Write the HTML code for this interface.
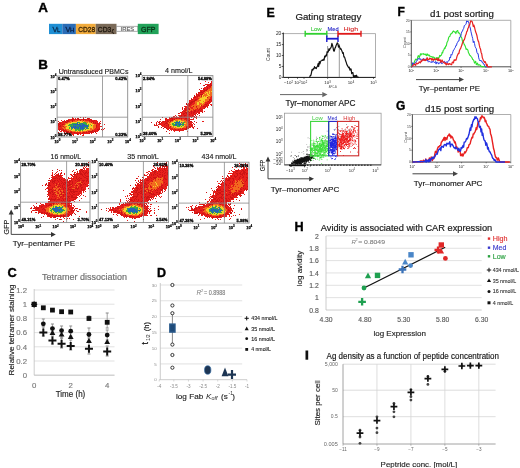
<!DOCTYPE html>
<html><head><meta charset="utf-8"><style>
html,body{margin:0;padding:0;background:#fff;width:520px;height:468px;overflow:hidden}
svg{display:block;filter:blur(0.3px);font-family:"Liberation Sans", sans-serif}
</style></head><body>
<svg width="520" height="468" viewBox="0 0 520 468" shape-rendering="auto">
<rect width="520" height="468" fill="#fff"/>
<text x="38.20" y="11.60" font-size="13.4" font-weight="bold" style="stroke:#000;stroke-width:0.402">A</text>
<rect x="49.00" y="23.80" width="13.30" height="10.30" fill="#1f8fd4" />
<rect x="62.30" y="23.80" width="13.60" height="10.30" fill="#2a6cb6" />
<rect x="75.90" y="23.80" width="19.80" height="10.30" fill="#f1ab3c" />
<rect x="95.70" y="23.80" width="20.80" height="10.30" fill="#7a6a58" />
<rect x="116.50" y="26.30" width="21.30" height="5.00" fill="#fff" stroke="#9a9a9a" stroke-width="0.8" />
<rect x="137.80" y="23.80" width="20.80" height="10.30" fill="#22a35a" />
<text x="52.40" y="31.60" font-size="7.4" fill="#0d2c4e" style="stroke:#0d2c4e;stroke-width:0.3">V</text>
<text x="57.00" y="31.90" font-size="6.0" fill="#0d2c4e" style="stroke:#0d2c4e;stroke-width:0.3">L</text>
<text x="65.40" y="31.60" font-size="7.4" fill="#0a2248" style="stroke:#0a2248;stroke-width:0.3">V</text>
<text x="70.00" y="31.90" font-size="6.0" fill="#0a2248" style="stroke:#0a2248;stroke-width:0.3">H</text>
<text x="78.30" y="31.60" font-size="7.4" fill="#3a2404" textLength="16.80" lengthAdjust="spacingAndGlyphs" style="stroke:#3a2404;stroke-width:0.3">CD28</text>
<text x="97.80" y="31.60" font-size="7.4" fill="#1e160c" textLength="13.40" lengthAdjust="spacingAndGlyphs" style="stroke:#1e160c;stroke-width:0.3">CD3</text>
<text x="111.40" y="32.60" font-size="6.0" fill="#1e160c" style="stroke:#1e160c;stroke-width:0.2">ζ</text>
<text x="120.60" y="30.70" font-size="5.4" fill="#5a5a5a" textLength="13.60" lengthAdjust="spacingAndGlyphs" style="stroke:#5a5a5a;stroke-width:0.15">IRES</text>
<text x="141.00" y="31.60" font-size="7.4" fill="#083418" textLength="14.40" lengthAdjust="spacingAndGlyphs" style="stroke:#083418;stroke-width:0.3">GFP</text>
<text x="38.20" y="68.75" font-size="13.4" font-weight="bold" style="stroke:#000;stroke-width:0.402">B</text>
<path fill="#e8201c" d="M80 117h1v1h-1zM83 117h1v1h-1zM85 117h1v1h-1zM72 118h2v1h-2zM75 118h1v1h-1zM89 118h1v1h-1zM68 119h3v1h-3zM74 119h1v1h-1zM76 119h2v1h-2zM80 119h1v1h-1zM82 119h1v1h-1zM86 119h2v1h-2zM89 119h1v1h-1zM91 119h1v1h-1zM61 120h1v1h-1zM64 120h1v1h-1zM66 120h1v1h-1zM69 120h3v1h-3zM73 120h2v1h-2zM77 120h1v1h-1zM85 120h4v1h-4zM90 120h1v1h-1zM92 120h2v1h-2zM95 120h2v1h-2zM62 121h1v1h-1zM64 121h1v1h-1zM66 121h1v1h-1zM69 121h1v1h-1zM89 121h3v1h-3zM94 121h4v1h-4zM100 121h1v1h-1zM60 122h5v1h-5zM67 122h1v1h-1zM94 122h1v1h-1zM96 122h2v1h-2zM99 122h1v1h-1zM59 123h1v1h-1zM61 123h4v1h-4zM93 123h2v1h-2zM96 123h1v1h-1zM98 123h2v1h-2zM60 124h2v1h-2zM64 124h1v1h-1zM96 124h3v1h-3zM104 124h1v1h-1zM59 125h1v1h-1zM61 125h2v1h-2zM97 125h3v1h-3zM58 126h1v1h-1zM61 126h2v1h-2zM97 126h5v1h-5zM58 127h4v1h-4zM64 127h1v1h-1zM97 127h3v1h-3zM58 128h5v1h-5zM95 128h4v1h-4zM104 128h1v1h-1zM58 129h1v1h-1zM61 129h2v1h-2zM65 129h1v1h-1zM94 129h3v1h-3zM103 129h1v1h-1zM61 130h2v1h-2zM65 130h2v1h-2zM93 130h5v1h-5zM102 130h1v1h-1zM60 131h2v1h-2zM63 131h3v1h-3zM70 131h2v1h-2zM86 131h1v1h-1zM93 131h1v1h-1zM96 131h2v1h-2zM64 132h1v1h-1zM68 132h2v1h-2zM72 132h2v1h-2zM75 132h6v1h-6zM82 132h1v1h-1zM85 132h1v1h-1zM87 132h4v1h-4zM92 132h1v1h-1zM64 133h1v1h-1zM66 133h1v1h-1zM71 133h5v1h-5zM78 133h4v1h-4zM83 133h6v1h-6zM91 133h1v1h-1zM96 133h1v1h-1zM65 134h1v1h-1zM72 134h2v1h-2zM78 134h1v1h-1zM80 134h1v1h-1zM83 134h1v1h-1zM73 135h1v1h-1zM82 135h2v1h-2z"/>
<path fill="#cc1414" d="M72 117h1v1h-1zM77 118h2v1h-2zM83 118h1v1h-1zM87 118h2v1h-2zM71 119h3v1h-3zM75 119h1v1h-1zM78 119h2v1h-2zM81 119h1v1h-1zM83 119h3v1h-3zM88 119h1v1h-1zM90 119h1v1h-1zM67 120h2v1h-2zM72 120h1v1h-1zM80 120h1v1h-1zM83 120h1v1h-1zM89 120h1v1h-1zM91 120h1v1h-1zM94 120h1v1h-1zM58 121h1v1h-1zM63 121h1v1h-1zM65 121h1v1h-1zM67 121h2v1h-2zM72 121h1v1h-1zM92 121h2v1h-2zM59 122h1v1h-1zM65 122h2v1h-2zM91 122h1v1h-1zM93 122h1v1h-1zM95 122h1v1h-1zM58 123h1v1h-1zM60 123h1v1h-1zM95 123h1v1h-1zM97 123h1v1h-1zM100 123h1v1h-1zM58 124h2v1h-2zM62 124h2v1h-2zM99 124h1v1h-1zM58 125h1v1h-1zM60 125h1v1h-1zM96 125h1v1h-1zM59 126h2v1h-2zM63 126h1v1h-1zM96 126h1v1h-1zM96 127h1v1h-1zM99 128h1v1h-1zM102 128h1v1h-1zM59 129h2v1h-2zM63 129h1v1h-1zM97 129h3v1h-3zM101 129h1v1h-1zM59 130h1v1h-1zM63 130h2v1h-2zM92 130h1v1h-1zM98 130h1v1h-1zM66 131h3v1h-3zM88 131h5v1h-5zM94 131h2v1h-2zM58 132h1v1h-1zM66 132h2v1h-2zM70 132h2v1h-2zM74 132h1v1h-1zM83 132h2v1h-2zM86 132h1v1h-1zM91 132h1v1h-1zM93 132h1v1h-1zM95 132h1v1h-1zM69 133h1v1h-1zM76 133h2v1h-2zM82 133h1v1h-1zM89 133h1v1h-1zM69 134h2v1h-2zM77 134h1v1h-1z"/>
<path fill="#f26a1e" d="M75 120h2v1h-2zM78 120h2v1h-2zM81 120h2v1h-2zM84 120h1v1h-1zM70 121h2v1h-2zM73 121h4v1h-4zM82 121h1v1h-1zM84 121h5v1h-5zM68 122h3v1h-3zM86 122h2v1h-2zM89 122h2v1h-2zM92 122h1v1h-1zM65 123h3v1h-3zM92 123h1v1h-1zM65 124h1v1h-1zM90 124h1v1h-1zM94 124h2v1h-2zM63 125h2v1h-2zM93 125h3v1h-3zM64 126h3v1h-3zM93 126h3v1h-3zM62 127h2v1h-2zM65 127h1v1h-1zM93 127h3v1h-3zM63 128h3v1h-3zM90 128h2v1h-2zM93 128h2v1h-2zM64 129h1v1h-1zM66 129h3v1h-3zM90 129h4v1h-4zM67 130h4v1h-4zM87 130h5v1h-5zM69 131h1v1h-1zM72 131h4v1h-4zM77 131h1v1h-1zM79 131h2v1h-2zM82 131h4v1h-4zM87 131h1v1h-1zM81 132h1v1h-1z"/>
<path fill="#f5d02a" d="M77 121h5v1h-5zM83 121h1v1h-1zM71 122h6v1h-6zM80 122h3v1h-3zM88 122h1v1h-1zM68 123h4v1h-4zM78 123h1v1h-1zM87 123h5v1h-5zM66 124h3v1h-3zM87 124h1v1h-1zM89 124h1v1h-1zM91 124h3v1h-3zM65 125h3v1h-3zM89 125h2v1h-2zM92 125h1v1h-1zM67 126h3v1h-3zM89 126h4v1h-4zM66 127h3v1h-3zM70 127h1v1h-1zM88 127h5v1h-5zM66 128h3v1h-3zM70 128h1v1h-1zM73 128h1v1h-1zM85 128h1v1h-1zM89 128h1v1h-1zM92 128h1v1h-1zM69 129h2v1h-2zM72 129h3v1h-3zM84 129h1v1h-1zM86 129h4v1h-4zM71 130h4v1h-4zM77 130h1v1h-1zM81 130h1v1h-1zM83 130h4v1h-4zM76 131h1v1h-1zM78 131h1v1h-1zM81 131h1v1h-1z"/>
<path fill="#3cae3c" d="M78 122h2v1h-2zM83 122h3v1h-3zM72 123h5v1h-5zM79 123h2v1h-2zM83 123h4v1h-4zM69 124h2v1h-2zM72 124h1v1h-1zM81 124h1v1h-1zM85 124h2v1h-2zM88 124h1v1h-1zM68 125h5v1h-5zM74 125h1v1h-1zM76 125h1v1h-1zM78 125h1v1h-1zM88 125h1v1h-1zM91 125h1v1h-1zM70 126h1v1h-1zM72 126h1v1h-1zM77 126h1v1h-1zM88 126h1v1h-1zM69 127h1v1h-1zM79 127h1v1h-1zM84 127h3v1h-3zM69 128h1v1h-1zM71 128h1v1h-1zM76 128h1v1h-1zM79 128h1v1h-1zM87 128h2v1h-2zM71 129h1v1h-1zM75 129h5v1h-5zM81 129h1v1h-1zM83 129h1v1h-1zM85 129h1v1h-1zM75 130h2v1h-2zM78 130h3v1h-3zM82 130h1v1h-1z"/>
<path fill="#2466b4" d="M77 122h1v1h-1zM77 123h1v1h-1zM81 123h2v1h-2zM71 124h1v1h-1zM73 124h8v1h-8zM82 124h3v1h-3zM73 125h1v1h-1zM75 125h1v1h-1zM77 125h1v1h-1zM79 125h9v1h-9zM71 126h1v1h-1zM73 126h4v1h-4zM78 126h10v1h-10zM71 127h8v1h-8zM80 127h4v1h-4zM87 127h1v1h-1zM72 128h1v1h-1zM74 128h2v1h-2zM77 128h2v1h-2zM80 128h5v1h-5zM86 128h1v1h-1zM80 129h1v1h-1zM82 129h1v1h-1z"/>
<rect x="57.10" y="76.00" width="70.60" height="61.00" fill="none" stroke="#8a8a8a" stroke-width="0.9" />
<line x1="102.50" y1="76.00" x2="102.50" y2="137.00" stroke="#8a8a8a" stroke-width="0.8" />
<line x1="57.10" y1="117.20" x2="127.70" y2="117.20" stroke="#8a8a8a" stroke-width="0.8" />
<text x="58.00" y="80.40" font-size="4.1" font-weight="bold" style="stroke:#000;stroke-width:0.3">0.47%</text>
<text x="126.80" y="80.40" font-size="4.1" text-anchor="end" font-weight="bold" style="stroke:#000;stroke-width:0.3">0.42%</text>
<text x="58.00" y="135.80" font-size="4.1" font-weight="bold" style="stroke:#000;stroke-width:0.3">98.77%</text>
<text x="126.80" y="135.80" font-size="4.1" text-anchor="end" font-weight="bold" style="stroke:#000;stroke-width:0.3">0.33%</text>
<text x="54.70" y="138.60" font-size="3.8" text-anchor="end" font-weight="bold" style="stroke:#000;stroke-width:0.25">10</text>
<text x="54.70" y="136.60" font-size="3.0" font-weight="bold" style="stroke:#000;stroke-width:0.2">0</text>
<text x="56.50" y="142.80" font-size="3.8" text-anchor="middle" font-weight="bold" style="stroke:#000;stroke-width:0.25">10</text>
<text x="58.70" y="140.90" font-size="3.0" font-weight="bold" style="stroke:#000;stroke-width:0.2">0</text>
<text x="54.70" y="123.35" font-size="3.8" text-anchor="end" font-weight="bold" style="stroke:#000;stroke-width:0.25">10</text>
<text x="54.70" y="121.35" font-size="3.0" font-weight="bold" style="stroke:#000;stroke-width:0.2">1</text>
<text x="74.15" y="142.80" font-size="3.8" text-anchor="middle" font-weight="bold" style="stroke:#000;stroke-width:0.25">10</text>
<text x="76.35" y="140.90" font-size="3.0" font-weight="bold" style="stroke:#000;stroke-width:0.2">1</text>
<text x="54.70" y="108.10" font-size="3.8" text-anchor="end" font-weight="bold" style="stroke:#000;stroke-width:0.25">10</text>
<text x="54.70" y="106.10" font-size="3.0" font-weight="bold" style="stroke:#000;stroke-width:0.2">2</text>
<text x="91.80" y="142.80" font-size="3.8" text-anchor="middle" font-weight="bold" style="stroke:#000;stroke-width:0.25">10</text>
<text x="94.00" y="140.90" font-size="3.0" font-weight="bold" style="stroke:#000;stroke-width:0.2">2</text>
<text x="54.70" y="92.85" font-size="3.8" text-anchor="end" font-weight="bold" style="stroke:#000;stroke-width:0.25">10</text>
<text x="54.70" y="90.85" font-size="3.0" font-weight="bold" style="stroke:#000;stroke-width:0.2">3</text>
<text x="109.45" y="142.80" font-size="3.8" text-anchor="middle" font-weight="bold" style="stroke:#000;stroke-width:0.25">10</text>
<text x="111.65" y="140.90" font-size="3.0" font-weight="bold" style="stroke:#000;stroke-width:0.2">3</text>
<text x="54.70" y="77.60" font-size="3.8" text-anchor="end" font-weight="bold" style="stroke:#000;stroke-width:0.25">10</text>
<text x="54.70" y="75.60" font-size="3.0" font-weight="bold" style="stroke:#000;stroke-width:0.2">4</text>
<text x="127.10" y="142.80" font-size="3.8" text-anchor="middle" font-weight="bold" style="stroke:#000;stroke-width:0.25">10</text>
<text x="129.30" y="140.90" font-size="3.0" font-weight="bold" style="stroke:#000;stroke-width:0.2">4</text>
<text x="93.60" y="73.50" font-size="7.0" text-anchor="middle" fill="#1a1a1a" textLength="69.70" lengthAdjust="spacingAndGlyphs" style="stroke:#1a1a1a;stroke-width:0.140">Untransduced PBMCs</text>
<path fill="#e8201c" d="M209 78h1v1h-1zM205 81h1v1h-1zM211 81h1v1h-1zM208 82h1v1h-1zM211 82h1v1h-1zM200 83h1v1h-1zM211 83h1v1h-1zM206 84h4v1h-4zM211 84h1v1h-1zM203 85h1v1h-1zM209 85h1v1h-1zM207 86h2v1h-2zM204 87h3v1h-3zM208 87h3v1h-3zM201 88h1v1h-1zM204 88h3v1h-3zM208 88h2v1h-2zM205 89h1v1h-1zM200 90h4v1h-4zM200 91h1v1h-1zM202 91h1v1h-1zM203 92h1v1h-1zM196 93h1v1h-1zM198 93h6v1h-6zM197 94h1v1h-1zM199 94h1v1h-1zM197 95h1v1h-1zM195 96h2v1h-2zM198 96h2v1h-2zM211 96h1v1h-1zM193 97h1v1h-1zM196 97h2v1h-2zM210 97h2v1h-2zM191 98h1v1h-1zM193 98h6v1h-6zM210 98h2v1h-2zM193 99h2v1h-2zM197 99h1v1h-1zM211 99h1v1h-1zM189 100h5v1h-5zM196 100h1v1h-1zM210 100h1v1h-1zM189 101h2v1h-2zM207 101h1v1h-1zM209 101h3v1h-3zM193 102h2v1h-2zM205 102h4v1h-4zM210 102h1v1h-1zM188 103h2v1h-2zM192 103h3v1h-3zM205 103h2v1h-2zM208 103h2v1h-2zM188 104h1v1h-1zM191 104h3v1h-3zM204 104h1v1h-1zM207 104h2v1h-2zM210 104h2v1h-2zM188 105h1v1h-1zM190 105h2v1h-2zM203 105h3v1h-3zM207 105h1v1h-1zM184 106h1v1h-1zM186 106h5v1h-5zM201 106h2v1h-2zM206 106h2v1h-2zM182 107h1v1h-1zM185 107h2v1h-2zM188 107h1v1h-1zM190 107h3v1h-3zM196 107h1v1h-1zM200 107h6v1h-6zM207 107h1v1h-1zM185 108h3v1h-3zM189 108h1v1h-1zM191 108h2v1h-2zM199 108h1v1h-1zM201 108h3v1h-3zM182 109h1v1h-1zM184 109h1v1h-1zM186 109h3v1h-3zM193 109h1v1h-1zM195 109h4v1h-4zM200 109h1v1h-1zM202 109h1v1h-1zM183 110h2v1h-2zM186 110h2v1h-2zM191 110h1v1h-1zM193 110h1v1h-1zM196 110h2v1h-2zM199 110h1v1h-1zM201 110h2v1h-2zM183 111h1v1h-1zM185 111h1v1h-1zM190 111h1v1h-1zM192 111h2v1h-2zM196 111h1v1h-1zM198 111h3v1h-3zM202 111h1v1h-1zM204 111h1v1h-1zM180 112h5v1h-5zM188 112h1v1h-1zM190 112h1v1h-1zM192 112h1v1h-1zM195 112h4v1h-4zM179 113h1v1h-1zM181 113h2v1h-2zM185 113h1v1h-1zM187 113h4v1h-4zM192 113h1v1h-1zM194 113h2v1h-2zM198 113h1v1h-1zM181 114h2v1h-2zM184 114h3v1h-3zM188 114h1v1h-1zM190 114h4v1h-4zM195 114h1v1h-1zM175 115h1v1h-1zM178 115h3v1h-3zM182 115h2v1h-2zM186 115h6v1h-6zM193 115h1v1h-1zM199 115h1v1h-1zM173 116h2v1h-2zM176 116h1v1h-1zM179 116h1v1h-1zM182 116h2v1h-2zM185 116h2v1h-2zM188 116h2v1h-2zM191 116h1v1h-1zM193 116h1v1h-1zM169 117h1v1h-1zM172 117h1v1h-1zM174 117h2v1h-2zM179 117h11v1h-11zM194 117h1v1h-1zM196 117h1v1h-1zM165 118h1v1h-1zM169 118h1v1h-1zM173 118h3v1h-3zM177 118h2v1h-2zM180 118h1v1h-1zM182 118h3v1h-3zM188 118h2v1h-2zM193 118h1v1h-1zM196 118h1v1h-1zM160 119h1v1h-1zM166 119h6v1h-6zM173 119h1v1h-1zM181 119h1v1h-1zM184 119h3v1h-3zM188 119h3v1h-3zM192 119h2v1h-2zM165 120h2v1h-2zM168 120h2v1h-2zM186 120h2v1h-2zM159 121h2v1h-2zM162 121h1v1h-1zM164 121h1v1h-1zM166 121h1v1h-1zM187 121h3v1h-3zM202 121h2v1h-2zM156 122h1v1h-1zM158 122h1v1h-1zM162 122h4v1h-4zM167 122h1v1h-1zM169 122h1v1h-1zM189 122h4v1h-4zM160 123h5v1h-5zM188 123h4v1h-4zM193 123h1v1h-1zM154 124h1v1h-1zM158 124h2v1h-2zM161 124h3v1h-3zM165 124h3v1h-3zM188 124h1v1h-1zM190 124h3v1h-3zM155 125h3v1h-3zM161 125h5v1h-5zM167 125h1v1h-1zM188 125h3v1h-3zM192 125h1v1h-1zM162 126h6v1h-6zM186 126h3v1h-3zM190 126h3v1h-3zM194 126h1v1h-1zM166 127h5v1h-5zM187 127h2v1h-2zM190 127h1v1h-1zM192 127h1v1h-1zM167 128h6v1h-6zM174 128h1v1h-1zM180 128h1v1h-1zM183 128h3v1h-3zM187 128h2v1h-2zM193 128h1v1h-1zM167 129h1v1h-1zM170 129h5v1h-5zM176 129h2v1h-2zM179 129h6v1h-6zM169 130h1v1h-1zM171 130h1v1h-1zM173 130h11v1h-11zM174 131h1v1h-1zM179 131h1v1h-1zM187 131h1v1h-1zM169 133h1v1h-1z"/>
<path fill="#cc1414" d="M210 83h1v1h-1zM205 84h1v1h-1zM210 84h1v1h-1zM204 85h1v1h-1zM207 85h2v1h-2zM210 85h2v1h-2zM206 86h1v1h-1zM209 86h2v1h-2zM207 87h1v1h-1zM203 88h1v1h-1zM207 88h1v1h-1zM199 89h1v1h-1zM203 89h2v1h-2zM206 89h2v1h-2zM204 90h3v1h-3zM201 91h1v1h-1zM203 91h2v1h-2zM198 92h5v1h-5zM196 94h1v1h-1zM198 94h1v1h-1zM200 94h3v1h-3zM194 95h1v1h-1zM196 95h1v1h-1zM198 95h2v1h-2zM201 95h1v1h-1zM194 96h1v1h-1zM197 96h1v1h-1zM201 96h1v1h-1zM194 97h2v1h-2zM207 97h1v1h-1zM191 99h2v1h-2zM195 99h2v1h-2zM209 99h2v1h-2zM194 100h2v1h-2zM209 100h1v1h-1zM211 100h1v1h-1zM191 101h4v1h-4zM208 101h1v1h-1zM189 102h4v1h-4zM209 102h1v1h-1zM186 103h1v1h-1zM190 103h2v1h-2zM207 103h1v1h-1zM186 104h2v1h-2zM189 104h2v1h-2zM205 104h2v1h-2zM187 105h1v1h-1zM189 105h1v1h-1zM201 105h1v1h-1zM206 105h1v1h-1zM208 105h1v1h-1zM211 105h1v1h-1zM185 106h1v1h-1zM193 106h1v1h-1zM196 106h1v1h-1zM203 106h3v1h-3zM187 107h1v1h-1zM182 108h1v1h-1zM184 108h1v1h-1zM188 108h1v1h-1zM197 108h1v1h-1zM200 108h1v1h-1zM204 108h1v1h-1zM185 109h1v1h-1zM189 109h1v1h-1zM199 109h1v1h-1zM201 109h1v1h-1zM185 110h1v1h-1zM194 110h2v1h-2zM198 110h1v1h-1zM200 110h1v1h-1zM182 111h1v1h-1zM184 111h1v1h-1zM187 111h2v1h-2zM191 111h1v1h-1zM194 111h2v1h-2zM197 111h1v1h-1zM201 111h1v1h-1zM185 112h3v1h-3zM189 112h1v1h-1zM191 112h1v1h-1zM193 112h2v1h-2zM199 112h1v1h-1zM202 112h1v1h-1zM178 113h1v1h-1zM183 113h2v1h-2zM186 113h1v1h-1zM191 113h1v1h-1zM193 113h1v1h-1zM196 113h1v1h-1zM199 113h1v1h-1zM183 114h1v1h-1zM187 114h1v1h-1zM189 114h1v1h-1zM194 114h1v1h-1zM197 114h1v1h-1zM181 115h1v1h-1zM184 115h2v1h-2zM192 115h1v1h-1zM195 115h1v1h-1zM180 116h2v1h-2zM184 116h1v1h-1zM187 116h1v1h-1zM190 116h1v1h-1zM192 116h1v1h-1zM194 116h1v1h-1zM196 116h1v1h-1zM162 117h1v1h-1zM171 117h1v1h-1zM173 117h1v1h-1zM176 117h3v1h-3zM191 117h1v1h-1zM195 117h1v1h-1zM166 118h1v1h-1zM170 118h3v1h-3zM176 118h1v1h-1zM179 118h1v1h-1zM181 118h1v1h-1zM185 118h3v1h-3zM165 119h1v1h-1zM172 119h1v1h-1zM174 119h1v1h-1zM187 119h1v1h-1zM191 119h1v1h-1zM167 120h1v1h-1zM170 120h3v1h-3zM188 120h2v1h-2zM157 121h1v1h-1zM163 121h1v1h-1zM165 121h1v1h-1zM167 121h2v1h-2zM170 121h1v1h-1zM190 121h2v1h-2zM194 121h1v1h-1zM151 122h1v1h-1zM159 122h1v1h-1zM161 122h1v1h-1zM166 122h1v1h-1zM188 122h1v1h-1zM196 122h1v1h-1zM156 123h1v1h-1zM159 123h1v1h-1zM165 123h3v1h-3zM156 124h1v1h-1zM160 124h1v1h-1zM164 124h1v1h-1zM168 124h1v1h-1zM189 124h1v1h-1zM194 124h1v1h-1zM154 125h1v1h-1zM166 125h1v1h-1zM168 125h1v1h-1zM191 125h1v1h-1zM158 126h1v1h-1zM168 126h1v1h-1zM170 126h1v1h-1zM189 126h1v1h-1zM158 127h1v1h-1zM161 127h1v1h-1zM164 127h2v1h-2zM186 127h1v1h-1zM189 127h1v1h-1zM193 127h1v1h-1zM163 128h1v1h-1zM166 128h1v1h-1zM182 128h1v1h-1zM186 128h1v1h-1zM197 128h1v1h-1zM168 129h1v1h-1zM175 129h1v1h-1zM178 129h1v1h-1zM185 129h2v1h-2zM166 131h1v1h-1z"/>
<path fill="#f26a1e" d="M211 86h1v1h-1zM211 87h1v1h-1zM210 88h2v1h-2zM208 89h4v1h-4zM207 90h5v1h-5zM205 91h4v1h-4zM210 91h1v1h-1zM204 92h2v1h-2zM208 92h1v1h-1zM210 92h2v1h-2zM204 93h1v1h-1zM206 93h1v1h-1zM208 93h1v1h-1zM210 93h2v1h-2zM204 94h3v1h-3zM209 94h3v1h-3zM200 95h1v1h-1zM203 95h5v1h-5zM210 95h2v1h-2zM200 96h1v1h-1zM203 96h1v1h-1zM205 96h1v1h-1zM208 96h3v1h-3zM198 97h4v1h-4zM208 97h2v1h-2zM199 98h1v1h-1zM207 98h3v1h-3zM198 99h1v1h-1zM205 99h4v1h-4zM197 100h4v1h-4zM205 100h4v1h-4zM195 101h4v1h-4zM203 101h1v1h-1zM205 101h2v1h-2zM195 102h2v1h-2zM199 102h1v1h-1zM204 102h1v1h-1zM195 103h2v1h-2zM199 103h3v1h-3zM203 103h2v1h-2zM194 104h3v1h-3zM199 104h5v1h-5zM192 105h8v1h-8zM202 105h1v1h-1zM191 106h2v1h-2zM194 106h2v1h-2zM197 106h4v1h-4zM189 107h1v1h-1zM193 107h3v1h-3zM197 107h3v1h-3zM190 108h1v1h-1zM193 108h4v1h-4zM198 108h1v1h-1zM190 109h3v1h-3zM194 109h1v1h-1zM188 110h3v1h-3zM192 110h1v1h-1zM186 111h1v1h-1zM189 111h1v1h-1zM175 119h6v1h-6zM182 119h2v1h-2zM173 120h1v1h-1zM175 120h3v1h-3zM181 120h5v1h-5zM169 121h1v1h-1zM171 121h2v1h-2zM184 121h3v1h-3zM168 122h1v1h-1zM170 122h1v1h-1zM182 122h1v1h-1zM185 122h3v1h-3zM168 123h2v1h-2zM186 123h2v1h-2zM169 124h2v1h-2zM184 124h4v1h-4zM169 125h1v1h-1zM185 125h3v1h-3zM169 126h1v1h-1zM171 126h1v1h-1zM173 126h1v1h-1zM184 126h2v1h-2zM171 127h3v1h-3zM175 127h1v1h-1zM183 127h3v1h-3zM173 128h1v1h-1zM175 128h5v1h-5zM181 128h1v1h-1z"/>
<path fill="#f5d02a" d="M209 91h1v1h-1zM211 91h1v1h-1zM206 92h2v1h-2zM209 92h1v1h-1zM205 93h1v1h-1zM207 93h1v1h-1zM209 93h1v1h-1zM203 94h1v1h-1zM207 94h2v1h-2zM202 95h1v1h-1zM208 95h2v1h-2zM202 96h1v1h-1zM204 96h1v1h-1zM206 96h2v1h-2zM202 97h5v1h-5zM200 98h7v1h-7zM199 99h6v1h-6zM201 100h4v1h-4zM199 101h4v1h-4zM204 101h1v1h-1zM197 102h2v1h-2zM200 102h4v1h-4zM197 103h2v1h-2zM202 103h1v1h-1zM197 104h2v1h-2zM200 105h1v1h-1zM174 120h1v1h-1zM178 120h3v1h-3zM173 121h3v1h-3zM178 121h1v1h-1zM180 121h4v1h-4zM171 122h3v1h-3zM180 122h1v1h-1zM170 123h2v1h-2zM174 123h1v1h-1zM181 123h1v1h-1zM184 123h2v1h-2zM171 124h1v1h-1zM170 125h3v1h-3zM181 125h1v1h-1zM184 125h1v1h-1zM172 126h1v1h-1zM174 126h3v1h-3zM180 126h1v1h-1zM182 126h2v1h-2zM174 127h1v1h-1zM176 127h7v1h-7z"/>
<path fill="#3cae3c" d="M176 121h2v1h-2zM174 122h1v1h-1zM183 122h2v1h-2zM172 123h2v1h-2zM175 123h1v1h-1zM177 123h1v1h-1zM179 123h1v1h-1zM182 123h2v1h-2zM172 124h3v1h-3zM177 124h1v1h-1zM182 124h1v1h-1zM173 125h2v1h-2zM177 125h2v1h-2zM180 125h1v1h-1zM182 125h2v1h-2zM177 126h3v1h-3zM181 126h1v1h-1z"/>
<path fill="#2466b4" d="M179 121h1v1h-1zM175 122h5v1h-5zM181 122h1v1h-1zM176 123h1v1h-1zM178 123h1v1h-1zM180 123h1v1h-1zM175 124h2v1h-2zM178 124h4v1h-4zM183 124h1v1h-1zM175 125h2v1h-2zM179 125h1v1h-1z"/>
<rect x="142.20" y="75.60" width="70.70" height="60.90" fill="none" stroke="#8a8a8a" stroke-width="0.9" />
<line x1="187.80" y1="75.60" x2="187.80" y2="136.50" stroke="#8a8a8a" stroke-width="0.8" />
<line x1="142.20" y1="117.20" x2="212.90" y2="117.20" stroke="#8a8a8a" stroke-width="0.8" />
<text x="143.10" y="80.00" font-size="4.1" font-weight="bold" style="stroke:#000;stroke-width:0.3">2.84%</text>
<text x="212.00" y="80.00" font-size="4.1" text-anchor="end" font-weight="bold" style="stroke:#000;stroke-width:0.3">54.88%</text>
<text x="143.10" y="135.30" font-size="4.1" font-weight="bold" style="stroke:#000;stroke-width:0.3">38.60%</text>
<text x="212.00" y="135.30" font-size="4.1" text-anchor="end" font-weight="bold" style="stroke:#000;stroke-width:0.3">5.29%</text>
<text x="139.80" y="138.10" font-size="3.8" text-anchor="end" font-weight="bold" style="stroke:#000;stroke-width:0.25">10</text>
<text x="139.80" y="136.10" font-size="3.0" font-weight="bold" style="stroke:#000;stroke-width:0.2">0</text>
<text x="141.60" y="142.30" font-size="3.8" text-anchor="middle" font-weight="bold" style="stroke:#000;stroke-width:0.25">10</text>
<text x="143.80" y="140.40" font-size="3.0" font-weight="bold" style="stroke:#000;stroke-width:0.2">0</text>
<text x="139.80" y="122.88" font-size="3.8" text-anchor="end" font-weight="bold" style="stroke:#000;stroke-width:0.25">10</text>
<text x="139.80" y="120.88" font-size="3.0" font-weight="bold" style="stroke:#000;stroke-width:0.2">1</text>
<text x="159.28" y="142.30" font-size="3.8" text-anchor="middle" font-weight="bold" style="stroke:#000;stroke-width:0.25">10</text>
<text x="161.47" y="140.40" font-size="3.0" font-weight="bold" style="stroke:#000;stroke-width:0.2">1</text>
<text x="139.80" y="107.65" font-size="3.8" text-anchor="end" font-weight="bold" style="stroke:#000;stroke-width:0.25">10</text>
<text x="139.80" y="105.65" font-size="3.0" font-weight="bold" style="stroke:#000;stroke-width:0.2">2</text>
<text x="176.95" y="142.30" font-size="3.8" text-anchor="middle" font-weight="bold" style="stroke:#000;stroke-width:0.25">10</text>
<text x="179.15" y="140.40" font-size="3.0" font-weight="bold" style="stroke:#000;stroke-width:0.2">2</text>
<text x="139.80" y="92.42" font-size="3.8" text-anchor="end" font-weight="bold" style="stroke:#000;stroke-width:0.25">10</text>
<text x="139.80" y="90.42" font-size="3.0" font-weight="bold" style="stroke:#000;stroke-width:0.2">3</text>
<text x="194.62" y="142.30" font-size="3.8" text-anchor="middle" font-weight="bold" style="stroke:#000;stroke-width:0.25">10</text>
<text x="196.82" y="140.40" font-size="3.0" font-weight="bold" style="stroke:#000;stroke-width:0.2">3</text>
<text x="139.80" y="77.20" font-size="3.8" text-anchor="end" font-weight="bold" style="stroke:#000;stroke-width:0.25">10</text>
<text x="139.80" y="75.20" font-size="3.0" font-weight="bold" style="stroke:#000;stroke-width:0.2">4</text>
<text x="212.30" y="142.30" font-size="3.8" text-anchor="middle" font-weight="bold" style="stroke:#000;stroke-width:0.25">10</text>
<text x="214.50" y="140.40" font-size="3.0" font-weight="bold" style="stroke:#000;stroke-width:0.2">4</text>
<text x="178.80" y="73.30" font-size="7.0" text-anchor="middle" fill="#1a1a1a" textLength="27.40" lengthAdjust="spacingAndGlyphs" style="stroke:#1a1a1a;stroke-width:0.140">4 nmol/L</text>
<path fill="#e8201c" d="M88 162h1v1h-1zM81 164h1v1h-1zM82 165h1v1h-1zM88 165h1v1h-1zM84 166h1v1h-1zM86 166h1v1h-1zM88 166h1v1h-1zM83 167h1v1h-1zM85 167h1v1h-1zM84 168h1v1h-1zM86 168h3v1h-3zM80 169h1v1h-1zM84 169h1v1h-1zM86 169h3v1h-3zM61 170h1v1h-1zM73 170h1v1h-1zM80 170h1v1h-1zM82 170h1v1h-1zM84 170h5v1h-5zM57 171h1v1h-1zM79 171h1v1h-1zM81 171h1v1h-1zM83 171h3v1h-3zM87 171h2v1h-2zM52 172h1v1h-1zM75 172h1v1h-1zM77 172h1v1h-1zM79 172h1v1h-1zM81 172h2v1h-2zM84 172h1v1h-1zM87 172h1v1h-1zM52 173h1v1h-1zM58 173h1v1h-1zM60 173h1v1h-1zM64 173h1v1h-1zM74 173h1v1h-1zM76 173h1v1h-1zM82 173h2v1h-2zM86 173h1v1h-1zM88 173h1v1h-1zM52 174h1v1h-1zM54 174h1v1h-1zM56 174h2v1h-2zM60 174h1v1h-1zM64 174h1v1h-1zM70 174h2v1h-2zM76 174h1v1h-1zM78 174h2v1h-2zM83 174h1v1h-1zM85 174h4v1h-4zM51 175h1v1h-1zM56 175h1v1h-1zM59 175h1v1h-1zM61 175h2v1h-2zM71 175h2v1h-2zM75 175h7v1h-7zM83 175h2v1h-2zM86 175h3v1h-3zM52 176h2v1h-2zM55 176h3v1h-3zM60 176h2v1h-2zM72 176h1v1h-1zM74 176h2v1h-2zM77 176h6v1h-6zM84 176h2v1h-2zM51 177h5v1h-5zM57 177h3v1h-3zM61 177h2v1h-2zM68 177h1v1h-1zM71 177h1v1h-1zM73 177h3v1h-3zM77 177h2v1h-2zM80 177h4v1h-4zM86 177h3v1h-3zM56 178h1v1h-1zM58 178h1v1h-1zM60 178h4v1h-4zM68 178h5v1h-5zM74 178h2v1h-2zM77 178h1v1h-1zM79 178h1v1h-1zM82 178h4v1h-4zM88 178h1v1h-1zM52 179h7v1h-7zM60 179h1v1h-1zM62 179h4v1h-4zM67 179h1v1h-1zM71 179h6v1h-6zM78 179h1v1h-1zM80 179h7v1h-7zM88 179h1v1h-1zM50 180h2v1h-2zM53 180h1v1h-1zM56 180h1v1h-1zM58 180h2v1h-2zM61 180h2v1h-2zM65 180h2v1h-2zM70 180h1v1h-1zM72 180h3v1h-3zM76 180h2v1h-2zM80 180h2v1h-2zM85 180h1v1h-1zM88 180h1v1h-1zM51 181h1v1h-1zM55 181h3v1h-3zM59 181h2v1h-2zM62 181h7v1h-7zM71 181h1v1h-1zM73 181h4v1h-4zM78 181h2v1h-2zM81 181h2v1h-2zM84 181h2v1h-2zM87 181h1v1h-1zM48 182h1v1h-1zM50 182h2v1h-2zM53 182h1v1h-1zM55 182h7v1h-7zM63 182h1v1h-1zM70 182h2v1h-2zM73 182h4v1h-4zM83 182h6v1h-6zM48 183h1v1h-1zM50 183h3v1h-3zM54 183h2v1h-2zM57 183h1v1h-1zM60 183h1v1h-1zM62 183h1v1h-1zM64 183h1v1h-1zM66 183h3v1h-3zM70 183h2v1h-2zM73 183h2v1h-2zM77 183h2v1h-2zM82 183h2v1h-2zM85 183h4v1h-4zM45 184h1v1h-1zM50 184h5v1h-5zM57 184h2v1h-2zM60 184h3v1h-3zM65 184h2v1h-2zM68 184h1v1h-1zM72 184h3v1h-3zM76 184h1v1h-1zM78 184h2v1h-2zM82 184h1v1h-1zM84 184h1v1h-1zM86 184h2v1h-2zM42 185h1v1h-1zM47 185h1v1h-1zM51 185h5v1h-5zM58 185h2v1h-2zM61 185h1v1h-1zM63 185h3v1h-3zM70 185h1v1h-1zM73 185h3v1h-3zM79 185h1v1h-1zM82 185h6v1h-6zM49 186h5v1h-5zM57 186h1v1h-1zM60 186h2v1h-2zM63 186h4v1h-4zM68 186h3v1h-3zM72 186h2v1h-2zM75 186h2v1h-2zM78 186h2v1h-2zM81 186h6v1h-6zM47 187h5v1h-5zM53 187h3v1h-3zM57 187h2v1h-2zM61 187h1v1h-1zM63 187h1v1h-1zM65 187h4v1h-4zM71 187h5v1h-5zM79 187h2v1h-2zM83 187h3v1h-3zM46 188h2v1h-2zM49 188h3v1h-3zM56 188h1v1h-1zM59 188h1v1h-1zM61 188h2v1h-2zM64 188h1v1h-1zM67 188h1v1h-1zM69 188h3v1h-3zM79 188h2v1h-2zM82 188h4v1h-4zM45 189h1v1h-1zM52 189h2v1h-2zM55 189h1v1h-1zM58 189h1v1h-1zM60 189h3v1h-3zM64 189h4v1h-4zM74 189h3v1h-3zM78 189h3v1h-3zM82 189h1v1h-1zM84 189h2v1h-2zM50 190h2v1h-2zM53 190h1v1h-1zM60 190h1v1h-1zM63 190h3v1h-3zM68 190h2v1h-2zM71 190h2v1h-2zM74 190h9v1h-9zM84 190h1v1h-1zM47 191h4v1h-4zM53 191h1v1h-1zM56 191h2v1h-2zM61 191h1v1h-1zM64 191h2v1h-2zM68 191h2v1h-2zM78 191h1v1h-1zM81 191h1v1h-1zM83 191h1v1h-1zM51 192h1v1h-1zM53 192h1v1h-1zM55 192h1v1h-1zM57 192h2v1h-2zM61 192h2v1h-2zM65 192h1v1h-1zM67 192h2v1h-2zM70 192h1v1h-1zM72 192h1v1h-1zM75 192h7v1h-7zM83 192h1v1h-1zM49 193h1v1h-1zM51 193h2v1h-2zM54 193h1v1h-1zM57 193h1v1h-1zM64 193h3v1h-3zM68 193h1v1h-1zM70 193h2v1h-2zM73 193h5v1h-5zM79 193h3v1h-3zM47 194h5v1h-5zM54 194h1v1h-1zM59 194h1v1h-1zM62 194h1v1h-1zM64 194h1v1h-1zM66 194h4v1h-4zM71 194h2v1h-2zM75 194h1v1h-1zM77 194h3v1h-3zM81 194h1v1h-1zM49 195h9v1h-9zM62 195h1v1h-1zM64 195h2v1h-2zM67 195h4v1h-4zM73 195h6v1h-6zM80 195h1v1h-1zM49 196h3v1h-3zM53 196h1v1h-1zM55 196h2v1h-2zM59 196h2v1h-2zM62 196h1v1h-1zM64 196h3v1h-3zM70 196h1v1h-1zM73 196h4v1h-4zM79 196h1v1h-1zM85 196h1v1h-1zM49 197h10v1h-10zM61 197h3v1h-3zM65 197h3v1h-3zM69 197h2v1h-2zM48 198h1v1h-1zM50 198h1v1h-1zM52 198h3v1h-3zM56 198h1v1h-1zM58 198h4v1h-4zM63 198h2v1h-2zM68 198h1v1h-1zM70 198h5v1h-5zM76 198h1v1h-1zM81 198h1v1h-1zM49 199h1v1h-1zM56 199h1v1h-1zM60 199h3v1h-3zM64 199h1v1h-1zM66 199h1v1h-1zM68 199h5v1h-5zM75 199h1v1h-1zM51 200h3v1h-3zM55 200h6v1h-6zM62 200h1v1h-1zM64 200h3v1h-3zM68 200h1v1h-1zM70 200h2v1h-2zM73 200h1v1h-1zM79 200h1v1h-1zM48 201h1v1h-1zM51 201h5v1h-5zM57 201h5v1h-5zM63 201h1v1h-1zM67 201h1v1h-1zM74 201h1v1h-1zM49 202h2v1h-2zM52 202h1v1h-1zM54 202h13v1h-13zM68 202h1v1h-1zM36 203h1v1h-1zM40 203h1v1h-1zM46 203h7v1h-7zM54 203h1v1h-1zM56 203h1v1h-1zM58 203h1v1h-1zM62 203h3v1h-3zM66 203h2v1h-2zM69 203h2v1h-2zM41 204h3v1h-3zM45 204h4v1h-4zM57 204h1v1h-1zM65 204h1v1h-1zM67 204h3v1h-3zM71 204h1v1h-1zM33 205h1v1h-1zM40 205h3v1h-3zM44 205h2v1h-2zM47 205h1v1h-1zM50 205h1v1h-1zM64 205h2v1h-2zM67 205h1v1h-1zM70 205h2v1h-2zM36 206h1v1h-1zM40 206h1v1h-1zM43 206h6v1h-6zM65 206h1v1h-1zM67 206h1v1h-1zM69 206h3v1h-3zM74 206h1v1h-1zM31 207h1v1h-1zM34 207h1v1h-1zM36 207h1v1h-1zM39 207h2v1h-2zM42 207h5v1h-5zM68 207h4v1h-4zM73 207h1v1h-1zM30 208h2v1h-2zM35 208h1v1h-1zM39 208h4v1h-4zM44 208h1v1h-1zM70 208h2v1h-2zM73 208h1v1h-1zM76 208h2v1h-2zM35 209h7v1h-7zM43 209h1v1h-1zM45 209h1v1h-1zM69 209h4v1h-4zM74 209h1v1h-1zM80 209h1v1h-1zM32 210h1v1h-1zM34 210h2v1h-2zM37 210h2v1h-2zM40 210h5v1h-5zM70 210h1v1h-1zM74 210h1v1h-1zM76 210h1v1h-1zM38 211h8v1h-8zM69 211h2v1h-2zM72 211h1v1h-1zM78 211h1v1h-1zM86 211h1v1h-1zM31 212h1v1h-1zM35 212h1v1h-1zM38 212h1v1h-1zM40 212h1v1h-1zM43 212h1v1h-1zM45 212h2v1h-2zM68 212h1v1h-1zM70 212h4v1h-4zM86 212h1v1h-1zM38 213h1v1h-1zM42 213h3v1h-3zM48 213h1v1h-1zM67 213h5v1h-5zM44 214h1v1h-1zM46 214h2v1h-2zM49 214h4v1h-4zM63 214h1v1h-1zM65 214h1v1h-1zM67 214h1v1h-1zM69 214h1v1h-1zM47 215h1v1h-1zM52 215h1v1h-1zM55 215h2v1h-2zM58 215h2v1h-2zM62 215h1v1h-1zM65 215h4v1h-4zM47 216h2v1h-2zM50 216h4v1h-4zM59 216h1v1h-1zM62 216h1v1h-1zM65 216h3v1h-3zM79 216h1v1h-1zM50 217h2v1h-2zM60 217h1v1h-1zM63 217h1v1h-1zM64 218h1v1h-1zM67 218h1v1h-1zM55 219h1v1h-1zM61 219h1v1h-1zM66 219h1v1h-1z"/>
<path fill="#cc1414" d="M88 164h1v1h-1zM83 168h1v1h-1zM57 169h1v1h-1zM76 169h1v1h-1zM81 169h2v1h-2zM52 170h1v1h-1zM59 170h1v1h-1zM79 170h1v1h-1zM81 170h1v1h-1zM83 170h1v1h-1zM72 171h1v1h-1zM77 171h1v1h-1zM80 171h1v1h-1zM82 171h1v1h-1zM86 171h1v1h-1zM56 172h1v1h-1zM61 172h1v1h-1zM74 172h1v1h-1zM80 172h1v1h-1zM83 172h1v1h-1zM85 172h2v1h-2zM88 172h1v1h-1zM55 173h1v1h-1zM61 173h1v1h-1zM77 173h5v1h-5zM84 173h2v1h-2zM87 173h1v1h-1zM58 174h1v1h-1zM73 174h3v1h-3zM77 174h1v1h-1zM80 174h3v1h-3zM84 174h1v1h-1zM52 175h1v1h-1zM55 175h1v1h-1zM57 175h2v1h-2zM60 175h1v1h-1zM74 175h1v1h-1zM82 175h1v1h-1zM85 175h1v1h-1zM54 176h1v1h-1zM58 176h2v1h-2zM73 176h1v1h-1zM76 176h1v1h-1zM83 176h1v1h-1zM86 176h3v1h-3zM56 177h1v1h-1zM60 177h1v1h-1zM76 177h1v1h-1zM79 177h1v1h-1zM84 177h2v1h-2zM49 178h1v1h-1zM52 178h4v1h-4zM57 178h1v1h-1zM59 178h1v1h-1zM64 178h1v1h-1zM73 178h1v1h-1zM76 178h1v1h-1zM78 178h1v1h-1zM80 178h2v1h-2zM86 178h2v1h-2zM51 179h1v1h-1zM59 179h1v1h-1zM61 179h1v1h-1zM77 179h1v1h-1zM79 179h1v1h-1zM87 179h1v1h-1zM48 180h2v1h-2zM52 180h1v1h-1zM54 180h2v1h-2zM57 180h1v1h-1zM60 180h1v1h-1zM63 180h2v1h-2zM67 180h1v1h-1zM69 180h1v1h-1zM71 180h1v1h-1zM75 180h1v1h-1zM78 180h2v1h-2zM82 180h3v1h-3zM86 180h2v1h-2zM50 181h1v1h-1zM52 181h3v1h-3zM58 181h1v1h-1zM61 181h1v1h-1zM69 181h2v1h-2zM72 181h1v1h-1zM77 181h1v1h-1zM83 181h1v1h-1zM86 181h1v1h-1zM88 181h1v1h-1zM49 182h1v1h-1zM52 182h1v1h-1zM54 182h1v1h-1zM62 182h1v1h-1zM64 182h6v1h-6zM72 182h1v1h-1zM81 182h2v1h-2zM46 183h1v1h-1zM49 183h1v1h-1zM53 183h1v1h-1zM56 183h1v1h-1zM59 183h1v1h-1zM61 183h1v1h-1zM63 183h1v1h-1zM65 183h1v1h-1zM69 183h1v1h-1zM72 183h1v1h-1zM75 183h1v1h-1zM79 183h2v1h-2zM84 183h1v1h-1zM46 184h1v1h-1zM48 184h2v1h-2zM56 184h1v1h-1zM59 184h1v1h-1zM63 184h2v1h-2zM67 184h1v1h-1zM69 184h3v1h-3zM80 184h2v1h-2zM83 184h1v1h-1zM85 184h1v1h-1zM45 185h1v1h-1zM48 185h3v1h-3zM56 185h1v1h-1zM60 185h1v1h-1zM62 185h1v1h-1zM66 185h4v1h-4zM72 185h1v1h-1zM76 185h2v1h-2zM80 185h2v1h-2zM88 185h1v1h-1zM48 186h1v1h-1zM54 186h1v1h-1zM58 186h2v1h-2zM62 186h1v1h-1zM67 186h1v1h-1zM71 186h1v1h-1zM80 186h1v1h-1zM87 186h1v1h-1zM52 187h1v1h-1zM60 187h1v1h-1zM62 187h1v1h-1zM64 187h1v1h-1zM69 187h2v1h-2zM76 187h1v1h-1zM78 187h1v1h-1zM81 187h2v1h-2zM48 188h1v1h-1zM52 188h1v1h-1zM63 188h1v1h-1zM65 188h2v1h-2zM68 188h1v1h-1zM75 188h4v1h-4zM81 188h1v1h-1zM88 188h1v1h-1zM48 189h4v1h-4zM59 189h1v1h-1zM63 189h1v1h-1zM68 189h6v1h-6zM77 189h1v1h-1zM81 189h1v1h-1zM83 189h1v1h-1zM48 190h2v1h-2zM52 190h1v1h-1zM54 190h2v1h-2zM58 190h1v1h-1zM66 190h2v1h-2zM70 190h1v1h-1zM73 190h1v1h-1zM83 190h1v1h-1zM51 191h2v1h-2zM60 191h1v1h-1zM63 191h1v1h-1zM66 191h1v1h-1zM70 191h8v1h-8zM79 191h2v1h-2zM85 191h1v1h-1zM48 192h3v1h-3zM52 192h1v1h-1zM54 192h1v1h-1zM63 192h2v1h-2zM66 192h1v1h-1zM69 192h1v1h-1zM71 192h1v1h-1zM73 192h2v1h-2zM48 193h1v1h-1zM50 193h1v1h-1zM53 193h1v1h-1zM58 193h1v1h-1zM61 193h1v1h-1zM67 193h1v1h-1zM69 193h1v1h-1zM72 193h1v1h-1zM78 193h1v1h-1zM52 194h2v1h-2zM55 194h1v1h-1zM60 194h2v1h-2zM63 194h1v1h-1zM65 194h1v1h-1zM70 194h1v1h-1zM73 194h2v1h-2zM76 194h1v1h-1zM48 195h1v1h-1zM59 195h1v1h-1zM63 195h1v1h-1zM66 195h1v1h-1zM71 195h2v1h-2zM83 195h1v1h-1zM47 196h1v1h-1zM52 196h1v1h-1zM54 196h1v1h-1zM61 196h1v1h-1zM63 196h1v1h-1zM67 196h3v1h-3zM71 196h2v1h-2zM60 197h1v1h-1zM68 197h1v1h-1zM71 197h7v1h-7zM49 198h1v1h-1zM51 198h1v1h-1zM55 198h1v1h-1zM62 198h1v1h-1zM65 198h3v1h-3zM69 198h1v1h-1zM75 198h1v1h-1zM48 199h1v1h-1zM50 199h6v1h-6zM57 199h3v1h-3zM63 199h1v1h-1zM65 199h1v1h-1zM67 199h1v1h-1zM73 199h2v1h-2zM50 200h1v1h-1zM54 200h1v1h-1zM61 200h1v1h-1zM63 200h1v1h-1zM67 200h1v1h-1zM69 200h1v1h-1zM72 200h1v1h-1zM49 201h2v1h-2zM56 201h1v1h-1zM62 201h1v1h-1zM64 201h3v1h-3zM68 201h3v1h-3zM48 202h1v1h-1zM51 202h1v1h-1zM53 202h1v1h-1zM67 202h1v1h-1zM69 202h1v1h-1zM45 203h1v1h-1zM53 203h1v1h-1zM61 203h1v1h-1zM65 203h1v1h-1zM68 203h1v1h-1zM71 203h1v1h-1zM49 204h3v1h-3zM53 204h1v1h-1zM66 204h1v1h-1zM39 205h1v1h-1zM43 205h1v1h-1zM46 205h1v1h-1zM48 205h2v1h-2zM51 205h1v1h-1zM66 205h1v1h-1zM68 205h2v1h-2zM73 205h1v1h-1zM34 206h1v1h-1zM39 206h1v1h-1zM41 206h2v1h-2zM66 206h1v1h-1zM68 206h1v1h-1zM35 207h1v1h-1zM37 207h2v1h-2zM41 207h1v1h-1zM72 207h1v1h-1zM33 208h2v1h-2zM36 208h3v1h-3zM43 208h1v1h-1zM69 208h1v1h-1zM72 208h1v1h-1zM75 208h1v1h-1zM42 209h1v1h-1zM44 209h1v1h-1zM79 209h1v1h-1zM33 210h1v1h-1zM36 210h1v1h-1zM39 210h1v1h-1zM45 210h1v1h-1zM71 210h3v1h-3zM31 211h1v1h-1zM68 211h1v1h-1zM71 211h1v1h-1zM73 211h1v1h-1zM77 211h1v1h-1zM36 212h1v1h-1zM39 212h1v1h-1zM41 212h2v1h-2zM44 212h1v1h-1zM47 212h1v1h-1zM69 212h1v1h-1zM41 213h1v1h-1zM45 213h3v1h-3zM49 213h1v1h-1zM66 213h1v1h-1zM72 213h1v1h-1zM74 213h1v1h-1zM48 214h1v1h-1zM66 214h1v1h-1zM68 214h1v1h-1zM70 214h2v1h-2zM75 214h1v1h-1zM48 215h4v1h-4zM53 215h2v1h-2zM57 215h1v1h-1zM60 215h2v1h-2zM63 215h2v1h-2zM69 215h1v1h-1zM71 215h1v1h-1zM43 216h1v1h-1zM49 216h1v1h-1zM54 216h5v1h-5zM60 216h2v1h-2zM63 216h2v1h-2zM68 216h1v1h-1zM41 217h1v1h-1zM53 217h3v1h-3zM57 218h1v1h-1zM69 218h1v1h-1zM59 219h2v1h-2zM73 219h1v1h-1zM63 221h1v1h-1z"/>
<path fill="#f26a1e" d="M80 181h1v1h-1zM77 182h4v1h-4zM58 183h1v1h-1zM76 183h1v1h-1zM81 183h1v1h-1zM55 184h1v1h-1zM75 184h1v1h-1zM77 184h1v1h-1zM57 185h1v1h-1zM71 185h1v1h-1zM78 185h1v1h-1zM55 186h2v1h-2zM74 186h1v1h-1zM77 186h1v1h-1zM56 187h1v1h-1zM59 187h1v1h-1zM77 187h1v1h-1zM53 188h3v1h-3zM57 188h2v1h-2zM60 188h1v1h-1zM72 188h3v1h-3zM54 189h1v1h-1zM56 189h2v1h-2zM56 190h2v1h-2zM59 190h1v1h-1zM61 190h2v1h-2zM54 191h2v1h-2zM58 191h2v1h-2zM62 191h1v1h-1zM67 191h1v1h-1zM56 192h1v1h-1zM59 192h2v1h-2zM55 193h2v1h-2zM59 193h2v1h-2zM62 193h2v1h-2zM56 194h3v1h-3zM58 195h1v1h-1zM60 195h2v1h-2zM57 196h2v1h-2zM59 197h1v1h-1zM64 197h1v1h-1zM57 198h1v1h-1zM55 203h1v1h-1zM57 203h1v1h-1zM59 203h2v1h-2zM52 204h1v1h-1zM54 204h3v1h-3zM59 204h6v1h-6zM52 205h2v1h-2zM61 205h1v1h-1zM63 205h1v1h-1zM49 206h3v1h-3zM63 206h2v1h-2zM47 207h3v1h-3zM65 207h3v1h-3zM45 208h4v1h-4zM67 208h2v1h-2zM46 209h3v1h-3zM67 209h2v1h-2zM46 210h3v1h-3zM67 210h3v1h-3zM46 211h3v1h-3zM66 211h2v1h-2zM48 212h2v1h-2zM51 212h1v1h-1zM65 212h3v1h-3zM50 213h3v1h-3zM64 213h2v1h-2zM53 214h5v1h-5zM60 214h3v1h-3zM64 214h1v1h-1z"/>
<path fill="#f5d02a" d="M58 204h1v1h-1zM54 205h7v1h-7zM62 205h1v1h-1zM52 206h1v1h-1zM54 206h1v1h-1zM57 206h2v1h-2zM60 206h2v1h-2zM50 207h3v1h-3zM54 207h1v1h-1zM63 207h2v1h-2zM49 208h1v1h-1zM51 208h1v1h-1zM62 208h5v1h-5zM49 209h2v1h-2zM64 209h3v1h-3zM49 210h1v1h-1zM52 210h1v1h-1zM65 210h2v1h-2zM49 211h2v1h-2zM52 211h2v1h-2zM63 211h3v1h-3zM50 212h1v1h-1zM52 212h1v1h-1zM54 212h1v1h-1zM57 212h1v1h-1zM62 212h3v1h-3zM53 213h4v1h-4zM58 213h6v1h-6zM58 214h2v1h-2z"/>
<path fill="#3cae3c" d="M53 206h1v1h-1zM55 206h2v1h-2zM59 206h1v1h-1zM62 206h1v1h-1zM53 207h1v1h-1zM60 207h2v1h-2zM50 208h1v1h-1zM58 208h2v1h-2zM51 209h2v1h-2zM62 209h2v1h-2zM50 210h2v1h-2zM53 210h1v1h-1zM60 210h1v1h-1zM63 210h2v1h-2zM51 211h1v1h-1zM54 211h1v1h-1zM58 211h1v1h-1zM61 211h2v1h-2zM53 212h1v1h-1zM55 212h2v1h-2zM58 212h4v1h-4zM57 213h1v1h-1z"/>
<path fill="#2466b4" d="M55 207h5v1h-5zM62 207h1v1h-1zM52 208h6v1h-6zM60 208h2v1h-2zM53 209h9v1h-9zM54 210h6v1h-6zM61 210h2v1h-2zM55 211h3v1h-3zM59 211h2v1h-2z"/>
<rect x="20.60" y="161.10" width="69.40" height="61.50" fill="none" stroke="#8a8a8a" stroke-width="0.9" />
<line x1="66.60" y1="161.10" x2="66.60" y2="222.60" stroke="#8a8a8a" stroke-width="0.8" />
<line x1="20.60" y1="202.20" x2="90.00" y2="202.20" stroke="#8a8a8a" stroke-width="0.8" />
<text x="21.50" y="165.50" font-size="4.1" font-weight="bold" style="stroke:#000;stroke-width:0.3">28.70%</text>
<text x="89.10" y="165.50" font-size="4.1" text-anchor="end" font-weight="bold" style="stroke:#000;stroke-width:0.3">20.29%</text>
<text x="21.50" y="221.40" font-size="4.1" font-weight="bold" style="stroke:#000;stroke-width:0.3">48.31%</text>
<text x="89.10" y="221.40" font-size="4.1" text-anchor="end" font-weight="bold" style="stroke:#000;stroke-width:0.3">3.70%</text>
<text x="18.20" y="224.20" font-size="3.8" text-anchor="end" font-weight="bold" style="stroke:#000;stroke-width:0.25">10</text>
<text x="18.20" y="222.20" font-size="3.0" font-weight="bold" style="stroke:#000;stroke-width:0.2">0</text>
<text x="20.00" y="228.40" font-size="3.8" text-anchor="middle" font-weight="bold" style="stroke:#000;stroke-width:0.25">10</text>
<text x="22.20" y="226.50" font-size="3.0" font-weight="bold" style="stroke:#000;stroke-width:0.2">0</text>
<text x="18.20" y="208.82" font-size="3.8" text-anchor="end" font-weight="bold" style="stroke:#000;stroke-width:0.25">10</text>
<text x="18.20" y="206.82" font-size="3.0" font-weight="bold" style="stroke:#000;stroke-width:0.2">1</text>
<text x="37.35" y="228.40" font-size="3.8" text-anchor="middle" font-weight="bold" style="stroke:#000;stroke-width:0.25">10</text>
<text x="39.55" y="226.50" font-size="3.0" font-weight="bold" style="stroke:#000;stroke-width:0.2">1</text>
<text x="18.20" y="193.45" font-size="3.8" text-anchor="end" font-weight="bold" style="stroke:#000;stroke-width:0.25">10</text>
<text x="18.20" y="191.45" font-size="3.0" font-weight="bold" style="stroke:#000;stroke-width:0.2">2</text>
<text x="54.70" y="228.40" font-size="3.8" text-anchor="middle" font-weight="bold" style="stroke:#000;stroke-width:0.25">10</text>
<text x="56.90" y="226.50" font-size="3.0" font-weight="bold" style="stroke:#000;stroke-width:0.2">2</text>
<text x="18.20" y="178.07" font-size="3.8" text-anchor="end" font-weight="bold" style="stroke:#000;stroke-width:0.25">10</text>
<text x="18.20" y="176.07" font-size="3.0" font-weight="bold" style="stroke:#000;stroke-width:0.2">3</text>
<text x="72.05" y="228.40" font-size="3.8" text-anchor="middle" font-weight="bold" style="stroke:#000;stroke-width:0.25">10</text>
<text x="74.25" y="226.50" font-size="3.0" font-weight="bold" style="stroke:#000;stroke-width:0.2">3</text>
<text x="18.20" y="162.70" font-size="3.8" text-anchor="end" font-weight="bold" style="stroke:#000;stroke-width:0.25">10</text>
<text x="18.20" y="160.70" font-size="3.0" font-weight="bold" style="stroke:#000;stroke-width:0.2">4</text>
<text x="89.40" y="228.40" font-size="3.8" text-anchor="middle" font-weight="bold" style="stroke:#000;stroke-width:0.25">10</text>
<text x="91.60" y="226.50" font-size="3.0" font-weight="bold" style="stroke:#000;stroke-width:0.2">4</text>
<text x="65.80" y="158.70" font-size="7.0" text-anchor="middle" fill="#1a1a1a" textLength="30.40" lengthAdjust="spacingAndGlyphs" style="stroke:#1a1a1a;stroke-width:0.140">16 nmol/L</text>
<path fill="#e8201c" d="M157 162h1v1h-1zM166 162h1v1h-1zM166 163h1v1h-1zM164 164h1v1h-1zM161 165h1v1h-1zM166 165h1v1h-1zM153 166h1v1h-1zM160 166h1v1h-1zM162 166h1v1h-1zM164 166h1v1h-1zM167 166h1v1h-1zM154 167h1v1h-1zM157 167h1v1h-1zM162 167h1v1h-1zM166 167h2v1h-2zM157 168h7v1h-7zM165 168h1v1h-1zM167 168h1v1h-1zM152 169h2v1h-2zM157 169h7v1h-7zM165 169h3v1h-3zM151 170h2v1h-2zM154 170h1v1h-1zM156 170h1v1h-1zM159 170h1v1h-1zM161 170h1v1h-1zM163 170h2v1h-2zM166 170h1v1h-1zM148 171h1v1h-1zM152 171h1v1h-1zM156 171h3v1h-3zM160 171h3v1h-3zM164 171h4v1h-4zM146 172h2v1h-2zM150 172h4v1h-4zM156 172h4v1h-4zM161 172h1v1h-1zM163 172h2v1h-2zM166 172h1v1h-1zM148 173h1v1h-1zM151 173h3v1h-3zM155 173h2v1h-2zM158 173h6v1h-6zM165 173h2v1h-2zM144 174h1v1h-1zM147 174h1v1h-1zM150 174h1v1h-1zM152 174h1v1h-1zM154 174h1v1h-1zM156 174h3v1h-3zM161 174h1v1h-1zM163 174h4v1h-4zM145 175h2v1h-2zM150 175h1v1h-1zM152 175h1v1h-1zM154 175h3v1h-3zM158 175h4v1h-4zM163 175h1v1h-1zM166 175h2v1h-2zM138 176h1v1h-1zM148 176h10v1h-10zM159 176h3v1h-3zM163 176h1v1h-1zM165 176h3v1h-3zM143 177h1v1h-1zM147 177h3v1h-3zM151 177h2v1h-2zM158 177h2v1h-2zM161 177h1v1h-1zM163 177h1v1h-1zM165 177h3v1h-3zM137 178h1v1h-1zM143 178h1v1h-1zM145 178h3v1h-3zM149 178h2v1h-2zM152 178h2v1h-2zM163 178h1v1h-1zM166 178h2v1h-2zM142 179h1v1h-1zM144 179h3v1h-3zM148 179h1v1h-1zM150 179h3v1h-3zM155 179h1v1h-1zM158 179h1v1h-1zM164 179h1v1h-1zM167 179h1v1h-1zM138 180h1v1h-1zM140 180h1v1h-1zM142 180h4v1h-4zM149 180h2v1h-2zM152 180h1v1h-1zM155 180h1v1h-1zM162 180h6v1h-6zM140 181h1v1h-1zM143 181h9v1h-9zM163 181h5v1h-5zM136 182h1v1h-1zM142 182h3v1h-3zM146 182h4v1h-4zM163 182h1v1h-1zM165 182h3v1h-3zM137 183h1v1h-1zM140 183h4v1h-4zM146 183h2v1h-2zM151 183h1v1h-1zM161 183h1v1h-1zM163 183h3v1h-3zM167 183h1v1h-1zM138 184h8v1h-8zM147 184h1v1h-1zM149 184h1v1h-1zM161 184h4v1h-4zM166 184h2v1h-2zM135 185h3v1h-3zM139 185h1v1h-1zM142 185h1v1h-1zM145 185h4v1h-4zM150 185h1v1h-1zM163 185h4v1h-4zM136 186h4v1h-4zM141 186h2v1h-2zM145 186h4v1h-4zM151 186h1v1h-1zM159 186h2v1h-2zM162 186h3v1h-3zM166 186h1v1h-1zM133 187h1v1h-1zM135 187h1v1h-1zM138 187h2v1h-2zM141 187h1v1h-1zM143 187h1v1h-1zM145 187h1v1h-1zM150 187h1v1h-1zM157 187h1v1h-1zM160 187h1v1h-1zM163 187h4v1h-4zM134 188h2v1h-2zM139 188h1v1h-1zM142 188h3v1h-3zM147 188h1v1h-1zM157 188h1v1h-1zM159 188h3v1h-3zM164 188h3v1h-3zM132 189h1v1h-1zM134 189h3v1h-3zM138 189h1v1h-1zM140 189h5v1h-5zM146 189h3v1h-3zM152 189h1v1h-1zM157 189h3v1h-3zM165 189h1v1h-1zM123 190h1v1h-1zM134 190h1v1h-1zM138 190h3v1h-3zM142 190h2v1h-2zM149 190h1v1h-1zM151 190h1v1h-1zM153 190h2v1h-2zM156 190h1v1h-1zM158 190h3v1h-3zM162 190h1v1h-1zM165 190h1v1h-1zM131 191h3v1h-3zM135 191h1v1h-1zM137 191h3v1h-3zM142 191h1v1h-1zM146 191h1v1h-1zM150 191h2v1h-2zM153 191h8v1h-8zM162 191h1v1h-1zM131 192h1v1h-1zM133 192h2v1h-2zM137 192h1v1h-1zM140 192h1v1h-1zM142 192h3v1h-3zM146 192h2v1h-2zM152 192h4v1h-4zM158 192h1v1h-1zM160 192h1v1h-1zM162 192h1v1h-1zM134 193h3v1h-3zM138 193h2v1h-2zM142 193h1v1h-1zM144 193h5v1h-5zM152 193h1v1h-1zM154 193h5v1h-5zM160 193h1v1h-1zM130 194h1v1h-1zM132 194h1v1h-1zM134 194h3v1h-3zM139 194h3v1h-3zM144 194h1v1h-1zM146 194h5v1h-5zM155 194h2v1h-2zM158 194h2v1h-2zM127 195h1v1h-1zM129 195h1v1h-1zM131 195h1v1h-1zM133 195h4v1h-4zM138 195h11v1h-11zM150 195h7v1h-7zM158 195h1v1h-1zM125 196h1v1h-1zM127 196h1v1h-1zM132 196h1v1h-1zM138 196h3v1h-3zM142 196h1v1h-1zM144 196h1v1h-1zM146 196h1v1h-1zM149 196h2v1h-2zM152 196h2v1h-2zM156 196h1v1h-1zM159 196h1v1h-1zM161 196h1v1h-1zM130 197h2v1h-2zM134 197h2v1h-2zM137 197h4v1h-4zM142 197h1v1h-1zM145 197h1v1h-1zM151 197h3v1h-3zM160 197h1v1h-1zM126 198h1v1h-1zM130 198h5v1h-5zM136 198h6v1h-6zM144 198h2v1h-2zM148 198h2v1h-2zM153 198h1v1h-1zM120 199h1v1h-1zM129 199h1v1h-1zM132 199h2v1h-2zM135 199h1v1h-1zM137 199h1v1h-1zM139 199h7v1h-7zM147 199h1v1h-1zM150 199h1v1h-1zM152 199h1v1h-1zM120 200h1v1h-1zM126 200h1v1h-1zM128 200h1v1h-1zM133 200h1v1h-1zM135 200h3v1h-3zM139 200h3v1h-3zM143 200h4v1h-4zM150 200h1v1h-1zM130 201h3v1h-3zM134 201h3v1h-3zM138 201h3v1h-3zM142 201h1v1h-1zM144 201h4v1h-4zM125 202h1v1h-1zM127 202h2v1h-2zM130 202h2v1h-2zM133 202h3v1h-3zM137 202h1v1h-1zM139 202h1v1h-1zM143 202h1v1h-1zM147 202h2v1h-2zM119 203h1v1h-1zM126 203h3v1h-3zM130 203h1v1h-1zM132 203h2v1h-2zM136 203h1v1h-1zM139 203h1v1h-1zM141 203h6v1h-6zM148 203h1v1h-1zM119 204h1v1h-1zM121 204h1v1h-1zM123 204h4v1h-4zM128 204h1v1h-1zM130 204h2v1h-2zM134 204h1v1h-1zM140 204h3v1h-3zM150 204h2v1h-2zM120 205h2v1h-2zM123 205h2v1h-2zM126 205h4v1h-4zM139 205h1v1h-1zM141 205h1v1h-1zM143 205h1v1h-1zM145 205h1v1h-1zM120 206h4v1h-4zM141 206h3v1h-3zM145 206h1v1h-1zM147 206h2v1h-2zM150 206h1v1h-1zM158 206h1v1h-1zM110 207h1v1h-1zM113 207h1v1h-1zM115 207h7v1h-7zM123 207h1v1h-1zM143 207h4v1h-4zM108 208h1v1h-1zM110 208h1v1h-1zM112 208h1v1h-1zM114 208h1v1h-1zM116 208h1v1h-1zM119 208h3v1h-3zM145 208h1v1h-1zM147 208h1v1h-1zM154 208h1v1h-1zM109 209h2v1h-2zM113 209h6v1h-6zM120 209h1v1h-1zM145 209h1v1h-1zM147 209h1v1h-1zM149 209h1v1h-1zM106 210h1v1h-1zM110 210h3v1h-3zM114 210h1v1h-1zM117 210h5v1h-5zM145 210h2v1h-2zM148 210h1v1h-1zM150 210h2v1h-2zM154 210h1v1h-1zM108 211h1v1h-1zM111 211h1v1h-1zM113 211h1v1h-1zM116 211h1v1h-1zM118 211h2v1h-2zM146 211h3v1h-3zM150 211h1v1h-1zM113 212h5v1h-5zM120 212h1v1h-1zM122 212h1v1h-1zM145 212h2v1h-2zM149 212h1v1h-1zM154 212h1v1h-1zM118 213h3v1h-3zM122 213h1v1h-1zM145 213h3v1h-3zM154 213h1v1h-1zM116 214h1v1h-1zM123 214h2v1h-2zM141 214h3v1h-3zM145 214h2v1h-2zM117 215h1v1h-1zM122 215h3v1h-3zM127 215h1v1h-1zM129 215h3v1h-3zM138 215h3v1h-3zM142 215h1v1h-1zM144 215h3v1h-3zM150 215h1v1h-1zM156 215h1v1h-1zM123 216h2v1h-2zM126 216h1v1h-1zM128 216h1v1h-1zM131 216h1v1h-1zM134 216h3v1h-3zM139 216h2v1h-2zM143 216h1v1h-1zM124 217h1v1h-1zM129 217h7v1h-7zM137 217h2v1h-2zM135 218h1v1h-1zM127 220h1v1h-1z"/>
<path fill="#cc1414" d="M165 163h1v1h-1zM159 164h1v1h-1zM166 164h1v1h-1zM153 165h1v1h-1zM163 165h1v1h-1zM165 165h1v1h-1zM163 166h1v1h-1zM165 166h2v1h-2zM159 167h2v1h-2zM164 167h1v1h-1zM155 168h1v1h-1zM164 168h1v1h-1zM166 168h1v1h-1zM164 169h1v1h-1zM155 170h1v1h-1zM158 170h1v1h-1zM160 170h1v1h-1zM162 170h1v1h-1zM165 170h1v1h-1zM167 170h1v1h-1zM149 171h1v1h-1zM153 171h3v1h-3zM159 171h1v1h-1zM163 171h1v1h-1zM154 172h2v1h-2zM160 172h1v1h-1zM162 172h1v1h-1zM165 172h1v1h-1zM167 172h1v1h-1zM150 173h1v1h-1zM154 173h1v1h-1zM157 173h1v1h-1zM164 173h1v1h-1zM167 173h1v1h-1zM149 174h1v1h-1zM151 174h1v1h-1zM153 174h1v1h-1zM155 174h1v1h-1zM159 174h2v1h-2zM162 174h1v1h-1zM167 174h1v1h-1zM144 175h1v1h-1zM149 175h1v1h-1zM151 175h1v1h-1zM153 175h1v1h-1zM157 175h1v1h-1zM162 175h1v1h-1zM164 175h2v1h-2zM147 176h1v1h-1zM158 176h1v1h-1zM162 176h1v1h-1zM164 176h1v1h-1zM142 177h1v1h-1zM150 177h1v1h-1zM153 177h4v1h-4zM160 177h1v1h-1zM164 177h1v1h-1zM136 178h1v1h-1zM148 178h1v1h-1zM151 178h1v1h-1zM154 178h2v1h-2zM164 178h2v1h-2zM140 179h1v1h-1zM147 179h1v1h-1zM149 179h1v1h-1zM153 179h1v1h-1zM160 179h1v1h-1zM163 179h1v1h-1zM165 179h2v1h-2zM135 180h1v1h-1zM141 180h1v1h-1zM146 180h3v1h-3zM151 180h1v1h-1zM138 181h1v1h-1zM142 181h1v1h-1zM152 181h1v1h-1zM139 182h3v1h-3zM145 182h1v1h-1zM164 182h1v1h-1zM138 183h1v1h-1zM144 183h2v1h-2zM148 183h1v1h-1zM166 183h1v1h-1zM135 184h1v1h-1zM137 184h1v1h-1zM146 184h1v1h-1zM165 184h1v1h-1zM130 185h1v1h-1zM138 185h1v1h-1zM140 185h2v1h-2zM143 185h2v1h-2zM161 185h2v1h-2zM167 185h1v1h-1zM140 186h1v1h-1zM143 186h2v1h-2zM150 186h1v1h-1zM161 186h1v1h-1zM165 186h1v1h-1zM136 187h2v1h-2zM140 187h1v1h-1zM142 187h1v1h-1zM144 187h1v1h-1zM146 187h2v1h-2zM151 187h1v1h-1zM159 187h1v1h-1zM161 187h2v1h-2zM132 188h2v1h-2zM136 188h3v1h-3zM140 188h2v1h-2zM158 188h1v1h-1zM162 188h2v1h-2zM137 189h1v1h-1zM139 189h1v1h-1zM151 189h1v1h-1zM154 189h1v1h-1zM156 189h1v1h-1zM160 189h3v1h-3zM164 189h1v1h-1zM133 190h1v1h-1zM135 190h3v1h-3zM141 190h1v1h-1zM144 190h2v1h-2zM148 190h1v1h-1zM150 190h1v1h-1zM155 190h1v1h-1zM157 190h1v1h-1zM161 190h1v1h-1zM134 191h1v1h-1zM136 191h1v1h-1zM140 191h2v1h-2zM143 191h3v1h-3zM148 191h1v1h-1zM152 191h1v1h-1zM164 191h1v1h-1zM132 192h1v1h-1zM135 192h2v1h-2zM138 192h2v1h-2zM141 192h1v1h-1zM148 192h3v1h-3zM156 192h2v1h-2zM159 192h1v1h-1zM129 193h2v1h-2zM133 193h1v1h-1zM137 193h1v1h-1zM140 193h2v1h-2zM143 193h1v1h-1zM149 193h3v1h-3zM153 193h1v1h-1zM159 193h1v1h-1zM161 193h1v1h-1zM131 194h1v1h-1zM133 194h1v1h-1zM137 194h2v1h-2zM142 194h2v1h-2zM145 194h1v1h-1zM151 194h4v1h-4zM157 194h1v1h-1zM137 195h1v1h-1zM149 195h1v1h-1zM133 196h5v1h-5zM141 196h1v1h-1zM143 196h1v1h-1zM145 196h1v1h-1zM147 196h2v1h-2zM151 196h1v1h-1zM154 196h1v1h-1zM132 197h2v1h-2zM136 197h1v1h-1zM141 197h1v1h-1zM143 197h2v1h-2zM146 197h5v1h-5zM128 198h1v1h-1zM135 198h1v1h-1zM142 198h2v1h-2zM146 198h2v1h-2zM151 198h1v1h-1zM155 198h1v1h-1zM130 199h2v1h-2zM134 199h1v1h-1zM136 199h1v1h-1zM138 199h1v1h-1zM146 199h1v1h-1zM148 199h2v1h-2zM130 200h3v1h-3zM134 200h1v1h-1zM138 200h1v1h-1zM142 200h1v1h-1zM147 200h2v1h-2zM120 201h1v1h-1zM127 201h1v1h-1zM129 201h1v1h-1zM133 201h1v1h-1zM137 201h1v1h-1zM141 201h1v1h-1zM143 201h1v1h-1zM156 201h1v1h-1zM129 202h1v1h-1zM132 202h1v1h-1zM136 202h1v1h-1zM138 202h1v1h-1zM140 202h3v1h-3zM144 202h1v1h-1zM123 203h1v1h-1zM125 203h1v1h-1zM129 203h1v1h-1zM131 203h1v1h-1zM134 203h2v1h-2zM137 203h1v1h-1zM140 203h1v1h-1zM122 204h1v1h-1zM127 204h1v1h-1zM129 204h1v1h-1zM137 204h3v1h-3zM143 204h2v1h-2zM146 204h1v1h-1zM122 205h1v1h-1zM125 205h1v1h-1zM142 205h1v1h-1zM144 205h1v1h-1zM147 205h1v1h-1zM117 206h3v1h-3zM144 206h1v1h-1zM146 206h1v1h-1zM112 207h1v1h-1zM122 207h1v1h-1zM147 207h1v1h-1zM106 208h1v1h-1zM113 208h1v1h-1zM115 208h1v1h-1zM117 208h2v1h-2zM144 208h1v1h-1zM146 208h1v1h-1zM148 208h1v1h-1zM150 208h1v1h-1zM101 209h1v1h-1zM111 209h2v1h-2zM146 209h1v1h-1zM158 209h1v1h-1zM109 210h1v1h-1zM113 210h1v1h-1zM115 210h2v1h-2zM144 210h1v1h-1zM147 210h1v1h-1zM114 211h2v1h-2zM117 211h1v1h-1zM121 211h1v1h-1zM144 211h2v1h-2zM149 211h1v1h-1zM111 212h1v1h-1zM118 212h2v1h-2zM121 212h1v1h-1zM144 212h1v1h-1zM147 212h1v1h-1zM117 213h1v1h-1zM121 213h1v1h-1zM124 213h1v1h-1zM142 213h3v1h-3zM149 213h1v1h-1zM113 214h1v1h-1zM120 214h3v1h-3zM125 214h1v1h-1zM139 214h1v1h-1zM144 214h1v1h-1zM121 215h1v1h-1zM125 215h2v1h-2zM141 215h1v1h-1zM143 215h1v1h-1zM147 215h1v1h-1zM151 215h1v1h-1zM125 216h1v1h-1zM127 216h1v1h-1zM129 216h2v1h-2zM132 216h2v1h-2zM137 216h2v1h-2zM141 216h1v1h-1zM126 217h1v1h-1zM136 217h1v1h-1zM139 217h1v1h-1zM132 218h1v1h-1zM134 218h1v1h-1zM143 219h1v1h-1zM134 221h1v1h-1z"/>
<path fill="#f26a1e" d="M157 177h1v1h-1zM162 177h1v1h-1zM156 178h7v1h-7zM154 179h1v1h-1zM156 179h2v1h-2zM159 179h1v1h-1zM161 179h2v1h-2zM153 180h2v1h-2zM156 180h6v1h-6zM153 181h10v1h-10zM150 182h5v1h-5zM156 182h7v1h-7zM149 183h2v1h-2zM152 183h4v1h-4zM157 183h4v1h-4zM162 183h1v1h-1zM148 184h1v1h-1zM150 184h6v1h-6zM157 184h4v1h-4zM149 185h1v1h-1zM151 185h6v1h-6zM158 185h3v1h-3zM149 186h1v1h-1zM152 186h1v1h-1zM154 186h1v1h-1zM156 186h3v1h-3zM148 187h2v1h-2zM152 187h5v1h-5zM158 187h1v1h-1zM145 188h2v1h-2zM148 188h9v1h-9zM145 189h1v1h-1zM149 189h2v1h-2zM153 189h1v1h-1zM155 189h1v1h-1zM146 190h2v1h-2zM152 190h1v1h-1zM147 191h1v1h-1zM149 191h1v1h-1zM145 192h1v1h-1zM151 192h1v1h-1zM138 203h1v1h-1zM132 204h2v1h-2zM135 204h2v1h-2zM130 205h3v1h-3zM135 205h4v1h-4zM140 205h1v1h-1zM124 206h5v1h-5zM138 206h3v1h-3zM124 207h2v1h-2zM141 207h2v1h-2zM122 208h2v1h-2zM142 208h2v1h-2zM119 209h1v1h-1zM121 209h3v1h-3zM142 209h3v1h-3zM122 210h1v1h-1zM142 210h2v1h-2zM120 211h1v1h-1zM122 211h2v1h-2zM142 211h2v1h-2zM123 212h3v1h-3zM141 212h3v1h-3zM123 213h1v1h-1zM125 213h1v1h-1zM140 213h2v1h-2zM126 214h3v1h-3zM132 214h1v1h-1zM135 214h2v1h-2zM140 214h1v1h-1zM128 215h1v1h-1zM132 215h6v1h-6z"/>
<path fill="#f5d02a" d="M155 182h1v1h-1zM156 183h1v1h-1zM156 184h1v1h-1zM157 185h1v1h-1zM153 186h1v1h-1zM155 186h1v1h-1zM133 205h2v1h-2zM129 206h2v1h-2zM132 206h2v1h-2zM136 206h2v1h-2zM126 207h4v1h-4zM138 207h3v1h-3zM124 208h3v1h-3zM138 208h1v1h-1zM140 208h2v1h-2zM124 209h3v1h-3zM138 209h2v1h-2zM141 209h1v1h-1zM123 210h3v1h-3zM141 210h1v1h-1zM124 211h2v1h-2zM138 211h1v1h-1zM140 211h2v1h-2zM126 212h2v1h-2zM131 212h1v1h-1zM138 212h3v1h-3zM126 213h3v1h-3zM131 213h2v1h-2zM135 213h1v1h-1zM137 213h3v1h-3zM129 214h3v1h-3zM133 214h2v1h-2zM137 214h2v1h-2z"/>
<path fill="#3cae3c" d="M131 206h1v1h-1zM134 206h2v1h-2zM130 207h8v1h-8zM128 208h1v1h-1zM135 208h2v1h-2zM139 208h1v1h-1zM127 209h1v1h-1zM137 209h1v1h-1zM140 209h1v1h-1zM126 210h2v1h-2zM137 210h1v1h-1zM140 210h1v1h-1zM126 211h2v1h-2zM139 211h1v1h-1zM128 212h3v1h-3zM133 212h1v1h-1zM135 212h1v1h-1zM137 212h1v1h-1zM129 213h2v1h-2zM133 213h2v1h-2zM136 213h1v1h-1z"/>
<path fill="#2466b4" d="M127 208h1v1h-1zM129 208h6v1h-6zM137 208h1v1h-1zM128 209h9v1h-9zM128 210h9v1h-9zM138 210h2v1h-2zM128 211h10v1h-10zM132 212h1v1h-1zM134 212h1v1h-1zM136 212h1v1h-1z"/>
<rect x="98.20" y="161.40" width="70.20" height="61.20" fill="none" stroke="#8a8a8a" stroke-width="0.9" />
<line x1="143.40" y1="161.40" x2="143.40" y2="222.60" stroke="#8a8a8a" stroke-width="0.8" />
<line x1="98.20" y1="202.80" x2="168.40" y2="202.80" stroke="#8a8a8a" stroke-width="0.8" />
<text x="99.10" y="165.80" font-size="4.1" font-weight="bold" style="stroke:#000;stroke-width:0.3">10.40%</text>
<text x="167.50" y="165.80" font-size="4.1" text-anchor="end" font-weight="bold" style="stroke:#000;stroke-width:0.3">38.92%</text>
<text x="99.10" y="221.40" font-size="4.1" font-weight="bold" style="stroke:#000;stroke-width:0.3">47.13%</text>
<text x="167.50" y="221.40" font-size="4.1" text-anchor="end" font-weight="bold" style="stroke:#000;stroke-width:0.3">3.54%</text>
<text x="95.80" y="224.20" font-size="3.8" text-anchor="end" font-weight="bold" style="stroke:#000;stroke-width:0.25">10</text>
<text x="95.80" y="222.20" font-size="3.0" font-weight="bold" style="stroke:#000;stroke-width:0.2">0</text>
<text x="97.60" y="228.40" font-size="3.8" text-anchor="middle" font-weight="bold" style="stroke:#000;stroke-width:0.25">10</text>
<text x="99.80" y="226.50" font-size="3.0" font-weight="bold" style="stroke:#000;stroke-width:0.2">0</text>
<text x="95.80" y="208.90" font-size="3.8" text-anchor="end" font-weight="bold" style="stroke:#000;stroke-width:0.25">10</text>
<text x="95.80" y="206.90" font-size="3.0" font-weight="bold" style="stroke:#000;stroke-width:0.2">1</text>
<text x="115.15" y="228.40" font-size="3.8" text-anchor="middle" font-weight="bold" style="stroke:#000;stroke-width:0.25">10</text>
<text x="117.35" y="226.50" font-size="3.0" font-weight="bold" style="stroke:#000;stroke-width:0.2">1</text>
<text x="95.80" y="193.60" font-size="3.8" text-anchor="end" font-weight="bold" style="stroke:#000;stroke-width:0.25">10</text>
<text x="95.80" y="191.60" font-size="3.0" font-weight="bold" style="stroke:#000;stroke-width:0.2">2</text>
<text x="132.70" y="228.40" font-size="3.8" text-anchor="middle" font-weight="bold" style="stroke:#000;stroke-width:0.25">10</text>
<text x="134.90" y="226.50" font-size="3.0" font-weight="bold" style="stroke:#000;stroke-width:0.2">2</text>
<text x="95.80" y="178.30" font-size="3.8" text-anchor="end" font-weight="bold" style="stroke:#000;stroke-width:0.25">10</text>
<text x="95.80" y="176.30" font-size="3.0" font-weight="bold" style="stroke:#000;stroke-width:0.2">3</text>
<text x="150.25" y="228.40" font-size="3.8" text-anchor="middle" font-weight="bold" style="stroke:#000;stroke-width:0.25">10</text>
<text x="152.45" y="226.50" font-size="3.0" font-weight="bold" style="stroke:#000;stroke-width:0.2">3</text>
<text x="95.80" y="163.00" font-size="3.8" text-anchor="end" font-weight="bold" style="stroke:#000;stroke-width:0.25">10</text>
<text x="95.80" y="161.00" font-size="3.0" font-weight="bold" style="stroke:#000;stroke-width:0.2">4</text>
<text x="167.80" y="228.40" font-size="3.8" text-anchor="middle" font-weight="bold" style="stroke:#000;stroke-width:0.25">10</text>
<text x="170.00" y="226.50" font-size="3.0" font-weight="bold" style="stroke:#000;stroke-width:0.2">4</text>
<text x="143.00" y="158.70" font-size="7.0" text-anchor="middle" fill="#1a1a1a" textLength="31.50" lengthAdjust="spacingAndGlyphs" style="stroke:#1a1a1a;stroke-width:0.140">35 nmol/L</text>
<path fill="#e8201c" d="M239 163h1v1h-1zM245 163h1v1h-1zM242 164h1v1h-1zM239 165h1v1h-1zM242 165h1v1h-1zM247 165h1v1h-1zM242 166h2v1h-2zM245 166h1v1h-1zM247 166h1v1h-1zM232 167h1v1h-1zM236 167h1v1h-1zM241 167h1v1h-1zM243 167h2v1h-2zM246 167h1v1h-1zM243 168h2v1h-2zM246 168h1v1h-1zM234 169h1v1h-1zM238 169h1v1h-1zM241 169h4v1h-4zM246 169h1v1h-1zM235 170h1v1h-1zM239 170h3v1h-3zM244 170h1v1h-1zM246 170h1v1h-1zM229 171h1v1h-1zM232 171h4v1h-4zM238 171h3v1h-3zM242 171h1v1h-1zM245 171h3v1h-3zM234 172h1v1h-1zM236 172h4v1h-4zM241 172h2v1h-2zM246 172h2v1h-2zM229 173h4v1h-4zM234 173h2v1h-2zM238 173h1v1h-1zM241 173h1v1h-1zM245 173h1v1h-1zM232 174h5v1h-5zM238 174h2v1h-2zM243 174h1v1h-1zM245 174h1v1h-1zM247 174h1v1h-1zM230 175h4v1h-4zM235 175h2v1h-2zM238 175h4v1h-4zM243 175h5v1h-5zM222 176h1v1h-1zM227 176h1v1h-1zM230 176h1v1h-1zM232 176h2v1h-2zM237 176h3v1h-3zM241 176h2v1h-2zM244 176h4v1h-4zM226 177h1v1h-1zM228 177h1v1h-1zM230 177h5v1h-5zM236 177h3v1h-3zM240 177h2v1h-2zM244 177h2v1h-2zM223 178h1v1h-1zM225 178h4v1h-4zM231 178h1v1h-1zM234 178h5v1h-5zM240 178h7v1h-7zM225 179h1v1h-1zM227 179h1v1h-1zM230 179h3v1h-3zM234 179h4v1h-4zM239 179h2v1h-2zM242 179h4v1h-4zM247 179h1v1h-1zM223 180h1v1h-1zM226 180h1v1h-1zM230 180h3v1h-3zM234 180h1v1h-1zM236 180h2v1h-2zM239 180h1v1h-1zM242 180h4v1h-4zM247 180h1v1h-1zM217 181h1v1h-1zM220 181h1v1h-1zM225 181h5v1h-5zM231 181h1v1h-1zM233 181h2v1h-2zM243 181h2v1h-2zM246 181h2v1h-2zM223 182h7v1h-7zM231 182h1v1h-1zM233 182h2v1h-2zM244 182h4v1h-4zM218 183h2v1h-2zM221 183h3v1h-3zM226 183h3v1h-3zM230 183h2v1h-2zM233 183h1v1h-1zM244 183h4v1h-4zM222 184h3v1h-3zM227 184h8v1h-8zM237 184h1v1h-1zM244 184h4v1h-4zM221 185h2v1h-2zM225 185h1v1h-1zM227 185h1v1h-1zM229 185h2v1h-2zM245 185h3v1h-3zM217 186h1v1h-1zM219 186h12v1h-12zM232 186h2v1h-2zM235 186h1v1h-1zM244 186h3v1h-3zM220 187h8v1h-8zM229 187h3v1h-3zM238 187h1v1h-1zM242 187h6v1h-6zM211 188h1v1h-1zM217 188h12v1h-12zM232 188h1v1h-1zM241 188h2v1h-2zM244 188h1v1h-1zM246 188h2v1h-2zM218 189h2v1h-2zM221 189h2v1h-2zM224 189h5v1h-5zM230 189h3v1h-3zM242 189h2v1h-2zM245 189h1v1h-1zM212 190h1v1h-1zM214 190h1v1h-1zM221 190h4v1h-4zM226 190h2v1h-2zM230 190h1v1h-1zM235 190h1v1h-1zM238 190h7v1h-7zM213 191h2v1h-2zM216 191h1v1h-1zM218 191h3v1h-3zM224 191h2v1h-2zM227 191h4v1h-4zM236 191h1v1h-1zM238 191h1v1h-1zM242 191h2v1h-2zM213 192h5v1h-5zM221 192h3v1h-3zM225 192h1v1h-1zM227 192h2v1h-2zM231 192h1v1h-1zM234 192h1v1h-1zM236 192h4v1h-4zM241 192h3v1h-3zM215 193h1v1h-1zM218 193h1v1h-1zM221 193h9v1h-9zM233 193h1v1h-1zM235 193h1v1h-1zM237 193h1v1h-1zM241 193h2v1h-2zM210 194h1v1h-1zM213 194h1v1h-1zM215 194h2v1h-2zM219 194h2v1h-2zM224 194h2v1h-2zM227 194h1v1h-1zM230 194h2v1h-2zM233 194h1v1h-1zM235 194h1v1h-1zM239 194h2v1h-2zM244 194h1v1h-1zM212 195h1v1h-1zM214 195h2v1h-2zM217 195h5v1h-5zM223 195h1v1h-1zM225 195h1v1h-1zM228 195h4v1h-4zM234 195h2v1h-2zM237 195h1v1h-1zM239 195h2v1h-2zM210 196h2v1h-2zM213 196h2v1h-2zM216 196h5v1h-5zM222 196h8v1h-8zM231 196h2v1h-2zM234 196h3v1h-3zM209 197h1v1h-1zM214 197h2v1h-2zM217 197h2v1h-2zM222 197h1v1h-1zM225 197h5v1h-5zM233 197h1v1h-1zM235 197h3v1h-3zM210 198h1v1h-1zM213 198h1v1h-1zM216 198h2v1h-2zM219 198h2v1h-2zM223 198h1v1h-1zM227 198h1v1h-1zM229 198h2v1h-2zM233 198h1v1h-1zM205 199h1v1h-1zM209 199h1v1h-1zM211 199h2v1h-2zM216 199h1v1h-1zM218 199h1v1h-1zM220 199h3v1h-3zM224 199h2v1h-2zM227 199h2v1h-2zM230 199h4v1h-4zM236 199h1v1h-1zM209 200h1v1h-1zM213 200h3v1h-3zM218 200h1v1h-1zM220 200h3v1h-3zM224 200h2v1h-2zM228 200h3v1h-3zM207 201h1v1h-1zM210 201h3v1h-3zM214 201h1v1h-1zM219 201h2v1h-2zM222 201h1v1h-1zM224 201h2v1h-2zM227 201h1v1h-1zM229 201h1v1h-1zM233 201h1v1h-1zM199 202h1v1h-1zM207 202h1v1h-1zM210 202h1v1h-1zM213 202h1v1h-1zM215 202h2v1h-2zM218 202h2v1h-2zM221 202h2v1h-2zM224 202h2v1h-2zM205 203h1v1h-1zM207 203h1v1h-1zM209 203h2v1h-2zM212 203h1v1h-1zM214 203h2v1h-2zM217 203h2v1h-2zM220 203h1v1h-1zM222 203h1v1h-1zM224 203h3v1h-3zM228 203h1v1h-1zM199 204h3v1h-3zM204 204h1v1h-1zM206 204h3v1h-3zM211 204h1v1h-1zM219 204h1v1h-1zM221 204h5v1h-5zM229 204h1v1h-1zM192 205h1v1h-1zM196 205h1v1h-1zM205 205h4v1h-4zM212 205h1v1h-1zM222 205h3v1h-3zM229 205h1v1h-1zM234 205h1v1h-1zM190 206h2v1h-2zM195 206h1v1h-1zM199 206h3v1h-3zM203 206h5v1h-5zM224 206h1v1h-1zM226 206h2v1h-2zM230 206h1v1h-1zM186 207h1v1h-1zM188 207h1v1h-1zM195 207h3v1h-3zM200 207h3v1h-3zM204 207h1v1h-1zM225 207h1v1h-1zM227 207h3v1h-3zM192 208h1v1h-1zM197 208h2v1h-2zM200 208h3v1h-3zM227 208h3v1h-3zM231 208h1v1h-1zM241 208h1v1h-1zM188 209h1v1h-1zM191 209h1v1h-1zM193 209h1v1h-1zM195 209h1v1h-1zM197 209h6v1h-6zM204 209h1v1h-1zM227 209h1v1h-1zM229 209h3v1h-3zM190 210h1v1h-1zM192 210h1v1h-1zM195 210h5v1h-5zM202 210h1v1h-1zM227 210h1v1h-1zM230 210h3v1h-3zM195 211h8v1h-8zM226 211h5v1h-5zM194 212h2v1h-2zM200 212h5v1h-5zM226 212h1v1h-1zM228 212h2v1h-2zM234 212h1v1h-1zM200 213h2v1h-2zM204 213h2v1h-2zM207 213h1v1h-1zM225 213h1v1h-1zM228 213h1v1h-1zM199 214h1v1h-1zM202 214h2v1h-2zM205 214h2v1h-2zM226 214h2v1h-2zM229 214h1v1h-1zM239 214h1v1h-1zM201 215h2v1h-2zM204 215h2v1h-2zM207 215h3v1h-3zM211 215h1v1h-1zM219 215h1v1h-1zM221 215h3v1h-3zM225 215h2v1h-2zM229 215h1v1h-1zM233 215h1v1h-1zM205 216h3v1h-3zM209 216h1v1h-1zM211 216h2v1h-2zM214 216h2v1h-2zM218 216h1v1h-1zM221 216h1v1h-1zM223 216h4v1h-4zM229 216h1v1h-1zM231 216h1v1h-1zM211 217h1v1h-1zM214 217h2v1h-2zM217 217h1v1h-1zM219 217h3v1h-3zM224 217h1v1h-1zM204 218h1v1h-1zM230 218h1v1h-1zM200 219h1v1h-1zM215 219h1v1h-1zM220 219h1v1h-1zM229 219h1v1h-1z"/>
<path fill="#cc1414" d="M241 164h1v1h-1zM247 164h1v1h-1zM247 168h1v1h-1zM245 169h1v1h-1zM247 169h1v1h-1zM231 170h1v1h-1zM236 170h3v1h-3zM242 170h2v1h-2zM245 170h1v1h-1zM247 170h1v1h-1zM236 171h2v1h-2zM241 171h1v1h-1zM243 171h2v1h-2zM233 172h1v1h-1zM235 172h1v1h-1zM240 172h1v1h-1zM243 172h3v1h-3zM228 173h1v1h-1zM233 173h1v1h-1zM236 173h2v1h-2zM239 173h2v1h-2zM242 173h3v1h-3zM246 173h2v1h-2zM237 174h1v1h-1zM240 174h3v1h-3zM244 174h1v1h-1zM246 174h1v1h-1zM227 175h1v1h-1zM234 175h1v1h-1zM237 175h1v1h-1zM242 175h1v1h-1zM228 176h1v1h-1zM231 176h1v1h-1zM234 176h3v1h-3zM240 176h1v1h-1zM243 176h1v1h-1zM229 177h1v1h-1zM235 177h1v1h-1zM239 177h1v1h-1zM242 177h2v1h-2zM246 177h2v1h-2zM222 178h1v1h-1zM229 178h2v1h-2zM232 178h2v1h-2zM239 178h1v1h-1zM247 178h1v1h-1zM226 179h1v1h-1zM228 179h2v1h-2zM233 179h1v1h-1zM238 179h1v1h-1zM246 179h1v1h-1zM221 180h1v1h-1zM225 180h1v1h-1zM227 180h3v1h-3zM233 180h1v1h-1zM246 180h1v1h-1zM222 181h1v1h-1zM224 181h1v1h-1zM230 181h1v1h-1zM232 181h1v1h-1zM237 181h1v1h-1zM241 181h1v1h-1zM245 181h1v1h-1zM222 182h1v1h-1zM230 182h1v1h-1zM232 182h1v1h-1zM236 182h1v1h-1zM242 182h1v1h-1zM224 183h2v1h-2zM229 183h1v1h-1zM232 183h1v1h-1zM242 183h2v1h-2zM220 184h2v1h-2zM225 184h2v1h-2zM218 185h1v1h-1zM223 185h2v1h-2zM226 185h1v1h-1zM228 185h1v1h-1zM233 185h1v1h-1zM243 185h2v1h-2zM218 186h1v1h-1zM243 186h1v1h-1zM247 186h1v1h-1zM216 187h1v1h-1zM218 187h2v1h-2zM228 187h1v1h-1zM241 187h1v1h-1zM229 188h1v1h-1zM240 188h1v1h-1zM243 188h1v1h-1zM245 188h1v1h-1zM216 189h2v1h-2zM220 189h1v1h-1zM223 189h1v1h-1zM240 189h2v1h-2zM244 189h1v1h-1zM246 189h2v1h-2zM216 190h5v1h-5zM225 190h1v1h-1zM228 190h2v1h-2zM236 190h1v1h-1zM246 190h1v1h-1zM215 191h1v1h-1zM217 191h1v1h-1zM221 191h3v1h-3zM226 191h1v1h-1zM239 191h3v1h-3zM206 192h1v1h-1zM218 192h3v1h-3zM224 192h1v1h-1zM229 192h2v1h-2zM235 192h1v1h-1zM240 192h1v1h-1zM213 193h1v1h-1zM216 193h2v1h-2zM219 193h2v1h-2zM230 193h1v1h-1zM232 193h1v1h-1zM234 193h1v1h-1zM236 193h1v1h-1zM238 193h3v1h-3zM243 193h1v1h-1zM217 194h2v1h-2zM221 194h3v1h-3zM226 194h1v1h-1zM228 194h2v1h-2zM232 194h1v1h-1zM234 194h1v1h-1zM236 194h3v1h-3zM213 195h1v1h-1zM216 195h1v1h-1zM222 195h1v1h-1zM226 195h2v1h-2zM232 195h2v1h-2zM236 195h1v1h-1zM241 195h1v1h-1zM212 196h1v1h-1zM215 196h1v1h-1zM221 196h1v1h-1zM230 196h1v1h-1zM233 196h1v1h-1zM240 196h1v1h-1zM211 197h3v1h-3zM216 197h1v1h-1zM219 197h3v1h-3zM223 197h2v1h-2zM230 197h3v1h-3zM234 197h1v1h-1zM214 198h2v1h-2zM218 198h1v1h-1zM221 198h2v1h-2zM224 198h3v1h-3zM228 198h1v1h-1zM231 198h2v1h-2zM213 199h3v1h-3zM217 199h1v1h-1zM219 199h1v1h-1zM223 199h1v1h-1zM226 199h1v1h-1zM229 199h1v1h-1zM211 200h2v1h-2zM216 200h2v1h-2zM219 200h1v1h-1zM223 200h1v1h-1zM226 200h2v1h-2zM239 200h1v1h-1zM208 201h1v1h-1zM213 201h1v1h-1zM215 201h4v1h-4zM221 201h1v1h-1zM223 201h1v1h-1zM226 201h1v1h-1zM228 201h1v1h-1zM230 201h1v1h-1zM211 202h2v1h-2zM214 202h1v1h-1zM220 202h1v1h-1zM223 202h1v1h-1zM226 202h1v1h-1zM208 203h1v1h-1zM211 203h1v1h-1zM213 203h1v1h-1zM216 203h1v1h-1zM219 203h1v1h-1zM221 203h1v1h-1zM223 203h1v1h-1zM230 203h1v1h-1zM202 204h2v1h-2zM209 204h2v1h-2zM212 204h1v1h-1zM220 204h1v1h-1zM226 204h1v1h-1zM228 204h1v1h-1zM230 204h1v1h-1zM203 205h2v1h-2zM209 205h1v1h-1zM225 205h3v1h-3zM198 206h1v1h-1zM202 206h1v1h-1zM208 206h1v1h-1zM225 206h1v1h-1zM228 206h1v1h-1zM191 207h1v1h-1zM198 207h2v1h-2zM203 207h1v1h-1zM226 207h1v1h-1zM230 207h1v1h-1zM191 208h1v1h-1zM194 208h3v1h-3zM199 208h1v1h-1zM226 208h1v1h-1zM230 208h1v1h-1zM233 208h1v1h-1zM192 209h1v1h-1zM194 209h1v1h-1zM196 209h1v1h-1zM203 209h1v1h-1zM228 209h1v1h-1zM241 209h1v1h-1zM189 210h1v1h-1zM191 210h1v1h-1zM193 210h2v1h-2zM200 210h2v1h-2zM203 210h1v1h-1zM228 210h2v1h-2zM194 211h1v1h-1zM232 211h1v1h-1zM192 212h1v1h-1zM196 212h4v1h-4zM227 212h1v1h-1zM230 212h2v1h-2zM194 213h4v1h-4zM199 213h1v1h-1zM202 213h2v1h-2zM226 213h2v1h-2zM230 213h2v1h-2zM201 214h1v1h-1zM204 214h1v1h-1zM207 214h2v1h-2zM223 214h3v1h-3zM228 214h1v1h-1zM198 215h1v1h-1zM206 215h1v1h-1zM210 215h1v1h-1zM220 215h1v1h-1zM224 215h1v1h-1zM235 215h1v1h-1zM208 216h1v1h-1zM210 216h1v1h-1zM213 216h1v1h-1zM216 216h2v1h-2zM219 216h2v1h-2zM222 216h1v1h-1zM207 217h1v1h-1zM209 217h1v1h-1zM212 217h2v1h-2zM216 217h1v1h-1zM218 217h1v1h-1zM212 218h1v1h-1zM217 218h1v1h-1zM218 219h1v1h-1z"/>
<path fill="#f26a1e" d="M241 179h1v1h-1zM235 180h1v1h-1zM238 180h1v1h-1zM240 180h2v1h-2zM235 181h2v1h-2zM238 181h3v1h-3zM242 181h1v1h-1zM235 182h1v1h-1zM237 182h5v1h-5zM243 182h1v1h-1zM234 183h8v1h-8zM235 184h2v1h-2zM238 184h6v1h-6zM231 185h2v1h-2zM234 185h9v1h-9zM231 186h1v1h-1zM234 186h1v1h-1zM236 186h7v1h-7zM232 187h6v1h-6zM239 187h2v1h-2zM230 188h2v1h-2zM233 188h7v1h-7zM229 189h1v1h-1zM233 189h7v1h-7zM231 190h4v1h-4zM237 190h1v1h-1zM231 191h5v1h-5zM237 191h1v1h-1zM226 192h1v1h-1zM232 192h2v1h-2zM231 193h1v1h-1zM224 195h1v1h-1zM217 202h1v1h-1zM213 204h6v1h-6zM210 205h2v1h-2zM215 205h2v1h-2zM218 205h4v1h-4zM210 206h1v1h-1zM219 206h2v1h-2zM222 206h2v1h-2zM205 207h5v1h-5zM223 207h2v1h-2zM203 208h4v1h-4zM224 208h2v1h-2zM205 209h1v1h-1zM224 209h3v1h-3zM204 210h2v1h-2zM225 210h2v1h-2zM203 211h4v1h-4zM224 211h1v1h-1zM205 212h3v1h-3zM224 212h2v1h-2zM206 213h1v1h-1zM209 213h1v1h-1zM224 213h1v1h-1zM209 214h3v1h-3zM219 214h4v1h-4zM212 215h7v1h-7z"/>
<path fill="#f5d02a" d="M213 205h2v1h-2zM217 205h1v1h-1zM209 206h1v1h-1zM211 206h1v1h-1zM213 206h2v1h-2zM217 206h2v1h-2zM221 206h1v1h-1zM210 207h2v1h-2zM216 207h2v1h-2zM220 207h3v1h-3zM207 208h3v1h-3zM218 208h1v1h-1zM221 208h3v1h-3zM206 209h3v1h-3zM222 209h2v1h-2zM206 210h3v1h-3zM223 210h2v1h-2zM207 211h2v1h-2zM221 211h3v1h-3zM225 211h1v1h-1zM208 212h3v1h-3zM214 212h1v1h-1zM222 212h2v1h-2zM208 213h1v1h-1zM211 213h1v1h-1zM213 213h1v1h-1zM215 213h2v1h-2zM218 213h6v1h-6zM212 214h4v1h-4zM217 214h2v1h-2z"/>
<path fill="#3cae3c" d="M212 206h1v1h-1zM215 206h2v1h-2zM213 207h2v1h-2zM219 207h1v1h-1zM210 208h1v1h-1zM212 208h1v1h-1zM214 208h3v1h-3zM220 208h1v1h-1zM210 209h1v1h-1zM217 209h1v1h-1zM220 209h2v1h-2zM209 210h1v1h-1zM219 210h1v1h-1zM222 210h1v1h-1zM209 211h2v1h-2zM213 211h1v1h-1zM219 211h1v1h-1zM211 212h1v1h-1zM215 212h1v1h-1zM218 212h1v1h-1zM220 212h2v1h-2zM210 213h1v1h-1zM212 213h1v1h-1zM214 213h1v1h-1zM217 213h1v1h-1zM216 214h1v1h-1z"/>
<path fill="#2466b4" d="M212 207h1v1h-1zM215 207h1v1h-1zM218 207h1v1h-1zM211 208h1v1h-1zM213 208h1v1h-1zM217 208h1v1h-1zM219 208h1v1h-1zM209 209h1v1h-1zM211 209h6v1h-6zM218 209h2v1h-2zM210 210h9v1h-9zM220 210h2v1h-2zM211 211h2v1h-2zM214 211h5v1h-5zM220 211h1v1h-1zM212 212h2v1h-2zM216 212h2v1h-2zM219 212h1v1h-1z"/>
<rect x="178.50" y="162.20" width="70.50" height="60.90" fill="none" stroke="#8a8a8a" stroke-width="0.9" />
<line x1="224.40" y1="162.20" x2="224.40" y2="223.10" stroke="#8a8a8a" stroke-width="0.8" />
<line x1="178.50" y1="203.10" x2="249.00" y2="203.10" stroke="#8a8a8a" stroke-width="0.8" />
<text x="179.40" y="166.60" font-size="4.1" font-weight="bold" style="stroke:#000;stroke-width:0.3">10.38%</text>
<text x="248.10" y="166.60" font-size="4.1" text-anchor="end" font-weight="bold" style="stroke:#000;stroke-width:0.3">36.58%</text>
<text x="179.40" y="221.90" font-size="4.1" font-weight="bold" style="stroke:#000;stroke-width:0.3">47.38%</text>
<text x="248.10" y="221.90" font-size="4.1" text-anchor="end" font-weight="bold" style="stroke:#000;stroke-width:0.3">5.98%</text>
<text x="176.10" y="224.70" font-size="3.8" text-anchor="end" font-weight="bold" style="stroke:#000;stroke-width:0.25">10</text>
<text x="176.10" y="222.70" font-size="3.0" font-weight="bold" style="stroke:#000;stroke-width:0.2">0</text>
<text x="177.90" y="228.90" font-size="3.8" text-anchor="middle" font-weight="bold" style="stroke:#000;stroke-width:0.25">10</text>
<text x="180.10" y="227.00" font-size="3.0" font-weight="bold" style="stroke:#000;stroke-width:0.2">0</text>
<text x="176.10" y="209.47" font-size="3.8" text-anchor="end" font-weight="bold" style="stroke:#000;stroke-width:0.25">10</text>
<text x="176.10" y="207.47" font-size="3.0" font-weight="bold" style="stroke:#000;stroke-width:0.2">1</text>
<text x="195.53" y="228.90" font-size="3.8" text-anchor="middle" font-weight="bold" style="stroke:#000;stroke-width:0.25">10</text>
<text x="197.72" y="227.00" font-size="3.0" font-weight="bold" style="stroke:#000;stroke-width:0.2">1</text>
<text x="176.10" y="194.25" font-size="3.8" text-anchor="end" font-weight="bold" style="stroke:#000;stroke-width:0.25">10</text>
<text x="176.10" y="192.25" font-size="3.0" font-weight="bold" style="stroke:#000;stroke-width:0.2">2</text>
<text x="213.15" y="228.90" font-size="3.8" text-anchor="middle" font-weight="bold" style="stroke:#000;stroke-width:0.25">10</text>
<text x="215.35" y="227.00" font-size="3.0" font-weight="bold" style="stroke:#000;stroke-width:0.2">2</text>
<text x="176.10" y="179.02" font-size="3.8" text-anchor="end" font-weight="bold" style="stroke:#000;stroke-width:0.25">10</text>
<text x="176.10" y="177.02" font-size="3.0" font-weight="bold" style="stroke:#000;stroke-width:0.2">3</text>
<text x="230.78" y="228.90" font-size="3.8" text-anchor="middle" font-weight="bold" style="stroke:#000;stroke-width:0.25">10</text>
<text x="232.97" y="227.00" font-size="3.0" font-weight="bold" style="stroke:#000;stroke-width:0.2">3</text>
<text x="176.10" y="163.80" font-size="3.8" text-anchor="end" font-weight="bold" style="stroke:#000;stroke-width:0.25">10</text>
<text x="176.10" y="161.80" font-size="3.0" font-weight="bold" style="stroke:#000;stroke-width:0.2">4</text>
<text x="248.40" y="228.90" font-size="3.8" text-anchor="middle" font-weight="bold" style="stroke:#000;stroke-width:0.25">10</text>
<text x="250.60" y="227.00" font-size="3.0" font-weight="bold" style="stroke:#000;stroke-width:0.2">4</text>
<text x="219.00" y="158.70" font-size="7.0" text-anchor="middle" fill="#1a1a1a" textLength="34.90" lengthAdjust="spacingAndGlyphs" style="stroke:#1a1a1a;stroke-width:0.140">434 nmol/L</text>
<line x1="11.20" y1="213.50" x2="11.20" y2="234.40" stroke="#333" stroke-width="0.9" />
<path d="M8.7 214.5 L11.2 209.6 L13.7 214.5Z" fill="#333"/>
<line x1="11.20" y1="234.40" x2="52.00" y2="234.40" stroke="#333" stroke-width="0.9" />
<path d="M51 231.9 L55.8 234.4 L51 236.9Z" fill="#333"/>
<text x="9.40" y="234.40" font-size="7.2" fill="#222" textLength="14.80" lengthAdjust="spacingAndGlyphs" transform="rotate(-90 9.40 234.40)" style="stroke:#222;stroke-width:0.144">GFP</text>
<text x="12.70" y="246.00" font-size="8.0" fill="#222" textLength="62.30" lengthAdjust="spacingAndGlyphs" style="stroke:#222;stroke-width:0.160">Tyr–pentamer PE</text>
<text x="7.60" y="276.70" font-size="12.8" font-weight="bold" style="stroke:#000;stroke-width:0.384">C</text>
<text x="42.00" y="279.60" font-size="9.0" fill="#707070" textLength="85.00" lengthAdjust="spacingAndGlyphs" style="stroke:#707070;stroke-width:0.180">Tetramer dissociation</text>
<line x1="34.20" y1="375.20" x2="114.50" y2="375.20" stroke="#d9d9d9" stroke-width="0.8" />
<text x="27.00" y="377.90" font-size="7.8" text-anchor="end" fill="#7a7a7a" style="stroke:#7a7a7a;stroke-width:0.156">0</text>
<line x1="34.20" y1="361.00" x2="114.50" y2="361.00" stroke="#d9d9d9" stroke-width="0.8" />
<text x="27.00" y="363.70" font-size="7.8" text-anchor="end" fill="#7a7a7a" style="stroke:#7a7a7a;stroke-width:0.156">0.2</text>
<line x1="34.20" y1="346.80" x2="114.50" y2="346.80" stroke="#d9d9d9" stroke-width="0.8" />
<text x="27.00" y="349.50" font-size="7.8" text-anchor="end" fill="#7a7a7a" style="stroke:#7a7a7a;stroke-width:0.156">0.4</text>
<line x1="34.20" y1="332.60" x2="114.50" y2="332.60" stroke="#d9d9d9" stroke-width="0.8" />
<text x="27.00" y="335.30" font-size="7.8" text-anchor="end" fill="#7a7a7a" style="stroke:#7a7a7a;stroke-width:0.156">0.6</text>
<line x1="34.20" y1="318.40" x2="114.50" y2="318.40" stroke="#d9d9d9" stroke-width="0.8" />
<text x="27.00" y="321.10" font-size="7.8" text-anchor="end" fill="#7a7a7a" style="stroke:#7a7a7a;stroke-width:0.156">0.8</text>
<line x1="34.20" y1="304.20" x2="114.50" y2="304.20" stroke="#d9d9d9" stroke-width="0.8" />
<text x="27.00" y="306.90" font-size="7.8" text-anchor="end" fill="#7a7a7a" style="stroke:#7a7a7a;stroke-width:0.156">1</text>
<line x1="34.20" y1="290.00" x2="114.50" y2="290.00" stroke="#d9d9d9" stroke-width="0.8" />
<text x="27.00" y="292.70" font-size="7.8" text-anchor="end" fill="#7a7a7a" style="stroke:#7a7a7a;stroke-width:0.156">1.2</text>
<line x1="34.20" y1="289.00" x2="34.20" y2="375.20" stroke="#bfbfbf" stroke-width="0.8" />
<line x1="34.20" y1="375.20" x2="114.50" y2="375.20" stroke="#bfbfbf" stroke-width="0.8" />
<text x="34.20" y="388.40" font-size="7.8" text-anchor="middle" fill="#7a7a7a" style="stroke:#7a7a7a;stroke-width:0.156">0</text>
<text x="70.70" y="388.40" font-size="7.8" text-anchor="middle" fill="#7a7a7a" style="stroke:#7a7a7a;stroke-width:0.156">2</text>
<text x="107.20" y="388.40" font-size="7.8" text-anchor="middle" fill="#7a7a7a" style="stroke:#7a7a7a;stroke-width:0.156">4</text>
<text x="70.50" y="397.40" font-size="8.2" text-anchor="middle" fill="#262626" textLength="29.50" lengthAdjust="spacingAndGlyphs" style="stroke:#262626;stroke-width:0.164">Time (h)</text>
<text x="14.20" y="375.40" font-size="8.0" fill="#262626" textLength="91.00" lengthAdjust="spacingAndGlyphs" transform="rotate(-90 14.20 375.40)" style="stroke:#262626;stroke-width:0.160">Relative tetramer staining</text>
<line x1="43.33" y1="319.00" x2="43.33" y2="326.00" stroke="#8a8a8a" stroke-width="0.8" /><line x1="41.83" y1="319.00" x2="44.83" y2="319.00" stroke="#8a8a8a" stroke-width="1.0" /><line x1="41.83" y1="326.00" x2="44.83" y2="326.00" stroke="#8a8a8a" stroke-width="1.0" />
<line x1="43.33" y1="327.00" x2="43.33" y2="336.00" stroke="#8a8a8a" stroke-width="0.8" /><line x1="41.83" y1="327.00" x2="44.83" y2="327.00" stroke="#8a8a8a" stroke-width="1.0" /><line x1="41.83" y1="336.00" x2="44.83" y2="336.00" stroke="#8a8a8a" stroke-width="1.0" />
<line x1="52.45" y1="324.00" x2="52.45" y2="332.00" stroke="#8a8a8a" stroke-width="0.8" /><line x1="50.95" y1="324.00" x2="53.95" y2="324.00" stroke="#8a8a8a" stroke-width="1.0" /><line x1="50.95" y1="332.00" x2="53.95" y2="332.00" stroke="#8a8a8a" stroke-width="1.0" />
<line x1="52.45" y1="336.00" x2="52.45" y2="344.00" stroke="#8a8a8a" stroke-width="0.8" /><line x1="50.95" y1="336.00" x2="53.95" y2="336.00" stroke="#8a8a8a" stroke-width="1.0" /><line x1="50.95" y1="344.00" x2="53.95" y2="344.00" stroke="#8a8a8a" stroke-width="1.0" />
<line x1="61.58" y1="326.00" x2="61.58" y2="336.00" stroke="#8a8a8a" stroke-width="0.8" /><line x1="60.08" y1="326.00" x2="63.08" y2="326.00" stroke="#8a8a8a" stroke-width="1.0" /><line x1="60.08" y1="336.00" x2="63.08" y2="336.00" stroke="#8a8a8a" stroke-width="1.0" />
<line x1="61.58" y1="338.00" x2="61.58" y2="348.00" stroke="#8a8a8a" stroke-width="0.8" /><line x1="60.08" y1="338.00" x2="63.08" y2="338.00" stroke="#8a8a8a" stroke-width="1.0" /><line x1="60.08" y1="348.00" x2="63.08" y2="348.00" stroke="#8a8a8a" stroke-width="1.0" />
<line x1="61.58" y1="330.00" x2="61.58" y2="338.00" stroke="#8a8a8a" stroke-width="0.8" /><line x1="60.08" y1="330.00" x2="63.08" y2="330.00" stroke="#8a8a8a" stroke-width="1.0" /><line x1="60.08" y1="338.00" x2="63.08" y2="338.00" stroke="#8a8a8a" stroke-width="1.0" />
<line x1="70.70" y1="326.00" x2="70.70" y2="336.00" stroke="#8a8a8a" stroke-width="0.8" /><line x1="69.20" y1="326.00" x2="72.20" y2="326.00" stroke="#8a8a8a" stroke-width="1.0" /><line x1="69.20" y1="336.00" x2="72.20" y2="336.00" stroke="#8a8a8a" stroke-width="1.0" />
<line x1="70.70" y1="340.00" x2="70.70" y2="350.00" stroke="#8a8a8a" stroke-width="0.8" /><line x1="69.20" y1="340.00" x2="72.20" y2="340.00" stroke="#8a8a8a" stroke-width="1.0" /><line x1="69.20" y1="350.00" x2="72.20" y2="350.00" stroke="#8a8a8a" stroke-width="1.0" />
<line x1="88.95" y1="316.00" x2="88.95" y2="320.00" stroke="#8a8a8a" stroke-width="0.8" /><line x1="87.45" y1="316.00" x2="90.45" y2="316.00" stroke="#8a8a8a" stroke-width="1.0" /><line x1="87.45" y1="320.00" x2="90.45" y2="320.00" stroke="#8a8a8a" stroke-width="1.0" />
<line x1="88.95" y1="328.00" x2="88.95" y2="338.00" stroke="#8a8a8a" stroke-width="0.8" /><line x1="87.45" y1="328.00" x2="90.45" y2="328.00" stroke="#8a8a8a" stroke-width="1.0" /><line x1="87.45" y1="338.00" x2="90.45" y2="338.00" stroke="#8a8a8a" stroke-width="1.0" />
<line x1="88.95" y1="342.00" x2="88.95" y2="354.00" stroke="#8a8a8a" stroke-width="0.8" /><line x1="87.45" y1="342.00" x2="90.45" y2="342.00" stroke="#8a8a8a" stroke-width="1.0" /><line x1="87.45" y1="354.00" x2="90.45" y2="354.00" stroke="#8a8a8a" stroke-width="1.0" />
<line x1="107.20" y1="313.00" x2="107.20" y2="328.00" stroke="#8a8a8a" stroke-width="0.8" /><line x1="105.70" y1="313.00" x2="108.70" y2="313.00" stroke="#8a8a8a" stroke-width="1.0" /><line x1="105.70" y1="328.00" x2="108.70" y2="328.00" stroke="#8a8a8a" stroke-width="1.0" />
<line x1="107.20" y1="330.00" x2="107.20" y2="340.00" stroke="#8a8a8a" stroke-width="0.8" /><line x1="105.70" y1="330.00" x2="108.70" y2="330.00" stroke="#8a8a8a" stroke-width="1.0" /><line x1="105.70" y1="340.00" x2="108.70" y2="340.00" stroke="#8a8a8a" stroke-width="1.0" />
<line x1="107.20" y1="346.00" x2="107.20" y2="356.00" stroke="#8a8a8a" stroke-width="0.8" /><line x1="105.70" y1="346.00" x2="108.70" y2="346.00" stroke="#8a8a8a" stroke-width="1.0" /><line x1="105.70" y1="356.00" x2="108.70" y2="356.00" stroke="#8a8a8a" stroke-width="1.0" />
<rect x="31.60" y="301.80" width="5.20" height="5.20" fill="#111" />
<path d="M31.20 304.40H37.20M34.20 301.40V307.40" stroke="#111" stroke-width="1.4"/>
<rect x="40.93" y="305.40" width="4.80" height="4.80" fill="#111" />
<circle cx="43.33" cy="323.80" r="2.4" fill="#111"/>
<path d="M39.33 332.40H47.33M43.33 328.40V336.40" stroke="#111" stroke-width="2.0"/>
<rect x="50.05" y="307.70" width="4.80" height="4.80" fill="#111" />
<circle cx="52.45" cy="328.60" r="2.4" fill="#111"/>
<path d="M49.55 335.01L52.45 329.79L55.35 335.01Z" fill="#111"/>
<path d="M48.45 340.50H56.45M52.45 336.50V344.50" stroke="#111" stroke-width="2.0"/>
<rect x="59.18" y="309.30" width="4.80" height="4.80" fill="#111" />
<circle cx="61.58" cy="330.60" r="2.4" fill="#111"/>
<path d="M58.68 336.61L61.58 331.39L64.48 336.61Z" fill="#111"/>
<path d="M57.58 343.70H65.58M61.58 339.70V347.70" stroke="#111" stroke-width="2.0"/>
<rect x="68.30" y="309.60" width="4.80" height="4.80" fill="#111" />
<circle cx="70.70" cy="331.20" r="2.4" fill="#111"/>
<path d="M67.80 338.91L70.70 333.69L73.60 338.91Z" fill="#111"/>
<path d="M66.70 346.00H74.70M70.70 342.00V350.00" stroke="#111" stroke-width="2.0"/>
<rect x="86.55" y="316.10" width="4.80" height="4.80" fill="#111" />
<circle cx="88.95" cy="334.50" r="2.4" fill="#111"/>
<path d="M86.05 342.91L88.95 337.69L91.85 342.91Z" fill="#111"/>
<path d="M84.95 348.80H92.95M88.95 344.80V352.80" stroke="#111" stroke-width="2.0"/>
<rect x="104.80" y="319.90" width="4.80" height="4.80" fill="#111" />
<circle cx="107.20" cy="335.10" r="2.4" fill="#111"/>
<path d="M104.30 344.11L107.20 338.89L110.10 344.11Z" fill="#111"/>
<path d="M103.20 351.60H111.20M107.20 347.60V355.60" stroke="#111" stroke-width="2.0"/>
<text x="157.00" y="276.60" font-size="12.5" font-weight="bold" style="stroke:#000;stroke-width:0.375">D</text>
<text x="156.60" y="381.30" font-size="4.4" text-anchor="end" fill="#8a8a8a">0</text>
<line x1="160.30" y1="363.91" x2="242.20" y2="363.91" stroke="#d9d9d9" stroke-width="0.8" />
<text x="156.60" y="365.51" font-size="4.4" text-anchor="end" fill="#8a8a8a">5</text>
<line x1="160.30" y1="348.13" x2="242.20" y2="348.13" stroke="#d9d9d9" stroke-width="0.8" />
<text x="156.60" y="349.73" font-size="4.4" text-anchor="end" fill="#8a8a8a">10</text>
<line x1="160.30" y1="332.34" x2="242.20" y2="332.34" stroke="#d9d9d9" stroke-width="0.8" />
<text x="156.60" y="333.94" font-size="4.4" text-anchor="end" fill="#8a8a8a">15</text>
<line x1="160.30" y1="316.56" x2="242.20" y2="316.56" stroke="#d9d9d9" stroke-width="0.8" />
<text x="156.60" y="318.16" font-size="4.4" text-anchor="end" fill="#8a8a8a">20</text>
<line x1="160.30" y1="300.77" x2="242.20" y2="300.77" stroke="#d9d9d9" stroke-width="0.8" />
<text x="156.60" y="302.38" font-size="4.4" text-anchor="end" fill="#8a8a8a">25</text>
<line x1="160.30" y1="284.99" x2="242.20" y2="284.99" stroke="#d9d9d9" stroke-width="0.8" />
<text x="156.60" y="286.59" font-size="4.4" text-anchor="end" fill="#8a8a8a">30</text>
<line x1="160.30" y1="283.00" x2="160.30" y2="379.70" stroke="#bfbfbf" stroke-width="0.8" />
<line x1="159.20" y1="379.70" x2="247.00" y2="379.70" stroke="#bfbfbf" stroke-width="0.8" />
<line x1="159.20" y1="379.70" x2="159.20" y2="381.50" stroke="#bfbfbf" stroke-width="0.6" />
<text x="159.20" y="388.20" font-size="4.6" text-anchor="middle" fill="#8a8a8a">-4</text>
<line x1="173.83" y1="379.70" x2="173.83" y2="381.50" stroke="#bfbfbf" stroke-width="0.6" />
<text x="173.83" y="388.20" font-size="4.6" text-anchor="middle" fill="#8a8a8a">-3.5</text>
<line x1="188.46" y1="379.70" x2="188.46" y2="381.50" stroke="#bfbfbf" stroke-width="0.6" />
<text x="188.46" y="388.20" font-size="4.6" text-anchor="middle" fill="#8a8a8a">-3</text>
<line x1="203.09" y1="379.70" x2="203.09" y2="381.50" stroke="#bfbfbf" stroke-width="0.6" />
<text x="203.09" y="388.20" font-size="4.6" text-anchor="middle" fill="#8a8a8a">-2.5</text>
<line x1="217.72" y1="379.70" x2="217.72" y2="381.50" stroke="#bfbfbf" stroke-width="0.6" />
<text x="217.72" y="388.20" font-size="4.6" text-anchor="middle" fill="#8a8a8a">-2</text>
<line x1="232.35" y1="379.70" x2="232.35" y2="381.50" stroke="#bfbfbf" stroke-width="0.6" />
<text x="232.35" y="388.20" font-size="4.6" text-anchor="middle" fill="#8a8a8a">-1.5</text>
<line x1="246.98" y1="379.70" x2="246.98" y2="381.50" stroke="#bfbfbf" stroke-width="0.6" />
<text x="246.98" y="388.20" font-size="4.6" text-anchor="middle" fill="#8a8a8a">-1</text>
<text x="176.00" y="398.50" font-size="8.0" fill="#262626" textLength="27.20" lengthAdjust="spacingAndGlyphs" style="stroke:#262626;stroke-width:0.160">log Fab</text>
<text x="206.00" y="398.50" font-size="8.0" fill="#262626" style="font-style:italic">K</text>
<text x="211.40" y="400.00" font-size="5.4" fill="#262626" style="font-style:italic">off</text>
<text x="221.00" y="398.50" font-size="8.0" fill="#262626" style="stroke:#262626;stroke-width:0.160">(s</text>
<text x="228.60" y="395.20" font-size="4.8" fill="#262626">-1</text>
<text x="232.20" y="398.50" font-size="8.0" fill="#262626" style="stroke:#262626;stroke-width:0.160">)</text>
<text x="196.50" y="294.60" font-size="6.6" fill="#7f7f7f" style="font-style:italic">R</text>
<text x="200.90" y="291.80" font-size="4.2" fill="#7f7f7f">2</text>
<text x="204.00" y="294.60" font-size="6.6" fill="#7f7f7f" textLength="21.40" lengthAdjust="spacingAndGlyphs" style="stroke:#7f7f7f;stroke-width:0.132">= 0.8988</text>
<text x="147.80" y="344.60" font-size="8.8" fill="#111" transform="rotate(-90 147.80 344.60)" style="stroke:#111;stroke-width:0.3">t</text>
<text x="150.00" y="340.80" font-size="5.0" fill="#111" textLength="6.40" lengthAdjust="spacingAndGlyphs" transform="rotate(-90 150.00 340.80)">1/2</text>
<text x="148.60" y="331.20" font-size="7.0" fill="#111" textLength="9.20" lengthAdjust="spacingAndGlyphs" transform="rotate(-90 148.60 331.20)" style="stroke:#111;stroke-width:0.140">(h)</text>
<line x1="172.40" y1="313.00" x2="172.40" y2="344.50" stroke="#6a6a6a" stroke-width="0.8" />
<circle cx="172.4" cy="285.0" r="1.6" fill="#fff" stroke="#222" stroke-width="0.9"/>
<circle cx="172.4" cy="305.5" r="1.6" fill="#fff" stroke="#222" stroke-width="0.9"/>
<circle cx="172.4" cy="313.2" r="1.6" fill="#fff" stroke="#222" stroke-width="0.9"/>
<circle cx="172.4" cy="344.6" r="1.6" fill="#fff" stroke="#222" stroke-width="0.9"/>
<circle cx="172.4" cy="355.0" r="1.6" fill="#fff" stroke="#222" stroke-width="0.9"/>
<circle cx="172.4" cy="367.7" r="1.6" fill="#fff" stroke="#222" stroke-width="0.9"/>
<rect x="169.10" y="323.40" width="6.60" height="9.40" fill="#2a5a8c" />
<rect x="170.30" y="324.80" width="4.20" height="6.60" fill="#1f4a78" />
<ellipse cx="207.7" cy="370.0" rx="3.2" ry="4.3" fill="#1d3553" stroke="#3a6ea5" stroke-width="0.7"/>
<path d="M221.6 376.2L225.0 367.4L228.4 376.2Z" fill="#1d3553"/>
<path d="M227.8 374.6H236.0M232.0 370.0V379.0" stroke="#1d3553" stroke-width="2.2"/>
<path d="M244.6 318.3H248.8M246.7 316.2V320.4" stroke="#111" stroke-width="1.0"/>
<path d="M244.7 330.2L246.7 326.6L248.7 330.2Z" fill="#111"/>
<circle cx="246.7" cy="338.7" r="1.4" fill="#111"/>
<rect x="245.30" y="348.00" width="2.80" height="2.80" fill="#111" />
<text x="251.20" y="320.30" font-size="5.8" fill="#222" textLength="26.20" lengthAdjust="spacingAndGlyphs" style="stroke:#222;stroke-width:0.116">434 nmol/L</text>
<text x="251.20" y="330.50" font-size="5.8" fill="#222" textLength="23.70" lengthAdjust="spacingAndGlyphs" style="stroke:#222;stroke-width:0.116">35 nmol/L</text>
<text x="251.20" y="340.70" font-size="5.8" fill="#222" textLength="23.70" lengthAdjust="spacingAndGlyphs" style="stroke:#222;stroke-width:0.116">16 nmol/L</text>
<text x="251.20" y="351.40" font-size="5.8" fill="#222" textLength="19.80" lengthAdjust="spacingAndGlyphs" style="stroke:#222;stroke-width:0.116">4 nmol/L</text>
<text x="266.50" y="16.90" font-size="12.4" font-weight="bold" style="stroke:#000;stroke-width:0.372">E</text>
<text x="295.40" y="20.10" font-size="9.7" fill="#1a1a1a" textLength="66.00" lengthAdjust="spacingAndGlyphs" style="stroke:#1a1a1a;stroke-width:0.194">Gating strategy</text>
<path d="M283.3 33.6H375.5V77.4" fill="none" stroke="#9a9a9a" stroke-width="0.8"/>
<line x1="283.30" y1="32.60" x2="283.30" y2="77.40" stroke="#111" stroke-width="0.9" />
<line x1="283.30" y1="77.40" x2="375.50" y2="77.40" stroke="#111" stroke-width="1.0" />
<line x1="281.80" y1="77.40" x2="283.30" y2="77.40" stroke="#111" stroke-width="0.7" />
<text x="281.30" y="79.00" font-size="4.8" text-anchor="end" fill="#222">0</text>
<line x1="281.80" y1="66.45" x2="283.30" y2="66.45" stroke="#111" stroke-width="0.7" />
<text x="281.30" y="68.05" font-size="4.8" text-anchor="end" fill="#222">5</text>
<line x1="281.80" y1="55.50" x2="283.30" y2="55.50" stroke="#111" stroke-width="0.7" />
<text x="281.30" y="57.10" font-size="4.8" text-anchor="end" fill="#222">10</text>
<line x1="281.80" y1="44.55" x2="283.30" y2="44.55" stroke="#111" stroke-width="0.7" />
<text x="281.30" y="46.15" font-size="4.8" text-anchor="end" fill="#222">15</text>
<line x1="281.80" y1="33.60" x2="283.30" y2="33.60" stroke="#111" stroke-width="0.7" />
<text x="281.30" y="35.20" font-size="4.8" text-anchor="end" fill="#222">20</text>
<text x="270.00" y="61.00" font-size="4.8" fill="#333" transform="rotate(-90 270.00 61.00)">Count</text>
<line x1="288.50" y1="77.40" x2="288.50" y2="78.90" stroke="#111" stroke-width="0.6" />
<text x="283.89" y="84.40" font-size="4.4" fill="#222">−10</text><text x="291.45" y="82.73" font-size="2.728" fill="#222">2</text>
<line x1="297.50" y1="77.40" x2="297.50" y2="78.90" stroke="#111" stroke-width="0.6" />
<text x="294.17" y="84.40" font-size="4.4" fill="#222">10</text><text x="299.17" y="82.73" font-size="2.728" fill="#222">2</text>
<line x1="304.00" y1="77.40" x2="304.00" y2="78.90" stroke="#111" stroke-width="0.6" />
<text x="300.67" y="84.40" font-size="4.4" fill="#222">10</text><text x="305.67" y="82.73" font-size="2.728" fill="#222">2</text>
<line x1="327.60" y1="77.40" x2="327.60" y2="78.90" stroke="#111" stroke-width="0.6" />
<text x="324.27" y="84.40" font-size="4.4" fill="#222">10</text><text x="329.27" y="82.73" font-size="2.728" fill="#222">3</text>
<line x1="351.00" y1="77.40" x2="351.00" y2="78.90" stroke="#111" stroke-width="0.6" />
<text x="347.67" y="84.40" font-size="4.4" fill="#222">10</text><text x="352.67" y="82.73" font-size="2.728" fill="#222">4</text>
<line x1="373.50" y1="77.40" x2="373.50" y2="78.90" stroke="#111" stroke-width="0.6" />
<text x="370.17" y="84.40" font-size="4.4" fill="#222">10</text><text x="375.17" y="82.73" font-size="2.728" fill="#222">5</text>
<text x="332.80" y="87.60" font-size="2.6" text-anchor="middle" fill="#555">APC-A</text>
<line x1="327.60" y1="46.00" x2="327.60" y2="77.40" stroke="#555" stroke-width="0.6" />
<line x1="339.30" y1="44.00" x2="339.30" y2="77.40" stroke="#555" stroke-width="0.6" />
<polyline points="309.70,77.40 310.30,75.43 310.90,75.46 311.50,72.66 312.10,69.46 312.70,70.19 313.30,68.68 313.90,68.86 314.50,66.68 315.10,68.10 315.70,67.66 316.30,68.58 316.90,66.89 317.50,66.35 318.10,63.56 318.70,66.52 319.30,61.57 319.90,63.80 320.50,61.74 321.10,60.72 321.70,60.47 322.30,59.98 322.90,60.40 323.50,59.18 324.10,60.05 324.70,56.01 325.30,56.95 325.90,55.08 326.50,55.78 327.10,51.72 327.70,52.32 328.30,51.71 328.90,48.92 329.50,50.30 330.10,48.41 330.70,48.05 331.30,46.65 331.90,43.35 332.50,45.12 333.10,47.89 333.70,51.02 334.30,51.10 334.90,48.42 335.50,47.39 336.10,45.56 336.70,44.13 337.30,42.84 337.90,43.67 338.50,47.06 339.10,45.69 339.70,47.11 340.30,49.06 340.90,48.61 341.50,50.11 342.10,51.40 342.70,53.29 343.30,52.75 343.90,56.98 344.50,56.80 345.10,58.86 345.70,61.08 346.30,62.54 346.90,64.71 347.50,65.59 348.10,66.67 348.70,67.78 349.30,67.25 349.90,70.19 350.50,68.91 351.10,69.14 351.70,73.57 352.30,72.49 352.90,72.68 353.50,77.01 354.10,75.61 354.70,77.27 355.30,75.65 355.90,76.51 356.50,75.21 357.10,77.01 357.70,77.12 358.30,77.23 358.90,77.34" fill="none" stroke="#111" stroke-width="1.2" stroke-linejoin="round" />
<line x1="305.20" y1="33.80" x2="326.80" y2="33.80" stroke="#2fd12f" stroke-width="1.8" /><line x1="305.20" y1="30.80" x2="305.20" y2="36.80" stroke="#2fd12f" stroke-width="1.4" /><line x1="326.80" y1="30.80" x2="326.80" y2="36.80" stroke="#2fd12f" stroke-width="1.4" />
<line x1="326.80" y1="38.70" x2="338.00" y2="38.70" stroke="#1a1ad0" stroke-width="1.8" /><line x1="326.80" y1="35.45" x2="326.80" y2="41.95" stroke="#1a1ad0" stroke-width="1.4" /><line x1="338.00" y1="35.45" x2="338.00" y2="41.95" stroke="#1a1ad0" stroke-width="1.4" />
<line x1="338.00" y1="33.80" x2="361.00" y2="33.80" stroke="#e01818" stroke-width="1.8" /><line x1="338.00" y1="30.80" x2="338.00" y2="36.80" stroke="#e01818" stroke-width="1.4" /><line x1="361.00" y1="30.80" x2="361.00" y2="36.80" stroke="#e01818" stroke-width="1.4" />
<text x="316.20" y="30.70" font-size="6.0" text-anchor="middle" fill="#44cc44" textLength="11.00" lengthAdjust="spacingAndGlyphs" style="stroke:#44cc44;stroke-width:0.120">Low</text>
<text x="333.10" y="30.70" font-size="6.0" text-anchor="middle" fill="#2424c8" textLength="11.00" lengthAdjust="spacingAndGlyphs" style="stroke:#2424c8;stroke-width:0.120">Med</text>
<text x="350.80" y="30.70" font-size="6.0" text-anchor="middle" fill="#d83030" textLength="14.60" lengthAdjust="spacingAndGlyphs" style="stroke:#d83030;stroke-width:0.120">High</text>
<line x1="280.00" y1="94.60" x2="322.80" y2="94.60" stroke="#666" stroke-width="1.0" /><path d="M322.30 92.00L327.50 94.60L322.30 97.20Z" fill="#666"/>
<text x="285.60" y="106.20" font-size="8.3" fill="#1a1a1a" textLength="70.00" lengthAdjust="spacingAndGlyphs" style="stroke:#1a1a1a;stroke-width:0.166">Tyr–monomer APC</text>
<path fill="#666" d="M338.5 146.9h0.7v0.7h-0.7zM334.1 150.5h0.7v0.7h-0.7zM329.3 135.8h0.7v0.7h-0.7zM316.5 140.9h0.7v0.7h-0.7zM349.4 136.2h0.7v0.7h-0.7zM302.5 160.6h0.7v0.7h-0.7zM343.0 140.6h0.7v0.7h-0.7zM304.1 163.7h0.7v0.7h-0.7zM349.2 139.5h0.7v0.7h-0.7zM317.6 149.3h0.7v0.7h-0.7zM317.5 147.9h0.7v0.7h-0.7zM306.4 160.2h0.7v0.7h-0.7zM337.3 148.1h0.7v0.7h-0.7zM316.9 151.5h0.7v0.7h-0.7zM338.7 130.1h0.7v0.7h-0.7zM335.0 145.4h0.7v0.7h-0.7zM324.4 142.9h0.7v0.7h-0.7zM302.9 151.2h0.7v0.7h-0.7zM329.9 136.8h0.7v0.7h-0.7zM347.1 137.5h0.7v0.7h-0.7zM326.1 141.1h0.7v0.7h-0.7zM340.8 134.4h0.7v0.7h-0.7zM329.4 140.0h0.7v0.7h-0.7zM330.2 150.3h0.7v0.7h-0.7zM334.0 130.3h0.7v0.7h-0.7zM326.8 130.7h0.7v0.7h-0.7zM347.1 130.4h0.7v0.7h-0.7zM291.1 155.0h0.7v0.7h-0.7zM311.3 151.8h0.7v0.7h-0.7zM325.2 139.2h0.7v0.7h-0.7zM313.9 150.0h0.7v0.7h-0.7zM336.7 134.1h0.7v0.7h-0.7zM307.6 146.0h0.7v0.7h-0.7zM316.4 147.9h0.7v0.7h-0.7zM337.2 138.4h0.7v0.7h-0.7zM339.9 145.5h0.7v0.7h-0.7zM338.9 133.3h0.7v0.7h-0.7zM298.7 152.3h0.7v0.7h-0.7zM310.3 158.3h0.7v0.7h-0.7zM332.8 138.6h0.7v0.7h-0.7zM327.4 149.8h0.7v0.7h-0.7zM341.7 132.6h0.7v0.7h-0.7zM351.1 136.0h0.7v0.7h-0.7zM308.6 146.9h0.7v0.7h-0.7zM347.0 134.0h0.7v0.7h-0.7zM334.7 137.7h0.7v0.7h-0.7zM307.4 160.4h0.7v0.7h-0.7zM351.9 126.3h0.7v0.7h-0.7zM337.3 146.9h0.7v0.7h-0.7zM295.2 162.0h0.7v0.7h-0.7zM325.4 155.7h0.7v0.7h-0.7zM332.7 133.9h0.7v0.7h-0.7zM327.1 142.5h0.7v0.7h-0.7zM337.7 136.9h0.7v0.7h-0.7zM326.7 136.5h0.7v0.7h-0.7zM294.0 160.3h0.7v0.7h-0.7zM329.5 135.6h0.7v0.7h-0.7zM301.9 159.1h0.7v0.7h-0.7zM343.7 138.5h0.7v0.7h-0.7zM332.6 148.3h0.7v0.7h-0.7zM336.2 127.0h0.7v0.7h-0.7zM323.3 136.3h0.7v0.7h-0.7zM347.7 131.8h0.7v0.7h-0.7zM333.5 136.0h0.7v0.7h-0.7zM313.5 143.3h0.7v0.7h-0.7zM325.5 139.7h0.7v0.7h-0.7zM340.0 140.5h0.7v0.7h-0.7zM331.3 144.4h0.7v0.7h-0.7zM316.1 138.5h0.7v0.7h-0.7zM313.0 146.5h0.7v0.7h-0.7zM292.0 160.5h0.7v0.7h-0.7zM348.3 129.7h0.7v0.7h-0.7zM327.4 138.4h0.7v0.7h-0.7zM303.7 161.4h0.7v0.7h-0.7zM309.6 146.2h0.7v0.7h-0.7zM306.5 149.0h0.7v0.7h-0.7zM315.7 151.7h0.7v0.7h-0.7zM291.1 161.9h0.7v0.7h-0.7zM344.6 129.0h0.7v0.7h-0.7zM346.9 135.0h0.7v0.7h-0.7zM324.8 151.6h0.7v0.7h-0.7zM338.5 126.0h0.7v0.7h-0.7zM340.2 136.8h0.7v0.7h-0.7zM298.2 162.5h0.7v0.7h-0.7zM292.2 161.0h0.7v0.7h-0.7zM314.2 142.8h0.7v0.7h-0.7zM351.9 127.1h0.7v0.7h-0.7zM327.9 134.3h0.7v0.7h-0.7zM332.4 150.6h0.7v0.7h-0.7zM316.3 136.7h0.7v0.7h-0.7zM322.5 147.0h0.7v0.7h-0.7zM309.4 154.7h0.7v0.7h-0.7zM325.0 146.6h0.7v0.7h-0.7zM307.7 137.6h0.7v0.7h-0.7zM301.5 151.9h0.7v0.7h-0.7zM331.3 141.5h0.7v0.7h-0.7zM306.4 143.9h0.7v0.7h-0.7zM319.6 146.1h0.7v0.7h-0.7zM306.6 149.7h0.7v0.7h-0.7zM351.4 129.0h0.7v0.7h-0.7zM307.0 147.4h0.7v0.7h-0.7zM346.2 124.2h0.7v0.7h-0.7zM310.4 151.8h0.7v0.7h-0.7zM310.2 153.9h0.7v0.7h-0.7zM291.1 151.8h0.7v0.7h-0.7zM306.5 150.7h0.7v0.7h-0.7zM342.1 129.8h0.7v0.7h-0.7zM292.9 157.1h0.7v0.7h-0.7zM346.1 136.0h0.7v0.7h-0.7zM312.3 148.4h0.7v0.7h-0.7zM296.6 156.4h0.7v0.7h-0.7zM335.0 128.8h0.7v0.7h-0.7zM319.1 144.1h0.7v0.7h-0.7zM322.4 148.6h0.7v0.7h-0.7zM311.8 149.7h0.7v0.7h-0.7zM346.3 127.3h0.7v0.7h-0.7zM319.2 149.2h0.7v0.7h-0.7zM322.3 147.5h0.7v0.7h-0.7zM349.4 137.4h0.7v0.7h-0.7zM311.6 145.2h0.7v0.7h-0.7zM330.4 141.7h0.7v0.7h-0.7zM324.1 137.5h0.7v0.7h-0.7zM325.2 145.4h0.7v0.7h-0.7zM312.8 160.1h0.7v0.7h-0.7zM324.7 142.4h0.7v0.7h-0.7zM310.2 157.8h0.7v0.7h-0.7zM294.2 158.2h0.7v0.7h-0.7zM324.8 145.9h0.7v0.7h-0.7zM332.7 134.2h0.7v0.7h-0.7zM348.0 131.9h0.7v0.7h-0.7zM344.4 135.5h0.7v0.7h-0.7zM319.1 142.8h0.7v0.7h-0.7zM296.6 159.8h0.7v0.7h-0.7zM309.5 137.9h0.7v0.7h-0.7zM300.5 163.5h0.7v0.7h-0.7zM317.0 138.2h0.7v0.7h-0.7zM334.7 134.3h0.7v0.7h-0.7zM326.7 143.0h0.7v0.7h-0.7zM329.2 145.6h0.7v0.7h-0.7zM348.9 129.5h0.7v0.7h-0.7zM335.6 142.9h0.7v0.7h-0.7zM292.1 162.8h0.7v0.7h-0.7zM306.1 153.6h0.7v0.7h-0.7zM324.9 147.1h0.7v0.7h-0.7zM344.4 140.2h0.7v0.7h-0.7zM338.0 139.6h0.7v0.7h-0.7zM333.8 147.0h0.7v0.7h-0.7zM331.6 142.9h0.7v0.7h-0.7zM313.4 145.8h0.7v0.7h-0.7zM307.2 149.7h0.7v0.7h-0.7zM334.0 144.7h0.7v0.7h-0.7zM305.7 155.7h0.7v0.7h-0.7zM304.7 162.1h0.7v0.7h-0.7zM338.2 129.1h0.7v0.7h-0.7zM339.3 140.5h0.7v0.7h-0.7zM344.8 137.8h0.7v0.7h-0.7zM303.5 153.5h0.7v0.7h-0.7zM312.5 153.0h0.7v0.7h-0.7z"/>
<path d="M291.5 163.4 C294 161.2 298 159.2 302 158.0 C306 157.0 309.5 156.6 311.5 157.6 C311 159.4 307 160.8 302 162.0 C297 163.2 294 164.2 291.5 163.4Z" fill="#111"/>

<path fill="#111" d="M295.6 162.6h0.9v0.9h-0.9zM303.0 160.7h0.9v0.9h-0.9zM295.0 164.2h0.9v0.9h-0.9zM303.6 157.6h0.9v0.9h-0.9zM294.9 160.2h0.9v0.9h-0.9zM298.7 163.2h0.9v0.9h-0.9zM308.4 157.2h0.9v0.9h-0.9zM299.7 164.1h0.9v0.9h-0.9zM308.4 156.7h0.9v0.9h-0.9zM302.1 159.4h0.9v0.9h-0.9zM303.9 161.0h0.9v0.9h-0.9zM301.4 161.0h0.9v0.9h-0.9zM306.4 160.0h0.9v0.9h-0.9zM299.2 160.6h0.9v0.9h-0.9zM311.1 155.7h0.9v0.9h-0.9zM305.6 158.0h0.9v0.9h-0.9zM300.7 163.4h0.9v0.9h-0.9zM310.8 155.4h0.9v0.9h-0.9zM303.4 157.5h0.9v0.9h-0.9zM293.8 162.7h0.9v0.9h-0.9zM312.1 156.7h0.9v0.9h-0.9zM311.8 155.2h0.9v0.9h-0.9zM303.8 159.7h0.9v0.9h-0.9zM303.5 161.3h0.9v0.9h-0.9zM306.4 157.8h0.9v0.9h-0.9zM294.9 161.5h0.9v0.9h-0.9zM302.9 158.9h0.9v0.9h-0.9zM293.8 159.7h0.9v0.9h-0.9zM307.9 158.7h0.9v0.9h-0.9zM299.5 161.7h0.9v0.9h-0.9zM306.0 158.5h0.9v0.9h-0.9zM300.4 162.6h0.9v0.9h-0.9zM308.1 160.6h0.9v0.9h-0.9zM309.1 158.3h0.9v0.9h-0.9zM300.3 160.1h0.9v0.9h-0.9zM299.4 161.1h0.9v0.9h-0.9zM304.3 161.4h0.9v0.9h-0.9zM311.1 157.2h0.9v0.9h-0.9zM305.3 157.1h0.9v0.9h-0.9zM298.9 159.3h0.9v0.9h-0.9zM303.8 158.6h0.9v0.9h-0.9zM298.4 161.2h0.9v0.9h-0.9zM291.8 163.2h0.9v0.9h-0.9zM305.7 161.0h0.9v0.9h-0.9zM295.9 161.3h0.9v0.9h-0.9zM290.6 166.0h0.9v0.9h-0.9zM301.7 160.6h0.9v0.9h-0.9zM293.8 162.3h0.9v0.9h-0.9zM299.2 158.9h0.9v0.9h-0.9zM295.7 160.4h0.9v0.9h-0.9zM297.5 158.5h0.9v0.9h-0.9zM310.6 157.2h0.9v0.9h-0.9zM303.4 159.8h0.9v0.9h-0.9zM301.0 160.1h0.9v0.9h-0.9zM305.6 158.3h0.9v0.9h-0.9zM309.8 157.0h0.9v0.9h-0.9zM309.1 156.1h0.9v0.9h-0.9zM303.9 160.4h0.9v0.9h-0.9zM310.1 159.6h0.9v0.9h-0.9zM296.5 160.6h0.9v0.9h-0.9zM311.5 156.2h0.9v0.9h-0.9zM293.3 164.6h0.9v0.9h-0.9zM305.8 156.7h0.9v0.9h-0.9zM298.8 163.1h0.9v0.9h-0.9zM299.6 159.7h0.9v0.9h-0.9zM299.8 162.8h0.9v0.9h-0.9zM292.4 163.5h0.9v0.9h-0.9zM302.5 160.4h0.9v0.9h-0.9zM306.1 158.5h0.9v0.9h-0.9zM305.2 159.5h0.9v0.9h-0.9zM310.1 153.4h0.9v0.9h-0.9zM301.1 160.3h0.9v0.9h-0.9zM294.2 164.7h0.9v0.9h-0.9zM305.4 156.1h0.9v0.9h-0.9zM300.8 161.5h0.9v0.9h-0.9zM303.2 158.4h0.9v0.9h-0.9zM306.2 159.2h0.9v0.9h-0.9zM297.3 161.2h0.9v0.9h-0.9zM310.4 159.3h0.9v0.9h-0.9zM297.2 160.6h0.9v0.9h-0.9zM311.1 158.2h0.9v0.9h-0.9zM303.2 159.2h0.9v0.9h-0.9zM304.1 161.0h0.9v0.9h-0.9zM309.8 165.6h0.9v0.9h-0.9zM295.3 161.2h0.9v0.9h-0.9zM296.6 160.2h0.9v0.9h-0.9zM303.2 159.0h0.9v0.9h-0.9zM308.7 155.4h0.9v0.9h-0.9zM307.6 156.3h0.9v0.9h-0.9zM304.0 158.9h0.9v0.9h-0.9zM308.5 155.9h0.9v0.9h-0.9zM303.5 162.3h0.9v0.9h-0.9zM310.6 157.0h0.9v0.9h-0.9zM307.6 160.2h0.9v0.9h-0.9zM306.2 160.8h0.9v0.9h-0.9zM309.1 154.2h0.9v0.9h-0.9zM307.1 164.6h0.9v0.9h-0.9zM301.1 160.0h0.9v0.9h-0.9zM303.6 158.4h0.9v0.9h-0.9zM301.4 160.2h0.9v0.9h-0.9zM297.9 155.6h0.9v0.9h-0.9zM302.2 158.6h0.9v0.9h-0.9zM299.4 159.2h0.9v0.9h-0.9zM311.4 156.8h0.9v0.9h-0.9zM294.7 162.5h0.9v0.9h-0.9zM296.0 156.3h0.9v0.9h-0.9zM305.0 158.6h0.9v0.9h-0.9zM297.1 164.0h0.9v0.9h-0.9zM304.2 165.2h0.9v0.9h-0.9zM301.9 158.9h0.9v0.9h-0.9zM309.9 160.3h0.9v0.9h-0.9zM304.1 157.4h0.9v0.9h-0.9zM298.8 160.6h0.9v0.9h-0.9zM297.8 159.4h0.9v0.9h-0.9zM313.6 158.1h0.9v0.9h-0.9zM297.4 160.2h0.9v0.9h-0.9zM303.5 158.5h0.9v0.9h-0.9zM306.6 160.0h0.9v0.9h-0.9zM303.4 158.1h0.9v0.9h-0.9zM301.2 157.6h0.9v0.9h-0.9zM300.9 163.5h0.9v0.9h-0.9zM299.8 162.0h0.9v0.9h-0.9zM310.3 160.2h0.9v0.9h-0.9zM295.1 162.0h0.9v0.9h-0.9zM299.7 163.2h0.9v0.9h-0.9zM309.6 155.9h0.9v0.9h-0.9zM299.7 161.5h0.9v0.9h-0.9zM294.7 155.2h0.9v0.9h-0.9zM298.0 159.3h0.9v0.9h-0.9zM308.0 156.9h0.9v0.9h-0.9zM293.7 164.9h0.9v0.9h-0.9zM306.7 156.5h0.9v0.9h-0.9zM308.1 158.9h0.9v0.9h-0.9zM306.4 156.9h0.9v0.9h-0.9zM300.5 157.0h0.9v0.9h-0.9zM290.2 165.3h0.9v0.9h-0.9zM300.2 161.0h0.9v0.9h-0.9zM301.6 159.3h0.9v0.9h-0.9zM299.9 161.6h0.9v0.9h-0.9zM301.5 157.6h0.9v0.9h-0.9zM309.7 160.0h0.9v0.9h-0.9zM307.6 160.8h0.9v0.9h-0.9zM304.1 159.5h0.9v0.9h-0.9zM309.8 158.5h0.9v0.9h-0.9zM295.9 161.8h0.9v0.9h-0.9zM303.5 163.3h0.9v0.9h-0.9zM303.3 158.4h0.9v0.9h-0.9zM296.5 161.6h0.9v0.9h-0.9zM299.1 160.8h0.9v0.9h-0.9zM296.9 159.0h0.9v0.9h-0.9zM301.2 160.9h0.9v0.9h-0.9zM303.6 157.0h0.9v0.9h-0.9zM301.1 161.7h0.9v0.9h-0.9zM304.6 158.2h0.9v0.9h-0.9zM300.1 159.9h0.9v0.9h-0.9zM304.1 158.8h0.9v0.9h-0.9zM305.6 159.2h0.9v0.9h-0.9zM303.8 160.8h0.9v0.9h-0.9zM307.9 157.5h0.9v0.9h-0.9zM301.1 161.9h0.9v0.9h-0.9zM301.1 158.3h0.9v0.9h-0.9zM299.4 159.1h0.9v0.9h-0.9zM302.7 160.0h0.9v0.9h-0.9zM310.8 158.0h0.9v0.9h-0.9zM306.5 161.2h0.9v0.9h-0.9zM307.4 156.9h0.9v0.9h-0.9zM302.4 158.8h0.9v0.9h-0.9zM301.7 162.2h0.9v0.9h-0.9zM290.5 155.7h0.9v0.9h-0.9zM298.6 161.6h0.9v0.9h-0.9zM312.2 155.5h0.9v0.9h-0.9zM305.4 160.4h0.9v0.9h-0.9zM308.6 162.0h0.9v0.9h-0.9zM303.0 160.2h0.9v0.9h-0.9zM296.8 161.0h0.9v0.9h-0.9zM297.4 161.7h0.9v0.9h-0.9zM305.6 160.1h0.9v0.9h-0.9zM307.6 157.5h0.9v0.9h-0.9zM296.9 160.0h0.9v0.9h-0.9zM301.2 159.6h0.9v0.9h-0.9zM295.9 162.7h0.9v0.9h-0.9zM296.4 161.7h0.9v0.9h-0.9zM299.4 161.5h0.9v0.9h-0.9zM305.9 157.3h0.9v0.9h-0.9zM305.4 162.4h0.9v0.9h-0.9zM305.7 157.1h0.9v0.9h-0.9zM306.4 154.0h0.9v0.9h-0.9zM296.6 163.1h0.9v0.9h-0.9zM302.1 161.0h0.9v0.9h-0.9zM304.3 156.9h0.9v0.9h-0.9zM293.4 161.4h0.9v0.9h-0.9zM308.2 158.7h0.9v0.9h-0.9zM310.2 159.6h0.9v0.9h-0.9zM313.2 154.9h0.9v0.9h-0.9zM296.1 160.1h0.9v0.9h-0.9zM311.0 156.5h0.9v0.9h-0.9zM304.8 162.5h0.9v0.9h-0.9zM300.7 159.5h0.9v0.9h-0.9zM297.4 163.2h0.9v0.9h-0.9zM309.2 158.0h0.9v0.9h-0.9zM300.8 160.3h0.9v0.9h-0.9zM305.3 160.9h0.9v0.9h-0.9zM297.1 160.4h0.9v0.9h-0.9zM308.3 159.5h0.9v0.9h-0.9zM303.3 159.5h0.9v0.9h-0.9zM309.0 158.1h0.9v0.9h-0.9zM292.8 161.3h0.9v0.9h-0.9zM307.3 158.2h0.9v0.9h-0.9zM305.5 156.1h0.9v0.9h-0.9zM309.8 158.0h0.9v0.9h-0.9zM301.8 160.3h0.9v0.9h-0.9zM301.1 160.0h0.9v0.9h-0.9zM291.9 162.4h0.9v0.9h-0.9zM301.7 158.7h0.9v0.9h-0.9zM305.9 161.4h0.9v0.9h-0.9zM302.8 161.2h0.9v0.9h-0.9zM299.2 158.0h0.9v0.9h-0.9zM312.3 155.6h0.9v0.9h-0.9zM307.8 160.0h0.9v0.9h-0.9zM313.0 155.7h0.9v0.9h-0.9zM309.6 156.1h0.9v0.9h-0.9zM294.5 159.8h0.9v0.9h-0.9zM304.4 156.9h0.9v0.9h-0.9zM303.8 156.6h0.9v0.9h-0.9zM305.3 160.7h0.9v0.9h-0.9zM300.5 158.9h0.9v0.9h-0.9zM298.2 162.4h0.9v0.9h-0.9zM303.6 160.3h0.9v0.9h-0.9zM295.1 163.8h0.9v0.9h-0.9zM310.7 158.0h0.9v0.9h-0.9zM296.0 163.2h0.9v0.9h-0.9zM309.6 158.1h0.9v0.9h-0.9zM307.9 156.6h0.9v0.9h-0.9zM299.0 159.9h0.9v0.9h-0.9zM311.3 154.2h0.9v0.9h-0.9zM300.6 157.5h0.9v0.9h-0.9zM312.9 157.9h0.9v0.9h-0.9zM298.2 162.6h0.9v0.9h-0.9zM307.3 158.0h0.9v0.9h-0.9zM305.0 158.8h0.9v0.9h-0.9zM301.8 157.2h0.9v0.9h-0.9zM297.4 162.8h0.9v0.9h-0.9zM304.0 163.2h0.9v0.9h-0.9zM310.8 158.1h0.9v0.9h-0.9zM291.2 162.5h0.9v0.9h-0.9zM304.1 162.8h0.9v0.9h-0.9zM305.7 156.4h0.9v0.9h-0.9zM308.2 159.9h0.9v0.9h-0.9zM310.5 159.9h0.9v0.9h-0.9zM297.7 161.4h0.9v0.9h-0.9zM306.0 160.4h0.9v0.9h-0.9zM299.4 162.7h0.9v0.9h-0.9zM308.2 154.3h0.9v0.9h-0.9zM307.0 159.0h0.9v0.9h-0.9zM299.4 160.2h0.9v0.9h-0.9zM305.9 161.8h0.9v0.9h-0.9zM306.3 156.1h0.9v0.9h-0.9zM300.4 160.7h0.9v0.9h-0.9zM299.8 164.6h0.9v0.9h-0.9zM300.1 158.6h0.9v0.9h-0.9zM304.9 157.3h0.9v0.9h-0.9zM296.0 162.1h0.9v0.9h-0.9zM307.7 157.3h0.9v0.9h-0.9zM300.5 161.8h0.9v0.9h-0.9zM305.5 159.1h0.9v0.9h-0.9zM309.3 159.1h0.9v0.9h-0.9zM296.5 159.9h0.9v0.9h-0.9zM313.5 155.0h0.9v0.9h-0.9zM291.1 162.9h0.9v0.9h-0.9zM303.2 161.1h0.9v0.9h-0.9zM307.2 156.1h0.9v0.9h-0.9zM298.5 162.1h0.9v0.9h-0.9zM311.4 156.6h0.9v0.9h-0.9zM297.3 160.8h0.9v0.9h-0.9zM293.9 160.7h0.9v0.9h-0.9zM303.7 158.2h0.9v0.9h-0.9zM295.3 163.6h0.9v0.9h-0.9zM306.9 159.3h0.9v0.9h-0.9zM291.1 163.4h0.9v0.9h-0.9zM297.6 163.3h0.9v0.9h-0.9zM304.0 166.3h0.9v0.9h-0.9zM308.3 157.2h0.9v0.9h-0.9zM309.9 157.0h0.9v0.9h-0.9zM298.9 160.2h0.9v0.9h-0.9zM311.4 155.7h0.9v0.9h-0.9zM304.6 160.7h0.9v0.9h-0.9zM296.2 162.0h0.9v0.9h-0.9zM301.3 162.9h0.9v0.9h-0.9zM299.2 161.8h0.9v0.9h-0.9zM295.8 159.6h0.9v0.9h-0.9zM306.4 160.0h0.9v0.9h-0.9zM307.1 153.7h0.9v0.9h-0.9zM312.4 157.5h0.9v0.9h-0.9zM305.2 162.9h0.9v0.9h-0.9zM308.3 158.4h0.9v0.9h-0.9zM296.6 161.6h0.9v0.9h-0.9zM308.6 154.5h0.9v0.9h-0.9zM305.1 158.3h0.9v0.9h-0.9zM298.8 162.9h0.9v0.9h-0.9zM302.0 157.5h0.9v0.9h-0.9zM297.5 162.4h0.9v0.9h-0.9zM306.9 155.4h0.9v0.9h-0.9zM297.6 162.0h0.9v0.9h-0.9zM311.1 158.2h0.9v0.9h-0.9zM298.9 162.4h0.9v0.9h-0.9zM297.4 162.0h0.9v0.9h-0.9zM302.2 162.0h0.9v0.9h-0.9zM311.0 159.9h0.9v0.9h-0.9zM304.5 159.3h0.9v0.9h-0.9zM305.4 163.1h0.9v0.9h-0.9zM304.1 160.1h0.9v0.9h-0.9zM303.4 157.9h0.9v0.9h-0.9zM308.5 159.2h0.9v0.9h-0.9zM304.2 158.5h0.9v0.9h-0.9zM300.9 159.8h0.9v0.9h-0.9zM293.8 162.0h0.9v0.9h-0.9zM309.7 158.6h0.9v0.9h-0.9zM301.1 161.8h0.9v0.9h-0.9zM301.6 159.3h0.9v0.9h-0.9zM303.5 160.3h0.9v0.9h-0.9z"/>
<path fill="#3ee03a" d="M317.8 149.9h0.9v0.9h-0.9zM323.3 142.6h0.9v0.9h-0.9zM324.2 147.6h0.9v0.9h-0.9zM324.3 147.7h0.9v0.9h-0.9zM326.4 141.6h0.9v0.9h-0.9zM322.9 149.9h0.9v0.9h-0.9zM323.6 148.7h0.9v0.9h-0.9zM310.4 154.0h0.9v0.9h-0.9zM316.8 148.0h0.9v0.9h-0.9zM316.7 147.3h0.9v0.9h-0.9zM320.4 148.3h0.9v0.9h-0.9zM311.4 149.8h0.9v0.9h-0.9zM312.6 145.0h0.9v0.9h-0.9zM318.1 152.4h0.9v0.9h-0.9zM323.5 144.1h0.9v0.9h-0.9zM316.1 145.7h0.9v0.9h-0.9zM320.8 151.8h0.9v0.9h-0.9zM320.1 151.0h0.9v0.9h-0.9zM321.7 154.0h0.9v0.9h-0.9zM317.0 142.5h0.9v0.9h-0.9zM323.5 145.0h0.9v0.9h-0.9zM322.3 142.0h0.9v0.9h-0.9zM313.1 147.3h0.9v0.9h-0.9zM324.6 149.4h0.9v0.9h-0.9zM316.1 150.2h0.9v0.9h-0.9zM316.4 149.3h0.9v0.9h-0.9zM313.9 149.9h0.9v0.9h-0.9zM316.0 149.2h0.9v0.9h-0.9zM316.4 145.6h0.9v0.9h-0.9zM320.6 146.3h0.9v0.9h-0.9zM320.1 146.1h0.9v0.9h-0.9zM323.4 143.2h0.9v0.9h-0.9zM324.2 152.4h0.9v0.9h-0.9zM318.5 156.2h0.9v0.9h-0.9zM325.7 146.0h0.9v0.9h-0.9zM311.1 150.3h0.9v0.9h-0.9zM322.2 147.1h0.9v0.9h-0.9zM318.6 145.2h0.9v0.9h-0.9zM322.0 142.4h0.9v0.9h-0.9zM318.9 150.6h0.9v0.9h-0.9zM320.2 150.2h0.9v0.9h-0.9zM317.5 151.5h0.9v0.9h-0.9zM322.2 140.0h0.9v0.9h-0.9zM314.3 146.8h0.9v0.9h-0.9zM323.6 148.1h0.9v0.9h-0.9zM321.6 148.2h0.9v0.9h-0.9zM323.5 150.9h0.9v0.9h-0.9zM316.9 142.1h0.9v0.9h-0.9zM323.7 145.8h0.9v0.9h-0.9zM320.3 147.1h0.9v0.9h-0.9zM313.9 143.5h0.9v0.9h-0.9zM325.3 151.0h0.9v0.9h-0.9zM325.1 147.1h0.9v0.9h-0.9zM321.5 145.6h0.9v0.9h-0.9zM320.4 146.1h0.9v0.9h-0.9zM317.0 149.9h0.9v0.9h-0.9zM324.7 136.4h0.9v0.9h-0.9zM323.7 141.4h0.9v0.9h-0.9zM321.7 147.8h0.9v0.9h-0.9zM317.4 146.7h0.9v0.9h-0.9zM312.3 158.2h0.9v0.9h-0.9zM326.5 150.5h0.9v0.9h-0.9zM321.6 149.1h0.9v0.9h-0.9zM315.5 148.4h0.9v0.9h-0.9zM322.9 145.1h0.9v0.9h-0.9zM310.3 145.8h0.9v0.9h-0.9zM321.4 146.0h0.9v0.9h-0.9zM318.4 154.5h0.9v0.9h-0.9zM320.5 144.7h0.9v0.9h-0.9zM319.6 157.6h0.9v0.9h-0.9zM313.8 158.0h0.9v0.9h-0.9zM327.9 144.5h0.9v0.9h-0.9zM318.2 154.9h0.9v0.9h-0.9zM321.3 145.2h0.9v0.9h-0.9zM317.3 145.3h0.9v0.9h-0.9zM320.2 146.6h0.9v0.9h-0.9zM320.7 146.1h0.9v0.9h-0.9zM322.8 151.7h0.9v0.9h-0.9zM326.0 151.2h0.9v0.9h-0.9zM328.2 148.5h0.9v0.9h-0.9zM316.7 153.4h0.9v0.9h-0.9zM310.9 148.0h0.9v0.9h-0.9zM321.6 140.0h0.9v0.9h-0.9zM328.1 140.7h0.9v0.9h-0.9zM311.8 147.5h0.9v0.9h-0.9zM315.8 149.4h0.9v0.9h-0.9zM319.1 152.8h0.9v0.9h-0.9zM319.1 149.1h0.9v0.9h-0.9zM314.6 152.1h0.9v0.9h-0.9zM315.7 140.9h0.9v0.9h-0.9zM327.2 140.8h0.9v0.9h-0.9zM314.0 146.2h0.9v0.9h-0.9zM323.6 140.0h0.9v0.9h-0.9zM317.8 151.3h0.9v0.9h-0.9zM314.6 143.1h0.9v0.9h-0.9zM315.2 158.4h0.9v0.9h-0.9zM319.2 148.0h0.9v0.9h-0.9zM320.8 143.7h0.9v0.9h-0.9zM319.9 142.5h0.9v0.9h-0.9zM328.2 144.5h0.9v0.9h-0.9zM319.1 153.5h0.9v0.9h-0.9zM313.3 156.5h0.9v0.9h-0.9zM328.4 141.7h0.9v0.9h-0.9zM323.8 146.2h0.9v0.9h-0.9zM324.9 146.5h0.9v0.9h-0.9zM315.0 152.5h0.9v0.9h-0.9zM318.8 149.2h0.9v0.9h-0.9zM325.4 151.5h0.9v0.9h-0.9zM323.5 140.5h0.9v0.9h-0.9zM323.8 145.3h0.9v0.9h-0.9zM325.9 145.1h0.9v0.9h-0.9zM327.8 147.5h0.9v0.9h-0.9zM320.0 149.3h0.9v0.9h-0.9zM310.3 153.9h0.9v0.9h-0.9zM320.6 143.0h0.9v0.9h-0.9zM322.2 148.6h0.9v0.9h-0.9zM322.0 146.8h0.9v0.9h-0.9zM324.3 150.0h0.9v0.9h-0.9zM320.5 147.6h0.9v0.9h-0.9zM317.5 146.3h0.9v0.9h-0.9zM323.4 144.4h0.9v0.9h-0.9zM312.2 151.8h0.9v0.9h-0.9zM326.1 144.7h0.9v0.9h-0.9zM324.8 148.4h0.9v0.9h-0.9zM314.5 151.4h0.9v0.9h-0.9zM319.4 151.2h0.9v0.9h-0.9zM320.1 157.0h0.9v0.9h-0.9zM314.9 154.5h0.9v0.9h-0.9zM319.2 149.1h0.9v0.9h-0.9zM324.8 152.3h0.9v0.9h-0.9zM321.0 150.7h0.9v0.9h-0.9zM322.5 144.0h0.9v0.9h-0.9zM314.5 148.3h0.9v0.9h-0.9zM326.0 148.4h0.9v0.9h-0.9zM317.0 153.5h0.9v0.9h-0.9zM320.4 150.6h0.9v0.9h-0.9zM325.3 150.4h0.9v0.9h-0.9zM326.7 145.3h0.9v0.9h-0.9zM316.1 146.7h0.9v0.9h-0.9zM323.8 148.7h0.9v0.9h-0.9zM315.4 147.0h0.9v0.9h-0.9zM317.8 155.8h0.9v0.9h-0.9zM315.1 151.5h0.9v0.9h-0.9zM311.3 150.2h0.9v0.9h-0.9zM327.8 139.9h0.9v0.9h-0.9zM326.5 137.6h0.9v0.9h-0.9zM320.5 143.1h0.9v0.9h-0.9zM320.1 147.1h0.9v0.9h-0.9zM324.7 147.7h0.9v0.9h-0.9zM321.1 145.4h0.9v0.9h-0.9zM322.7 143.7h0.9v0.9h-0.9zM316.7 146.6h0.9v0.9h-0.9zM323.3 156.9h0.9v0.9h-0.9zM319.9 156.7h0.9v0.9h-0.9zM314.6 147.4h0.9v0.9h-0.9zM323.1 149.8h0.9v0.9h-0.9zM324.4 153.6h0.9v0.9h-0.9zM319.1 153.3h0.9v0.9h-0.9zM321.6 135.2h0.9v0.9h-0.9zM314.8 147.7h0.9v0.9h-0.9zM320.9 150.2h0.9v0.9h-0.9zM318.7 154.4h0.9v0.9h-0.9zM314.9 149.9h0.9v0.9h-0.9zM325.3 141.4h0.9v0.9h-0.9zM327.2 149.9h0.9v0.9h-0.9zM319.4 148.4h0.9v0.9h-0.9zM319.8 148.4h0.9v0.9h-0.9zM327.1 148.0h0.9v0.9h-0.9zM312.7 144.0h0.9v0.9h-0.9zM323.6 135.4h0.9v0.9h-0.9zM311.6 148.4h0.9v0.9h-0.9zM320.1 154.1h0.9v0.9h-0.9zM321.2 163.2h0.9v0.9h-0.9zM321.4 151.4h0.9v0.9h-0.9zM325.8 145.7h0.9v0.9h-0.9zM325.4 148.9h0.9v0.9h-0.9zM321.5 144.8h0.9v0.9h-0.9zM317.8 152.4h0.9v0.9h-0.9zM320.0 149.9h0.9v0.9h-0.9zM322.4 148.5h0.9v0.9h-0.9zM320.3 150.6h0.9v0.9h-0.9zM324.7 152.5h0.9v0.9h-0.9zM322.9 144.6h0.9v0.9h-0.9zM316.5 152.2h0.9v0.9h-0.9zM311.8 148.7h0.9v0.9h-0.9zM325.9 144.6h0.9v0.9h-0.9zM316.6 154.7h0.9v0.9h-0.9zM315.1 152.8h0.9v0.9h-0.9zM317.5 153.0h0.9v0.9h-0.9zM328.4 150.2h0.9v0.9h-0.9zM323.6 148.3h0.9v0.9h-0.9zM318.8 148.6h0.9v0.9h-0.9zM311.3 148.9h0.9v0.9h-0.9zM323.5 146.4h0.9v0.9h-0.9zM324.7 139.7h0.9v0.9h-0.9zM317.1 144.8h0.9v0.9h-0.9zM326.0 144.9h0.9v0.9h-0.9zM318.6 143.3h0.9v0.9h-0.9zM317.4 144.6h0.9v0.9h-0.9zM317.1 158.7h0.9v0.9h-0.9zM313.9 149.1h0.9v0.9h-0.9zM315.3 155.5h0.9v0.9h-0.9zM314.8 146.1h0.9v0.9h-0.9zM322.2 154.6h0.9v0.9h-0.9zM321.4 145.1h0.9v0.9h-0.9zM319.0 137.1h0.9v0.9h-0.9zM320.3 153.2h0.9v0.9h-0.9zM322.7 146.0h0.9v0.9h-0.9zM327.1 153.2h0.9v0.9h-0.9zM316.5 153.4h0.9v0.9h-0.9zM326.7 142.4h0.9v0.9h-0.9zM323.2 146.8h0.9v0.9h-0.9zM326.5 150.6h0.9v0.9h-0.9zM321.2 151.1h0.9v0.9h-0.9zM322.9 142.5h0.9v0.9h-0.9zM317.5 144.3h0.9v0.9h-0.9zM321.9 141.7h0.9v0.9h-0.9zM326.8 149.4h0.9v0.9h-0.9zM311.6 149.5h0.9v0.9h-0.9zM325.2 148.8h0.9v0.9h-0.9zM309.5 154.2h0.9v0.9h-0.9zM315.9 139.1h0.9v0.9h-0.9zM320.7 145.0h0.9v0.9h-0.9zM321.9 149.4h0.9v0.9h-0.9zM321.3 154.2h0.9v0.9h-0.9zM314.1 154.2h0.9v0.9h-0.9zM314.8 152.0h0.9v0.9h-0.9zM323.8 144.7h0.9v0.9h-0.9zM325.0 135.3h0.9v0.9h-0.9zM317.6 145.0h0.9v0.9h-0.9zM326.4 143.3h0.9v0.9h-0.9zM327.5 143.6h0.9v0.9h-0.9zM324.6 150.0h0.9v0.9h-0.9zM320.8 151.0h0.9v0.9h-0.9zM322.1 156.7h0.9v0.9h-0.9zM322.7 142.0h0.9v0.9h-0.9zM326.5 148.4h0.9v0.9h-0.9zM320.9 155.9h0.9v0.9h-0.9zM317.2 155.0h0.9v0.9h-0.9zM323.1 143.9h0.9v0.9h-0.9zM318.9 149.1h0.9v0.9h-0.9zM314.5 140.7h0.9v0.9h-0.9zM328.4 149.9h0.9v0.9h-0.9zM319.5 147.1h0.9v0.9h-0.9zM310.4 144.0h0.9v0.9h-0.9zM315.3 153.5h0.9v0.9h-0.9zM324.7 152.2h0.9v0.9h-0.9zM325.2 149.7h0.9v0.9h-0.9zM321.1 144.2h0.9v0.9h-0.9zM326.9 144.1h0.9v0.9h-0.9zM310.2 153.6h0.9v0.9h-0.9zM320.7 158.6h0.9v0.9h-0.9zM318.7 150.1h0.9v0.9h-0.9zM313.8 153.3h0.9v0.9h-0.9zM321.6 144.0h0.9v0.9h-0.9zM321.5 142.0h0.9v0.9h-0.9zM323.3 144.9h0.9v0.9h-0.9zM322.1 143.3h0.9v0.9h-0.9zM315.8 148.8h0.9v0.9h-0.9zM324.7 147.0h0.9v0.9h-0.9zM309.6 155.6h0.9v0.9h-0.9zM323.5 151.9h0.9v0.9h-0.9zM324.6 143.2h0.9v0.9h-0.9zM318.0 150.9h0.9v0.9h-0.9zM325.6 142.7h0.9v0.9h-0.9zM316.5 144.9h0.9v0.9h-0.9zM322.3 144.0h0.9v0.9h-0.9zM311.3 147.2h0.9v0.9h-0.9zM323.4 144.2h0.9v0.9h-0.9zM326.7 159.4h0.9v0.9h-0.9zM309.6 164.2h0.9v0.9h-0.9zM324.2 153.6h0.9v0.9h-0.9zM318.7 140.7h0.9v0.9h-0.9zM315.7 153.0h0.9v0.9h-0.9zM321.1 149.8h0.9v0.9h-0.9zM326.0 146.3h0.9v0.9h-0.9zM323.2 151.8h0.9v0.9h-0.9zM324.9 144.6h0.9v0.9h-0.9zM322.1 149.8h0.9v0.9h-0.9zM317.9 145.5h0.9v0.9h-0.9zM316.2 145.7h0.9v0.9h-0.9zM319.6 148.0h0.9v0.9h-0.9zM323.3 149.5h0.9v0.9h-0.9zM319.3 138.8h0.9v0.9h-0.9zM323.1 143.0h0.9v0.9h-0.9zM311.6 143.3h0.9v0.9h-0.9zM323.6 154.2h0.9v0.9h-0.9zM321.2 149.9h0.9v0.9h-0.9zM317.8 146.8h0.9v0.9h-0.9zM317.5 152.3h0.9v0.9h-0.9zM313.9 154.7h0.9v0.9h-0.9zM318.7 151.3h0.9v0.9h-0.9zM314.7 150.2h0.9v0.9h-0.9zM310.7 148.5h0.9v0.9h-0.9zM319.0 143.9h0.9v0.9h-0.9zM318.8 149.0h0.9v0.9h-0.9zM320.8 138.7h0.9v0.9h-0.9zM318.3 147.6h0.9v0.9h-0.9zM315.3 145.4h0.9v0.9h-0.9zM323.4 148.0h0.9v0.9h-0.9zM326.6 141.6h0.9v0.9h-0.9zM318.6 140.7h0.9v0.9h-0.9zM321.0 139.2h0.9v0.9h-0.9zM316.0 152.7h0.9v0.9h-0.9zM323.0 142.6h0.9v0.9h-0.9zM315.1 155.5h0.9v0.9h-0.9zM322.5 144.9h0.9v0.9h-0.9zM320.8 148.3h0.9v0.9h-0.9zM314.1 147.6h0.9v0.9h-0.9zM316.7 153.1h0.9v0.9h-0.9zM325.7 150.5h0.9v0.9h-0.9zM317.5 155.9h0.9v0.9h-0.9zM316.0 153.5h0.9v0.9h-0.9zM317.1 146.3h0.9v0.9h-0.9zM313.2 150.1h0.9v0.9h-0.9zM328.2 144.3h0.9v0.9h-0.9zM318.1 150.9h0.9v0.9h-0.9zM323.4 148.9h0.9v0.9h-0.9zM327.6 145.3h0.9v0.9h-0.9zM322.3 154.0h0.9v0.9h-0.9zM323.5 143.5h0.9v0.9h-0.9zM327.0 148.4h0.9v0.9h-0.9zM315.6 146.1h0.9v0.9h-0.9zM317.9 152.4h0.9v0.9h-0.9zM321.9 151.7h0.9v0.9h-0.9zM312.0 150.9h0.9v0.9h-0.9zM316.4 155.4h0.9v0.9h-0.9zM316.2 146.0h0.9v0.9h-0.9zM319.4 149.5h0.9v0.9h-0.9zM318.7 149.7h0.9v0.9h-0.9zM319.1 151.6h0.9v0.9h-0.9zM324.0 148.2h0.9v0.9h-0.9zM318.8 159.5h0.9v0.9h-0.9zM325.5 148.9h0.9v0.9h-0.9zM321.8 149.5h0.9v0.9h-0.9zM315.6 145.1h0.9v0.9h-0.9zM321.4 140.6h0.9v0.9h-0.9zM323.4 145.2h0.9v0.9h-0.9zM324.0 147.2h0.9v0.9h-0.9zM315.5 146.5h0.9v0.9h-0.9zM317.8 154.6h0.9v0.9h-0.9zM327.7 144.6h0.9v0.9h-0.9zM320.8 144.3h0.9v0.9h-0.9zM327.9 146.4h0.9v0.9h-0.9zM316.5 143.5h0.9v0.9h-0.9zM322.9 155.3h0.9v0.9h-0.9zM320.6 143.9h0.9v0.9h-0.9zM315.3 147.2h0.9v0.9h-0.9zM322.7 156.4h0.9v0.9h-0.9zM310.0 138.6h0.9v0.9h-0.9zM321.9 148.3h0.9v0.9h-0.9zM327.8 149.6h0.9v0.9h-0.9zM317.8 141.2h0.9v0.9h-0.9zM321.1 145.1h0.9v0.9h-0.9zM320.5 140.8h0.9v0.9h-0.9zM318.4 147.6h0.9v0.9h-0.9zM312.9 142.8h0.9v0.9h-0.9zM311.0 152.6h0.9v0.9h-0.9zM319.8 136.7h0.9v0.9h-0.9zM319.7 140.7h0.9v0.9h-0.9zM321.3 155.1h0.9v0.9h-0.9zM321.9 135.9h0.9v0.9h-0.9zM325.7 147.4h0.9v0.9h-0.9zM317.7 146.6h0.9v0.9h-0.9zM310.1 157.7h0.9v0.9h-0.9zM313.2 141.5h0.9v0.9h-0.9zM322.8 150.2h0.9v0.9h-0.9zM327.9 150.3h0.9v0.9h-0.9zM322.0 148.7h0.9v0.9h-0.9zM324.7 147.9h0.9v0.9h-0.9zM322.5 138.2h0.9v0.9h-0.9zM319.4 146.6h0.9v0.9h-0.9zM322.8 143.5h0.9v0.9h-0.9zM325.1 149.5h0.9v0.9h-0.9zM313.8 150.3h0.9v0.9h-0.9zM323.0 142.2h0.9v0.9h-0.9zM326.4 151.5h0.9v0.9h-0.9zM320.1 152.7h0.9v0.9h-0.9zM321.6 154.5h0.9v0.9h-0.9zM316.9 156.4h0.9v0.9h-0.9zM318.4 150.8h0.9v0.9h-0.9zM309.7 148.2h0.9v0.9h-0.9zM326.5 146.0h0.9v0.9h-0.9zM320.1 142.7h0.9v0.9h-0.9zM324.4 142.1h0.9v0.9h-0.9zM328.1 147.9h0.9v0.9h-0.9zM316.9 145.5h0.9v0.9h-0.9zM317.1 150.7h0.9v0.9h-0.9zM321.4 140.4h0.9v0.9h-0.9zM321.9 142.6h0.9v0.9h-0.9zM322.4 136.1h0.9v0.9h-0.9zM313.4 152.0h0.9v0.9h-0.9zM326.5 147.8h0.9v0.9h-0.9zM313.5 143.5h0.9v0.9h-0.9zM328.1 141.6h0.9v0.9h-0.9zM324.3 151.8h0.9v0.9h-0.9zM310.9 159.9h0.9v0.9h-0.9zM319.3 147.4h0.9v0.9h-0.9zM314.6 150.9h0.9v0.9h-0.9zM322.7 151.7h0.9v0.9h-0.9zM325.7 150.5h0.9v0.9h-0.9zM319.4 147.8h0.9v0.9h-0.9zM320.7 148.6h0.9v0.9h-0.9zM327.0 149.6h0.9v0.9h-0.9zM319.1 144.3h0.9v0.9h-0.9zM314.3 150.7h0.9v0.9h-0.9zM309.7 150.0h0.9v0.9h-0.9zM321.4 148.5h0.9v0.9h-0.9zM312.2 147.8h0.9v0.9h-0.9zM312.0 154.6h0.9v0.9h-0.9zM321.5 158.9h0.9v0.9h-0.9zM316.7 155.9h0.9v0.9h-0.9zM320.2 148.3h0.9v0.9h-0.9zM325.8 137.4h0.9v0.9h-0.9zM313.4 157.0h0.9v0.9h-0.9zM325.5 154.3h0.9v0.9h-0.9zM323.1 144.8h0.9v0.9h-0.9zM324.7 144.4h0.9v0.9h-0.9zM319.6 147.6h0.9v0.9h-0.9zM315.2 159.0h0.9v0.9h-0.9zM324.0 147.2h0.9v0.9h-0.9zM322.2 144.7h0.9v0.9h-0.9zM318.0 149.3h0.9v0.9h-0.9zM321.8 137.8h0.9v0.9h-0.9zM327.3 136.4h0.9v0.9h-0.9zM314.7 143.7h0.9v0.9h-0.9zM320.6 140.0h0.9v0.9h-0.9zM325.4 149.1h0.9v0.9h-0.9zM325.1 149.7h0.9v0.9h-0.9zM318.2 149.7h0.9v0.9h-0.9zM314.7 147.9h0.9v0.9h-0.9zM322.4 141.6h0.9v0.9h-0.9zM318.3 146.4h0.9v0.9h-0.9zM324.9 148.6h0.9v0.9h-0.9zM317.6 152.4h0.9v0.9h-0.9zM312.0 149.1h0.9v0.9h-0.9zM320.7 143.5h0.9v0.9h-0.9zM317.0 150.3h0.9v0.9h-0.9zM322.1 141.0h0.9v0.9h-0.9zM313.1 145.0h0.9v0.9h-0.9zM313.6 147.4h0.9v0.9h-0.9zM319.1 143.1h0.9v0.9h-0.9zM316.1 140.6h0.9v0.9h-0.9zM318.6 149.4h0.9v0.9h-0.9zM316.8 142.1h0.9v0.9h-0.9zM313.1 139.7h0.9v0.9h-0.9zM316.9 148.8h0.9v0.9h-0.9zM319.3 148.7h0.9v0.9h-0.9zM320.0 144.5h0.9v0.9h-0.9zM314.7 148.8h0.9v0.9h-0.9zM316.1 146.5h0.9v0.9h-0.9zM321.9 148.1h0.9v0.9h-0.9zM317.1 153.5h0.9v0.9h-0.9zM319.3 146.9h0.9v0.9h-0.9zM324.2 147.3h0.9v0.9h-0.9zM310.9 152.9h0.9v0.9h-0.9zM310.8 149.5h0.9v0.9h-0.9zM321.2 150.1h0.9v0.9h-0.9zM314.7 148.0h0.9v0.9h-0.9zM323.9 155.2h0.9v0.9h-0.9zM313.4 147.8h0.9v0.9h-0.9zM316.7 147.9h0.9v0.9h-0.9zM324.2 149.9h0.9v0.9h-0.9zM311.3 156.0h0.9v0.9h-0.9zM315.0 149.0h0.9v0.9h-0.9zM313.4 148.5h0.9v0.9h-0.9zM325.6 140.2h0.9v0.9h-0.9zM316.3 149.1h0.9v0.9h-0.9zM323.0 154.3h0.9v0.9h-0.9zM320.5 152.3h0.9v0.9h-0.9zM311.3 148.6h0.9v0.9h-0.9zM319.0 157.6h0.9v0.9h-0.9zM311.4 140.2h0.9v0.9h-0.9zM314.0 145.1h0.9v0.9h-0.9zM314.2 146.7h0.9v0.9h-0.9zM318.1 140.9h0.9v0.9h-0.9zM320.2 150.2h0.9v0.9h-0.9zM309.8 144.6h0.9v0.9h-0.9zM313.4 146.1h0.9v0.9h-0.9zM323.4 147.8h0.9v0.9h-0.9zM327.6 146.2h0.9v0.9h-0.9zM310.4 152.8h0.9v0.9h-0.9zM310.5 151.8h0.9v0.9h-0.9zM324.5 142.4h0.9v0.9h-0.9zM315.6 145.6h0.9v0.9h-0.9zM326.9 148.2h0.9v0.9h-0.9zM322.4 150.6h0.9v0.9h-0.9zM319.6 145.1h0.9v0.9h-0.9zM321.5 151.3h0.9v0.9h-0.9zM318.9 147.2h0.9v0.9h-0.9zM314.5 155.9h0.9v0.9h-0.9zM324.0 147.4h0.9v0.9h-0.9zM320.9 149.2h0.9v0.9h-0.9zM320.3 152.1h0.9v0.9h-0.9zM321.0 151.0h0.9v0.9h-0.9zM320.3 145.3h0.9v0.9h-0.9zM326.3 150.9h0.9v0.9h-0.9zM328.5 143.2h0.9v0.9h-0.9zM316.5 141.0h0.9v0.9h-0.9zM320.3 144.3h0.9v0.9h-0.9zM326.6 140.6h0.9v0.9h-0.9zM325.3 140.7h0.9v0.9h-0.9zM319.4 153.8h0.9v0.9h-0.9zM317.4 150.6h0.9v0.9h-0.9zM323.9 140.7h0.9v0.9h-0.9zM319.2 137.7h0.9v0.9h-0.9zM321.1 149.4h0.9v0.9h-0.9zM325.5 151.3h0.9v0.9h-0.9zM312.6 149.8h0.9v0.9h-0.9zM323.0 153.2h0.9v0.9h-0.9zM321.9 139.8h0.9v0.9h-0.9zM313.8 152.4h0.9v0.9h-0.9zM324.0 145.2h0.9v0.9h-0.9zM317.5 146.4h0.9v0.9h-0.9zM316.8 146.5h0.9v0.9h-0.9zM318.7 146.2h0.9v0.9h-0.9zM317.6 144.3h0.9v0.9h-0.9zM320.9 157.1h0.9v0.9h-0.9zM326.8 146.2h0.9v0.9h-0.9zM322.2 146.7h0.9v0.9h-0.9z"/>
<path fill="#1f24e0" d="M335.9 146.2h0.9v0.9h-0.9zM332.9 147.2h0.9v0.9h-0.9zM330.9 136.3h0.9v0.9h-0.9zM335.8 143.6h0.9v0.9h-0.9zM329.6 142.7h0.9v0.9h-0.9zM334.1 149.8h0.9v0.9h-0.9zM334.0 141.4h0.9v0.9h-0.9zM334.5 142.2h0.9v0.9h-0.9zM333.6 140.5h0.9v0.9h-0.9zM329.1 152.1h0.9v0.9h-0.9zM332.0 145.1h0.9v0.9h-0.9zM331.1 142.3h0.9v0.9h-0.9zM331.9 147.7h0.9v0.9h-0.9zM336.9 144.7h0.9v0.9h-0.9zM331.2 158.3h0.9v0.9h-0.9zM335.7 147.2h0.9v0.9h-0.9zM331.2 143.7h0.9v0.9h-0.9zM334.9 134.7h0.9v0.9h-0.9zM330.5 147.2h0.9v0.9h-0.9zM334.9 142.2h0.9v0.9h-0.9zM329.1 150.6h0.9v0.9h-0.9zM330.4 143.6h0.9v0.9h-0.9zM333.3 141.1h0.9v0.9h-0.9zM330.5 151.6h0.9v0.9h-0.9zM333.1 138.7h0.9v0.9h-0.9zM332.6 150.8h0.9v0.9h-0.9zM334.5 137.4h0.9v0.9h-0.9zM334.1 147.2h0.9v0.9h-0.9zM332.9 144.8h0.9v0.9h-0.9zM333.0 141.6h0.9v0.9h-0.9zM330.9 138.5h0.9v0.9h-0.9zM329.2 137.6h0.9v0.9h-0.9zM334.4 145.6h0.9v0.9h-0.9zM333.2 146.0h0.9v0.9h-0.9zM333.1 140.2h0.9v0.9h-0.9zM333.5 142.1h0.9v0.9h-0.9zM332.3 134.2h0.9v0.9h-0.9zM331.2 146.8h0.9v0.9h-0.9zM331.8 140.3h0.9v0.9h-0.9zM336.1 143.2h0.9v0.9h-0.9zM330.9 149.9h0.9v0.9h-0.9zM331.3 149.7h0.9v0.9h-0.9zM331.2 146.6h0.9v0.9h-0.9zM335.0 145.8h0.9v0.9h-0.9zM329.9 143.8h0.9v0.9h-0.9zM330.1 144.7h0.9v0.9h-0.9zM331.9 143.3h0.9v0.9h-0.9zM334.9 138.0h0.9v0.9h-0.9zM330.4 142.4h0.9v0.9h-0.9zM332.2 140.5h0.9v0.9h-0.9zM334.6 137.9h0.9v0.9h-0.9zM332.7 141.4h0.9v0.9h-0.9zM329.5 144.2h0.9v0.9h-0.9zM333.4 152.3h0.9v0.9h-0.9zM333.4 151.0h0.9v0.9h-0.9zM330.8 152.5h0.9v0.9h-0.9zM330.9 136.7h0.9v0.9h-0.9zM329.2 148.2h0.9v0.9h-0.9zM333.9 143.3h0.9v0.9h-0.9zM334.6 151.1h0.9v0.9h-0.9zM332.4 145.8h0.9v0.9h-0.9zM331.9 136.4h0.9v0.9h-0.9zM332.2 151.8h0.9v0.9h-0.9zM330.5 156.5h0.9v0.9h-0.9zM335.0 145.5h0.9v0.9h-0.9zM336.2 142.8h0.9v0.9h-0.9zM333.3 150.5h0.9v0.9h-0.9zM330.9 144.7h0.9v0.9h-0.9zM329.4 146.7h0.9v0.9h-0.9zM331.6 145.1h0.9v0.9h-0.9zM329.4 149.8h0.9v0.9h-0.9zM331.3 151.6h0.9v0.9h-0.9zM334.6 147.0h0.9v0.9h-0.9zM335.7 148.4h0.9v0.9h-0.9zM331.9 141.7h0.9v0.9h-0.9zM329.8 141.4h0.9v0.9h-0.9zM334.5 141.5h0.9v0.9h-0.9zM334.4 159.0h0.9v0.9h-0.9zM329.7 139.3h0.9v0.9h-0.9zM333.3 139.8h0.9v0.9h-0.9zM334.1 145.4h0.9v0.9h-0.9zM335.5 143.3h0.9v0.9h-0.9zM330.2 145.9h0.9v0.9h-0.9zM334.1 149.8h0.9v0.9h-0.9zM330.0 145.3h0.9v0.9h-0.9zM331.4 141.2h0.9v0.9h-0.9zM335.3 140.3h0.9v0.9h-0.9zM333.8 129.2h0.9v0.9h-0.9zM332.5 138.7h0.9v0.9h-0.9zM333.8 144.5h0.9v0.9h-0.9zM336.3 148.7h0.9v0.9h-0.9zM330.8 145.5h0.9v0.9h-0.9zM334.3 144.6h0.9v0.9h-0.9zM332.1 151.3h0.9v0.9h-0.9zM334.2 137.4h0.9v0.9h-0.9zM334.1 142.5h0.9v0.9h-0.9zM332.3 148.7h0.9v0.9h-0.9zM335.3 144.5h0.9v0.9h-0.9zM334.5 147.7h0.9v0.9h-0.9zM331.2 145.6h0.9v0.9h-0.9zM336.6 139.3h0.9v0.9h-0.9zM331.2 150.2h0.9v0.9h-0.9zM331.6 150.0h0.9v0.9h-0.9zM331.8 145.7h0.9v0.9h-0.9zM334.1 141.1h0.9v0.9h-0.9zM329.9 150.3h0.9v0.9h-0.9zM331.8 147.2h0.9v0.9h-0.9zM335.2 136.1h0.9v0.9h-0.9zM337.0 142.7h0.9v0.9h-0.9zM332.1 142.8h0.9v0.9h-0.9zM331.5 146.0h0.9v0.9h-0.9zM335.0 140.3h0.9v0.9h-0.9zM332.3 154.5h0.9v0.9h-0.9zM333.4 153.3h0.9v0.9h-0.9zM330.7 141.6h0.9v0.9h-0.9zM329.4 141.4h0.9v0.9h-0.9zM332.9 144.7h0.9v0.9h-0.9zM329.2 141.9h0.9v0.9h-0.9zM331.7 151.1h0.9v0.9h-0.9zM331.6 143.5h0.9v0.9h-0.9zM330.2 146.7h0.9v0.9h-0.9zM335.2 146.2h0.9v0.9h-0.9zM335.4 141.7h0.9v0.9h-0.9zM332.3 139.0h0.9v0.9h-0.9zM333.0 144.1h0.9v0.9h-0.9zM331.2 142.6h0.9v0.9h-0.9zM332.4 136.9h0.9v0.9h-0.9zM330.6 146.5h0.9v0.9h-0.9zM335.3 149.8h0.9v0.9h-0.9zM335.6 137.5h0.9v0.9h-0.9zM332.3 153.7h0.9v0.9h-0.9zM329.7 143.2h0.9v0.9h-0.9zM336.8 144.3h0.9v0.9h-0.9zM330.6 146.2h0.9v0.9h-0.9zM330.7 148.9h0.9v0.9h-0.9zM332.2 144.1h0.9v0.9h-0.9zM333.3 133.8h0.9v0.9h-0.9zM332.1 145.9h0.9v0.9h-0.9zM332.9 141.0h0.9v0.9h-0.9zM332.5 150.9h0.9v0.9h-0.9zM334.9 139.6h0.9v0.9h-0.9zM336.2 143.5h0.9v0.9h-0.9zM331.2 136.0h0.9v0.9h-0.9zM334.7 137.5h0.9v0.9h-0.9zM333.9 148.6h0.9v0.9h-0.9zM335.1 136.9h0.9v0.9h-0.9zM329.9 148.5h0.9v0.9h-0.9zM336.4 142.2h0.9v0.9h-0.9zM332.4 152.9h0.9v0.9h-0.9zM329.5 142.6h0.9v0.9h-0.9zM335.1 137.0h0.9v0.9h-0.9zM333.7 144.9h0.9v0.9h-0.9zM337.0 144.7h0.9v0.9h-0.9zM335.0 155.9h0.9v0.9h-0.9zM335.8 139.8h0.9v0.9h-0.9zM334.1 150.1h0.9v0.9h-0.9zM337.0 154.3h0.9v0.9h-0.9zM332.1 152.4h0.9v0.9h-0.9zM334.3 146.0h0.9v0.9h-0.9zM332.5 147.7h0.9v0.9h-0.9zM330.0 149.1h0.9v0.9h-0.9zM335.6 144.7h0.9v0.9h-0.9zM336.3 146.3h0.9v0.9h-0.9zM332.2 139.7h0.9v0.9h-0.9zM331.0 138.4h0.9v0.9h-0.9zM330.7 146.9h0.9v0.9h-0.9zM334.4 143.1h0.9v0.9h-0.9zM332.1 144.5h0.9v0.9h-0.9zM333.0 143.2h0.9v0.9h-0.9zM333.5 136.1h0.9v0.9h-0.9zM331.2 146.0h0.9v0.9h-0.9zM330.6 145.2h0.9v0.9h-0.9zM337.2 138.5h0.9v0.9h-0.9zM336.7 146.9h0.9v0.9h-0.9zM335.5 139.1h0.9v0.9h-0.9zM336.8 144.5h0.9v0.9h-0.9zM335.7 143.4h0.9v0.9h-0.9zM330.4 135.9h0.9v0.9h-0.9zM335.9 156.4h0.9v0.9h-0.9zM336.3 141.2h0.9v0.9h-0.9zM334.2 140.0h0.9v0.9h-0.9zM335.6 142.0h0.9v0.9h-0.9zM333.6 137.6h0.9v0.9h-0.9zM334.5 144.0h0.9v0.9h-0.9zM335.1 145.6h0.9v0.9h-0.9zM334.2 140.0h0.9v0.9h-0.9zM335.3 135.7h0.9v0.9h-0.9zM330.6 143.2h0.9v0.9h-0.9zM336.4 134.0h0.9v0.9h-0.9zM331.9 150.2h0.9v0.9h-0.9zM331.6 136.7h0.9v0.9h-0.9zM333.1 150.3h0.9v0.9h-0.9zM331.0 142.2h0.9v0.9h-0.9zM337.2 144.1h0.9v0.9h-0.9zM335.7 148.6h0.9v0.9h-0.9zM332.1 145.6h0.9v0.9h-0.9zM335.9 144.3h0.9v0.9h-0.9zM333.0 148.2h0.9v0.9h-0.9zM329.3 140.4h0.9v0.9h-0.9zM332.0 143.8h0.9v0.9h-0.9zM332.6 149.5h0.9v0.9h-0.9zM334.9 145.4h0.9v0.9h-0.9zM334.5 146.6h0.9v0.9h-0.9zM332.0 142.3h0.9v0.9h-0.9zM329.7 145.0h0.9v0.9h-0.9zM334.6 143.3h0.9v0.9h-0.9zM334.1 153.3h0.9v0.9h-0.9zM334.9 146.6h0.9v0.9h-0.9zM333.6 147.1h0.9v0.9h-0.9zM330.2 148.8h0.9v0.9h-0.9zM335.7 147.7h0.9v0.9h-0.9zM336.9 145.6h0.9v0.9h-0.9zM335.7 136.4h0.9v0.9h-0.9zM330.5 140.1h0.9v0.9h-0.9zM334.4 147.6h0.9v0.9h-0.9zM332.3 136.4h0.9v0.9h-0.9zM333.5 134.2h0.9v0.9h-0.9zM336.1 137.8h0.9v0.9h-0.9zM329.7 140.0h0.9v0.9h-0.9zM332.7 144.2h0.9v0.9h-0.9zM334.1 142.5h0.9v0.9h-0.9zM332.4 148.9h0.9v0.9h-0.9zM337.2 143.0h0.9v0.9h-0.9zM334.8 147.0h0.9v0.9h-0.9zM332.4 141.5h0.9v0.9h-0.9zM335.8 143.9h0.9v0.9h-0.9zM330.9 139.2h0.9v0.9h-0.9zM332.5 145.7h0.9v0.9h-0.9zM334.3 139.2h0.9v0.9h-0.9zM334.5 141.2h0.9v0.9h-0.9zM331.9 143.7h0.9v0.9h-0.9zM330.3 142.9h0.9v0.9h-0.9zM335.3 138.0h0.9v0.9h-0.9zM332.0 147.1h0.9v0.9h-0.9zM333.8 144.9h0.9v0.9h-0.9zM329.4 139.9h0.9v0.9h-0.9zM332.4 141.6h0.9v0.9h-0.9zM336.3 146.5h0.9v0.9h-0.9zM336.4 141.3h0.9v0.9h-0.9zM330.6 146.4h0.9v0.9h-0.9zM332.1 154.1h0.9v0.9h-0.9zM330.9 151.3h0.9v0.9h-0.9zM332.5 139.0h0.9v0.9h-0.9zM334.5 145.1h0.9v0.9h-0.9zM335.4 145.4h0.9v0.9h-0.9zM331.9 141.7h0.9v0.9h-0.9zM333.0 145.5h0.9v0.9h-0.9zM330.7 141.9h0.9v0.9h-0.9zM334.3 139.4h0.9v0.9h-0.9zM332.9 143.1h0.9v0.9h-0.9zM330.9 151.7h0.9v0.9h-0.9zM336.3 142.8h0.9v0.9h-0.9zM329.3 147.4h0.9v0.9h-0.9zM332.8 144.1h0.9v0.9h-0.9zM333.3 141.7h0.9v0.9h-0.9zM332.2 143.6h0.9v0.9h-0.9zM334.3 141.8h0.9v0.9h-0.9zM330.9 141.4h0.9v0.9h-0.9zM334.5 149.2h0.9v0.9h-0.9zM332.9 143.5h0.9v0.9h-0.9zM332.3 137.9h0.9v0.9h-0.9zM336.1 149.1h0.9v0.9h-0.9zM332.7 138.9h0.9v0.9h-0.9zM332.4 144.3h0.9v0.9h-0.9zM330.2 144.5h0.9v0.9h-0.9zM335.9 140.0h0.9v0.9h-0.9zM332.8 153.0h0.9v0.9h-0.9zM334.6 145.7h0.9v0.9h-0.9zM331.6 149.0h0.9v0.9h-0.9zM335.2 152.7h0.9v0.9h-0.9zM330.4 142.3h0.9v0.9h-0.9zM332.4 133.3h0.9v0.9h-0.9zM331.8 144.0h0.9v0.9h-0.9zM331.7 146.9h0.9v0.9h-0.9zM331.3 142.1h0.9v0.9h-0.9zM334.2 138.1h0.9v0.9h-0.9zM330.6 145.4h0.9v0.9h-0.9zM334.5 140.4h0.9v0.9h-0.9zM335.0 158.3h0.9v0.9h-0.9zM336.4 141.2h0.9v0.9h-0.9zM335.5 144.9h0.9v0.9h-0.9zM329.8 135.7h0.9v0.9h-0.9zM333.8 143.4h0.9v0.9h-0.9zM334.9 145.9h0.9v0.9h-0.9zM334.9 151.6h0.9v0.9h-0.9zM335.2 137.3h0.9v0.9h-0.9zM333.7 134.1h0.9v0.9h-0.9zM333.0 148.5h0.9v0.9h-0.9zM336.5 142.1h0.9v0.9h-0.9zM333.1 139.5h0.9v0.9h-0.9zM331.0 144.2h0.9v0.9h-0.9zM332.4 147.1h0.9v0.9h-0.9zM333.8 146.6h0.9v0.9h-0.9zM331.8 139.0h0.9v0.9h-0.9zM333.9 140.0h0.9v0.9h-0.9zM332.5 144.1h0.9v0.9h-0.9zM333.8 148.6h0.9v0.9h-0.9zM332.5 147.8h0.9v0.9h-0.9zM334.7 144.7h0.9v0.9h-0.9zM329.3 141.4h0.9v0.9h-0.9zM336.7 135.0h0.9v0.9h-0.9zM332.3 149.1h0.9v0.9h-0.9zM335.1 140.8h0.9v0.9h-0.9zM335.1 146.4h0.9v0.9h-0.9zM333.6 149.8h0.9v0.9h-0.9zM329.7 149.3h0.9v0.9h-0.9zM332.9 143.4h0.9v0.9h-0.9zM332.0 158.0h0.9v0.9h-0.9zM333.4 142.9h0.9v0.9h-0.9zM330.4 138.4h0.9v0.9h-0.9zM333.6 147.2h0.9v0.9h-0.9zM336.6 145.4h0.9v0.9h-0.9zM331.4 144.5h0.9v0.9h-0.9zM335.2 148.3h0.9v0.9h-0.9zM331.2 144.2h0.9v0.9h-0.9zM333.7 148.2h0.9v0.9h-0.9zM337.1 142.4h0.9v0.9h-0.9zM332.4 143.2h0.9v0.9h-0.9zM336.1 141.5h0.9v0.9h-0.9zM331.7 152.5h0.9v0.9h-0.9z"/>
<path fill="#ee1c1c" d="M346.2 135.2h0.9v0.9h-0.9zM347.2 137.6h0.9v0.9h-0.9zM353.1 148.0h0.9v0.9h-0.9zM347.3 146.1h0.9v0.9h-0.9zM345.4 133.1h0.9v0.9h-0.9zM340.3 145.7h0.9v0.9h-0.9zM353.4 144.2h0.9v0.9h-0.9zM348.4 142.9h0.9v0.9h-0.9zM339.8 138.8h0.9v0.9h-0.9zM346.9 131.3h0.9v0.9h-0.9zM339.2 146.0h0.9v0.9h-0.9zM344.5 132.0h0.9v0.9h-0.9zM344.1 148.3h0.9v0.9h-0.9zM354.1 147.0h0.9v0.9h-0.9zM343.0 142.4h0.9v0.9h-0.9zM340.4 148.2h0.9v0.9h-0.9zM353.3 130.1h0.9v0.9h-0.9zM342.8 140.2h0.9v0.9h-0.9zM340.6 142.4h0.9v0.9h-0.9zM338.4 144.6h0.9v0.9h-0.9zM342.4 139.6h0.9v0.9h-0.9zM346.5 142.2h0.9v0.9h-0.9zM338.7 145.4h0.9v0.9h-0.9zM348.7 136.1h0.9v0.9h-0.9zM352.3 131.2h0.9v0.9h-0.9zM341.1 142.3h0.9v0.9h-0.9zM340.3 147.5h0.9v0.9h-0.9zM345.1 146.7h0.9v0.9h-0.9zM338.3 137.3h0.9v0.9h-0.9zM351.2 130.4h0.9v0.9h-0.9zM349.8 132.2h0.9v0.9h-0.9zM345.4 143.9h0.9v0.9h-0.9zM343.7 133.7h0.9v0.9h-0.9zM341.4 145.8h0.9v0.9h-0.9zM345.1 141.9h0.9v0.9h-0.9zM344.5 140.2h0.9v0.9h-0.9zM343.0 134.6h0.9v0.9h-0.9zM347.0 138.4h0.9v0.9h-0.9zM350.4 144.4h0.9v0.9h-0.9zM354.5 127.3h0.9v0.9h-0.9zM344.6 141.4h0.9v0.9h-0.9zM348.1 133.6h0.9v0.9h-0.9zM346.8 135.6h0.9v0.9h-0.9zM343.8 136.6h0.9v0.9h-0.9zM345.7 136.3h0.9v0.9h-0.9zM345.7 137.8h0.9v0.9h-0.9zM349.0 144.6h0.9v0.9h-0.9zM343.6 135.7h0.9v0.9h-0.9zM342.8 137.1h0.9v0.9h-0.9zM341.1 143.6h0.9v0.9h-0.9zM348.9 136.0h0.9v0.9h-0.9zM349.0 140.2h0.9v0.9h-0.9zM341.3 138.8h0.9v0.9h-0.9zM341.2 138.2h0.9v0.9h-0.9zM348.4 134.3h0.9v0.9h-0.9zM341.7 136.3h0.9v0.9h-0.9zM351.5 133.5h0.9v0.9h-0.9zM343.1 135.3h0.9v0.9h-0.9zM345.2 134.6h0.9v0.9h-0.9zM340.3 131.0h0.9v0.9h-0.9zM348.9 144.3h0.9v0.9h-0.9zM355.8 144.2h0.9v0.9h-0.9zM356.2 126.0h0.9v0.9h-0.9zM338.2 145.7h0.9v0.9h-0.9zM349.5 134.8h0.9v0.9h-0.9zM352.1 144.9h0.9v0.9h-0.9zM341.4 142.9h0.9v0.9h-0.9zM342.8 136.4h0.9v0.9h-0.9zM341.4 139.1h0.9v0.9h-0.9zM346.7 142.0h0.9v0.9h-0.9zM338.8 139.0h0.9v0.9h-0.9zM339.0 143.3h0.9v0.9h-0.9zM343.4 143.7h0.9v0.9h-0.9zM342.3 132.8h0.9v0.9h-0.9zM347.0 136.0h0.9v0.9h-0.9zM350.1 139.3h0.9v0.9h-0.9zM348.0 136.6h0.9v0.9h-0.9zM339.9 130.3h0.9v0.9h-0.9zM341.1 146.6h0.9v0.9h-0.9zM347.4 133.0h0.9v0.9h-0.9zM345.5 143.1h0.9v0.9h-0.9zM343.0 148.0h0.9v0.9h-0.9zM340.1 151.0h0.9v0.9h-0.9zM352.2 137.3h0.9v0.9h-0.9zM345.2 138.5h0.9v0.9h-0.9zM338.9 146.2h0.9v0.9h-0.9zM350.8 139.3h0.9v0.9h-0.9zM345.5 138.7h0.9v0.9h-0.9zM338.9 138.4h0.9v0.9h-0.9zM341.5 145.2h0.9v0.9h-0.9zM348.5 133.5h0.9v0.9h-0.9zM351.6 142.7h0.9v0.9h-0.9zM352.2 140.3h0.9v0.9h-0.9zM342.3 138.3h0.9v0.9h-0.9zM340.0 142.6h0.9v0.9h-0.9zM353.0 129.2h0.9v0.9h-0.9zM357.1 129.7h0.9v0.9h-0.9zM347.9 143.8h0.9v0.9h-0.9zM342.0 135.1h0.9v0.9h-0.9zM353.4 129.0h0.9v0.9h-0.9zM349.3 137.0h0.9v0.9h-0.9zM342.0 140.2h0.9v0.9h-0.9zM338.1 136.6h0.9v0.9h-0.9zM345.6 133.2h0.9v0.9h-0.9zM339.8 148.0h0.9v0.9h-0.9zM353.7 139.5h0.9v0.9h-0.9zM348.8 135.4h0.9v0.9h-0.9zM344.5 135.2h0.9v0.9h-0.9zM348.2 147.5h0.9v0.9h-0.9zM349.3 130.6h0.9v0.9h-0.9zM350.2 133.3h0.9v0.9h-0.9zM355.3 141.1h0.9v0.9h-0.9zM343.9 141.1h0.9v0.9h-0.9zM339.2 143.6h0.9v0.9h-0.9zM349.2 132.1h0.9v0.9h-0.9zM346.2 131.4h0.9v0.9h-0.9zM345.2 131.2h0.9v0.9h-0.9zM346.1 137.8h0.9v0.9h-0.9zM337.9 143.7h0.9v0.9h-0.9zM338.6 142.0h0.9v0.9h-0.9zM339.0 144.0h0.9v0.9h-0.9zM340.9 147.4h0.9v0.9h-0.9zM346.4 140.3h0.9v0.9h-0.9zM342.2 132.6h0.9v0.9h-0.9zM353.7 129.6h0.9v0.9h-0.9zM350.6 141.7h0.9v0.9h-0.9zM340.8 139.6h0.9v0.9h-0.9zM351.0 134.2h0.9v0.9h-0.9zM341.8 137.3h0.9v0.9h-0.9zM344.4 138.3h0.9v0.9h-0.9zM350.7 136.8h0.9v0.9h-0.9zM350.4 135.3h0.9v0.9h-0.9zM357.5 131.7h0.9v0.9h-0.9zM343.2 135.6h0.9v0.9h-0.9zM347.0 139.4h0.9v0.9h-0.9zM338.7 145.6h0.9v0.9h-0.9zM343.3 135.4h0.9v0.9h-0.9zM346.1 132.6h0.9v0.9h-0.9zM349.8 142.7h0.9v0.9h-0.9zM346.0 131.9h0.9v0.9h-0.9zM350.7 134.3h0.9v0.9h-0.9zM343.1 141.8h0.9v0.9h-0.9zM340.3 148.1h0.9v0.9h-0.9zM340.7 145.8h0.9v0.9h-0.9zM348.2 145.4h0.9v0.9h-0.9zM346.8 141.8h0.9v0.9h-0.9zM342.0 139.0h0.9v0.9h-0.9zM340.8 144.3h0.9v0.9h-0.9zM340.6 148.0h0.9v0.9h-0.9zM343.6 133.7h0.9v0.9h-0.9zM340.6 146.4h0.9v0.9h-0.9zM341.6 143.2h0.9v0.9h-0.9zM339.1 145.5h0.9v0.9h-0.9zM347.0 141.5h0.9v0.9h-0.9zM339.0 133.9h0.9v0.9h-0.9zM348.8 146.7h0.9v0.9h-0.9zM348.7 134.3h0.9v0.9h-0.9zM348.7 129.6h0.9v0.9h-0.9zM346.6 133.1h0.9v0.9h-0.9zM342.1 143.5h0.9v0.9h-0.9zM349.1 136.1h0.9v0.9h-0.9zM342.6 146.6h0.9v0.9h-0.9zM350.1 133.2h0.9v0.9h-0.9zM346.1 137.4h0.9v0.9h-0.9zM349.7 138.8h0.9v0.9h-0.9zM346.9 138.5h0.9v0.9h-0.9zM341.7 145.9h0.9v0.9h-0.9zM346.8 127.1h0.9v0.9h-0.9zM342.6 141.5h0.9v0.9h-0.9zM340.7 136.8h0.9v0.9h-0.9zM341.2 142.6h0.9v0.9h-0.9zM339.5 143.5h0.9v0.9h-0.9zM351.9 140.1h0.9v0.9h-0.9zM349.9 135.6h0.9v0.9h-0.9zM351.0 136.2h0.9v0.9h-0.9zM349.3 131.5h0.9v0.9h-0.9zM351.3 133.1h0.9v0.9h-0.9zM344.8 144.2h0.9v0.9h-0.9zM344.6 137.0h0.9v0.9h-0.9zM343.7 144.9h0.9v0.9h-0.9zM350.5 139.4h0.9v0.9h-0.9zM341.2 139.0h0.9v0.9h-0.9zM348.0 141.0h0.9v0.9h-0.9zM340.7 137.8h0.9v0.9h-0.9zM348.2 142.5h0.9v0.9h-0.9zM344.9 133.3h0.9v0.9h-0.9zM353.0 135.1h0.9v0.9h-0.9zM346.9 127.7h0.9v0.9h-0.9zM340.5 140.2h0.9v0.9h-0.9zM346.0 134.0h0.9v0.9h-0.9zM355.8 135.4h0.9v0.9h-0.9zM345.7 139.5h0.9v0.9h-0.9zM348.1 140.3h0.9v0.9h-0.9zM349.4 139.0h0.9v0.9h-0.9zM345.4 130.3h0.9v0.9h-0.9zM349.8 135.7h0.9v0.9h-0.9zM345.1 135.2h0.9v0.9h-0.9zM342.9 137.9h0.9v0.9h-0.9zM341.8 135.9h0.9v0.9h-0.9zM347.5 141.5h0.9v0.9h-0.9zM341.1 136.5h0.9v0.9h-0.9zM339.6 139.7h0.9v0.9h-0.9zM351.5 134.5h0.9v0.9h-0.9zM353.7 128.1h0.9v0.9h-0.9zM338.1 138.2h0.9v0.9h-0.9zM339.3 142.8h0.9v0.9h-0.9zM353.2 130.9h0.9v0.9h-0.9zM345.8 144.4h0.9v0.9h-0.9zM356.7 133.6h0.9v0.9h-0.9zM349.2 142.7h0.9v0.9h-0.9zM344.5 141.4h0.9v0.9h-0.9zM342.1 135.8h0.9v0.9h-0.9zM340.9 146.1h0.9v0.9h-0.9zM351.2 136.6h0.9v0.9h-0.9zM340.4 148.1h0.9v0.9h-0.9zM352.1 135.5h0.9v0.9h-0.9zM338.0 140.8h0.9v0.9h-0.9zM340.6 148.3h0.9v0.9h-0.9zM340.7 142.3h0.9v0.9h-0.9zM342.2 146.5h0.9v0.9h-0.9zM348.7 140.7h0.9v0.9h-0.9zM343.6 143.8h0.9v0.9h-0.9zM341.8 140.4h0.9v0.9h-0.9zM345.3 138.8h0.9v0.9h-0.9zM346.9 134.6h0.9v0.9h-0.9zM343.5 136.6h0.9v0.9h-0.9zM344.5 140.4h0.9v0.9h-0.9zM340.1 147.9h0.9v0.9h-0.9zM354.5 136.5h0.9v0.9h-0.9zM344.7 135.9h0.9v0.9h-0.9zM343.3 138.5h0.9v0.9h-0.9zM347.9 137.2h0.9v0.9h-0.9zM348.0 139.9h0.9v0.9h-0.9zM341.7 134.1h0.9v0.9h-0.9zM338.0 137.2h0.9v0.9h-0.9zM344.1 144.8h0.9v0.9h-0.9zM339.3 144.6h0.9v0.9h-0.9zM343.3 145.5h0.9v0.9h-0.9zM356.2 138.2h0.9v0.9h-0.9zM346.1 140.6h0.9v0.9h-0.9zM351.3 134.3h0.9v0.9h-0.9zM340.2 142.0h0.9v0.9h-0.9zM352.9 131.5h0.9v0.9h-0.9zM350.3 140.3h0.9v0.9h-0.9zM343.2 136.0h0.9v0.9h-0.9zM349.6 138.0h0.9v0.9h-0.9zM348.2 134.2h0.9v0.9h-0.9zM341.2 137.0h0.9v0.9h-0.9zM357.3 126.1h0.9v0.9h-0.9zM354.9 148.0h0.9v0.9h-0.9zM349.5 132.4h0.9v0.9h-0.9zM349.6 142.8h0.9v0.9h-0.9zM341.7 140.2h0.9v0.9h-0.9zM338.8 145.9h0.9v0.9h-0.9zM342.4 135.4h0.9v0.9h-0.9zM346.4 139.6h0.9v0.9h-0.9zM343.8 137.1h0.9v0.9h-0.9zM349.2 133.3h0.9v0.9h-0.9zM339.4 140.1h0.9v0.9h-0.9zM346.8 135.8h0.9v0.9h-0.9zM340.6 135.8h0.9v0.9h-0.9zM339.7 137.9h0.9v0.9h-0.9zM354.6 125.1h0.9v0.9h-0.9zM341.5 140.5h0.9v0.9h-0.9zM339.2 135.7h0.9v0.9h-0.9zM346.9 144.1h0.9v0.9h-0.9zM349.9 136.1h0.9v0.9h-0.9zM341.6 143.3h0.9v0.9h-0.9zM344.7 139.4h0.9v0.9h-0.9zM346.2 138.6h0.9v0.9h-0.9zM342.9 137.7h0.9v0.9h-0.9zM339.4 144.0h0.9v0.9h-0.9zM346.7 140.1h0.9v0.9h-0.9zM357.2 151.7h0.9v0.9h-0.9zM352.4 132.1h0.9v0.9h-0.9zM352.0 138.6h0.9v0.9h-0.9zM354.8 130.0h0.9v0.9h-0.9zM341.5 145.0h0.9v0.9h-0.9zM348.8 141.2h0.9v0.9h-0.9zM341.5 149.2h0.9v0.9h-0.9zM346.2 133.9h0.9v0.9h-0.9zM346.2 131.1h0.9v0.9h-0.9zM339.7 139.1h0.9v0.9h-0.9zM341.3 137.2h0.9v0.9h-0.9zM341.4 136.1h0.9v0.9h-0.9zM350.0 131.2h0.9v0.9h-0.9zM341.1 136.1h0.9v0.9h-0.9zM340.8 134.4h0.9v0.9h-0.9zM355.4 132.0h0.9v0.9h-0.9zM348.4 135.0h0.9v0.9h-0.9zM355.0 140.0h0.9v0.9h-0.9zM354.6 142.8h0.9v0.9h-0.9zM345.1 143.5h0.9v0.9h-0.9zM351.0 126.3h0.9v0.9h-0.9zM354.3 127.6h0.9v0.9h-0.9zM354.0 135.1h0.9v0.9h-0.9zM347.3 148.0h0.9v0.9h-0.9zM349.8 128.5h0.9v0.9h-0.9zM356.8 138.1h0.9v0.9h-0.9zM345.8 142.5h0.9v0.9h-0.9zM346.4 143.7h0.9v0.9h-0.9zM338.5 133.0h0.9v0.9h-0.9zM340.4 144.7h0.9v0.9h-0.9zM338.5 130.5h0.9v0.9h-0.9zM341.1 143.8h0.9v0.9h-0.9zM346.2 136.2h0.9v0.9h-0.9zM341.2 130.2h0.9v0.9h-0.9zM343.8 148.1h0.9v0.9h-0.9zM341.1 148.1h0.9v0.9h-0.9zM339.6 140.2h0.9v0.9h-0.9zM343.5 130.3h0.9v0.9h-0.9zM349.9 134.0h0.9v0.9h-0.9zM347.8 147.7h0.9v0.9h-0.9zM340.3 141.0h0.9v0.9h-0.9zM354.5 141.6h0.9v0.9h-0.9zM347.2 138.6h0.9v0.9h-0.9zM339.9 142.0h0.9v0.9h-0.9zM350.6 145.9h0.9v0.9h-0.9zM347.2 141.2h0.9v0.9h-0.9zM349.1 135.1h0.9v0.9h-0.9zM338.1 140.9h0.9v0.9h-0.9zM344.9 138.1h0.9v0.9h-0.9zM339.3 137.9h0.9v0.9h-0.9zM341.5 134.8h0.9v0.9h-0.9zM337.9 132.3h0.9v0.9h-0.9zM340.2 139.6h0.9v0.9h-0.9zM338.3 138.5h0.9v0.9h-0.9zM342.1 132.5h0.9v0.9h-0.9zM338.0 135.4h0.9v0.9h-0.9zM343.9 131.4h0.9v0.9h-0.9zM341.6 128.3h0.9v0.9h-0.9zM350.9 136.0h0.9v0.9h-0.9zM339.8 140.1h0.9v0.9h-0.9zM342.6 131.0h0.9v0.9h-0.9zM342.0 136.2h0.9v0.9h-0.9zM345.2 138.0h0.9v0.9h-0.9zM341.5 144.1h0.9v0.9h-0.9zM350.7 136.6h0.9v0.9h-0.9zM353.3 140.7h0.9v0.9h-0.9zM347.6 144.2h0.9v0.9h-0.9zM350.1 151.6h0.9v0.9h-0.9zM343.1 143.1h0.9v0.9h-0.9zM340.1 139.8h0.9v0.9h-0.9zM342.7 134.3h0.9v0.9h-0.9zM342.4 131.0h0.9v0.9h-0.9zM342.8 147.4h0.9v0.9h-0.9zM353.8 133.6h0.9v0.9h-0.9zM353.0 136.1h0.9v0.9h-0.9zM340.6 139.3h0.9v0.9h-0.9zM343.6 142.1h0.9v0.9h-0.9zM339.9 138.8h0.9v0.9h-0.9zM349.3 136.8h0.9v0.9h-0.9zM346.0 137.5h0.9v0.9h-0.9zM347.6 140.7h0.9v0.9h-0.9zM339.7 146.5h0.9v0.9h-0.9zM340.4 142.4h0.9v0.9h-0.9zM342.3 143.0h0.9v0.9h-0.9zM345.5 141.0h0.9v0.9h-0.9zM344.7 138.1h0.9v0.9h-0.9zM345.1 138.4h0.9v0.9h-0.9zM339.5 133.8h0.9v0.9h-0.9zM346.8 143.7h0.9v0.9h-0.9zM338.8 144.0h0.9v0.9h-0.9zM340.7 141.5h0.9v0.9h-0.9zM348.7 138.4h0.9v0.9h-0.9zM342.7 130.3h0.9v0.9h-0.9zM342.8 139.4h0.9v0.9h-0.9zM350.6 132.3h0.9v0.9h-0.9zM343.4 140.2h0.9v0.9h-0.9zM350.7 129.9h0.9v0.9h-0.9zM348.3 136.3h0.9v0.9h-0.9zM340.3 134.2h0.9v0.9h-0.9zM338.7 145.5h0.9v0.9h-0.9zM341.1 135.8h0.9v0.9h-0.9zM341.7 146.4h0.9v0.9h-0.9zM349.2 140.2h0.9v0.9h-0.9zM349.2 140.0h0.9v0.9h-0.9zM341.7 134.8h0.9v0.9h-0.9zM350.5 135.1h0.9v0.9h-0.9zM344.6 136.4h0.9v0.9h-0.9zM346.7 144.0h0.9v0.9h-0.9zM341.8 140.8h0.9v0.9h-0.9zM344.3 142.0h0.9v0.9h-0.9zM343.9 139.2h0.9v0.9h-0.9zM340.8 140.8h0.9v0.9h-0.9zM340.1 144.5h0.9v0.9h-0.9zM343.3 147.2h0.9v0.9h-0.9zM340.4 135.9h0.9v0.9h-0.9zM348.9 139.6h0.9v0.9h-0.9zM343.1 155.1h0.9v0.9h-0.9zM350.0 134.2h0.9v0.9h-0.9zM347.7 142.4h0.9v0.9h-0.9zM341.5 142.0h0.9v0.9h-0.9zM348.7 146.5h0.9v0.9h-0.9zM349.4 143.1h0.9v0.9h-0.9zM347.3 140.8h0.9v0.9h-0.9zM347.2 136.6h0.9v0.9h-0.9zM356.7 136.0h0.9v0.9h-0.9zM346.8 138.1h0.9v0.9h-0.9zM341.0 138.2h0.9v0.9h-0.9zM354.6 148.0h0.9v0.9h-0.9zM352.7 132.5h0.9v0.9h-0.9zM357.6 134.5h0.9v0.9h-0.9zM342.3 140.4h0.9v0.9h-0.9zM341.4 147.5h0.9v0.9h-0.9zM343.8 140.1h0.9v0.9h-0.9zM339.2 144.1h0.9v0.9h-0.9zM354.7 139.7h0.9v0.9h-0.9zM357.6 145.9h0.9v0.9h-0.9zM344.4 145.6h0.9v0.9h-0.9zM350.5 137.9h0.9v0.9h-0.9zM339.5 140.9h0.9v0.9h-0.9zM349.1 135.8h0.9v0.9h-0.9zM342.1 133.5h0.9v0.9h-0.9zM342.5 140.4h0.9v0.9h-0.9zM346.1 145.0h0.9v0.9h-0.9zM342.0 138.8h0.9v0.9h-0.9zM340.3 144.5h0.9v0.9h-0.9zM340.4 145.9h0.9v0.9h-0.9zM345.2 128.7h0.9v0.9h-0.9zM341.7 140.9h0.9v0.9h-0.9zM347.8 137.0h0.9v0.9h-0.9zM342.6 142.9h0.9v0.9h-0.9zM351.8 125.9h0.9v0.9h-0.9zM340.0 148.4h0.9v0.9h-0.9zM344.9 133.3h0.9v0.9h-0.9zM352.5 143.6h0.9v0.9h-0.9zM342.2 143.0h0.9v0.9h-0.9zM343.5 140.5h0.9v0.9h-0.9zM348.7 134.9h0.9v0.9h-0.9zM343.0 137.5h0.9v0.9h-0.9zM348.8 145.5h0.9v0.9h-0.9zM344.3 138.5h0.9v0.9h-0.9zM347.7 133.2h0.9v0.9h-0.9zM345.5 143.7h0.9v0.9h-0.9zM352.7 127.3h0.9v0.9h-0.9zM343.1 133.0h0.9v0.9h-0.9zM354.8 131.1h0.9v0.9h-0.9zM347.5 126.1h0.9v0.9h-0.9zM338.3 145.0h0.9v0.9h-0.9z"/>
<rect x="284.40" y="113.20" width="96.70" height="51.70" fill="none" stroke="#9a9a9a" stroke-width="0.8" />
<line x1="284.40" y1="164.90" x2="381.10" y2="164.90" stroke="#222" stroke-width="0.8" />
<path d="M289 165.4H306" stroke="#111" stroke-width="1.6"/>
<path d="M307 165.2H373" stroke="#111" stroke-width="0.9" stroke-dasharray="1.6 1.4"/>
<rect x="310.60" y="121.40" width="18.10" height="34.40" fill="none" stroke="#3ad43a" stroke-width="1.1" />
<rect x="328.70" y="121.40" width="8.80" height="34.40" fill="none" stroke="#2020c8" stroke-width="1.1" />
<rect x="337.50" y="121.40" width="21.20" height="34.40" fill="none" stroke="#cc2a2a" stroke-width="1.1" />
<text x="317.40" y="119.60" font-size="5.2" text-anchor="middle" fill="#44cc44" textLength="11.00" lengthAdjust="spacingAndGlyphs">Low</text>
<text x="332.40" y="119.60" font-size="5.2" text-anchor="middle" fill="#2424c8" textLength="9.60" lengthAdjust="spacingAndGlyphs">Med</text>
<text x="349.20" y="119.60" font-size="5.2" text-anchor="middle" fill="#d83030" textLength="11.80" lengthAdjust="spacingAndGlyphs">High</text>
<text x="275.84" y="119.40" font-size="4.6" fill="#222">10</text><text x="281.06" y="117.65" font-size="2.852" fill="#222">5</text>
<text x="275.84" y="131.20" font-size="4.6" fill="#222">10</text><text x="281.06" y="129.45" font-size="2.852" fill="#222">4</text>
<text x="275.84" y="143.10" font-size="4.6" fill="#222">10</text><text x="281.06" y="141.35" font-size="2.852" fill="#222">3</text>
<text x="275.84" y="156.10" font-size="4.6" fill="#222">10</text><text x="281.06" y="154.35" font-size="2.852" fill="#222">2</text>
<text x="273.16" y="161.30" font-size="4.6" fill="#222">−10</text><text x="281.06" y="159.55" font-size="2.852" fill="#222">2</text>
<text x="273.16" y="165.20" font-size="4.6" fill="#222">−10</text><text x="281.06" y="163.45" font-size="2.852" fill="#222">3</text>
<text x="286.10" y="172.00" font-size="4.2" fill="#222">−10</text><text x="293.32" y="170.40" font-size="2.604" fill="#222">3</text>
<text x="301.82" y="172.00" font-size="4.2" fill="#222">10</text><text x="306.60" y="170.40" font-size="2.604" fill="#222">2</text>
<text x="324.82" y="172.00" font-size="4.2" fill="#222">10</text><text x="329.60" y="170.40" font-size="2.604" fill="#222">3</text>
<text x="348.82" y="172.00" font-size="4.2" fill="#222">10</text><text x="353.60" y="170.40" font-size="2.604" fill="#222">4</text>
<text x="372.32" y="172.00" font-size="4.2" fill="#222">10</text><text x="377.10" y="170.40" font-size="2.604" fill="#222">5</text>
<line x1="268.00" y1="160.50" x2="268.00" y2="178.80" stroke="#333" stroke-width="0.9" />
<path d="M265.6 161.5L268 156.6L270.4 161.5Z" fill="#333"/>
<line x1="268.00" y1="178.80" x2="309.70" y2="178.80" stroke="#333" stroke-width="0.9" /><path d="M309.20 176.40L314.00 178.80L309.20 181.20Z" fill="#333"/>
<text x="265.40" y="171.20" font-size="6.6" fill="#222" textLength="11.50" lengthAdjust="spacingAndGlyphs" transform="rotate(-90 265.40 171.20)" style="stroke:#222;stroke-width:0.132">GFP</text>
<text x="270.80" y="191.80" font-size="8.1" fill="#1a1a1a" textLength="68.60" lengthAdjust="spacingAndGlyphs" style="stroke:#1a1a1a;stroke-width:0.162">Tyr–monomer APC</text>
<text x="397.40" y="15.60" font-size="12.0" font-weight="bold" style="stroke:#000;stroke-width:0.360">F</text>
<text x="430.00" y="16.80" font-size="9.4" fill="#1a1a1a" textLength="63.80" lengthAdjust="spacingAndGlyphs" style="stroke:#1a1a1a;stroke-width:0.188">d1 post sorting</text>
<path d="M411.3 20.3H510.8V66.8" fill="none" stroke="#9a9a9a" stroke-width="0.8"/>
<line x1="411.30" y1="20.30" x2="411.30" y2="66.80" stroke="#222" stroke-width="0.8" />
<line x1="411.30" y1="66.80" x2="510.80" y2="66.80" stroke="#222" stroke-width="0.8" />
<line x1="410.10" y1="66.80" x2="411.30" y2="66.80" stroke="#222" stroke-width="0.5" />
<text x="409.70" y="68.00" font-size="3.4" text-anchor="end" fill="#333">0</text>
<line x1="410.10" y1="55.17" x2="411.30" y2="55.17" stroke="#222" stroke-width="0.5" />
<text x="409.70" y="56.38" font-size="3.4" text-anchor="end" fill="#333">5</text>
<line x1="410.10" y1="43.55" x2="411.30" y2="43.55" stroke="#222" stroke-width="0.5" />
<text x="409.70" y="44.75" font-size="3.4" text-anchor="end" fill="#333">10</text>
<line x1="410.10" y1="31.92" x2="411.30" y2="31.92" stroke="#222" stroke-width="0.5" />
<text x="409.70" y="33.12" font-size="3.4" text-anchor="end" fill="#333">15</text>
<line x1="410.10" y1="20.30" x2="411.30" y2="20.30" stroke="#222" stroke-width="0.5" />
<text x="409.70" y="21.50" font-size="3.4" text-anchor="end" fill="#333">20</text>
<line x1="411.30" y1="66.80" x2="411.30" y2="68.00" stroke="#222" stroke-width="0.5" />
<text x="408.43" y="72.40" font-size="3.8" fill="#222">10</text><text x="412.75" y="70.96" font-size="2.356" fill="#222">1</text>
<line x1="436.18" y1="66.80" x2="436.18" y2="68.00" stroke="#222" stroke-width="0.5" />
<text x="433.30" y="72.40" font-size="3.8" fill="#222">10</text><text x="437.63" y="70.96" font-size="2.356" fill="#222">2</text>
<line x1="461.05" y1="66.80" x2="461.05" y2="68.00" stroke="#222" stroke-width="0.5" />
<text x="458.18" y="72.40" font-size="3.8" fill="#222">10</text><text x="462.50" y="70.96" font-size="2.356" fill="#222">3</text>
<line x1="485.93" y1="66.80" x2="485.93" y2="68.00" stroke="#222" stroke-width="0.5" />
<text x="483.05" y="72.40" font-size="3.8" fill="#222">10</text><text x="487.38" y="70.96" font-size="2.356" fill="#222">4</text>
<line x1="510.80" y1="66.80" x2="510.80" y2="68.00" stroke="#222" stroke-width="0.5" />
<text x="507.93" y="72.40" font-size="3.8" fill="#222">10</text><text x="512.25" y="70.96" font-size="2.356" fill="#222">5</text>
<text x="405.70" y="48.05" font-size="4.0" fill="#444" transform="rotate(-90 405.70 48.05)">Count</text>
<polyline points="411.50,66.80 412.10,64.46 412.70,64.27 413.30,63.72 413.90,63.21 414.50,61.47 415.10,60.13 415.70,59.17 416.30,59.80 416.90,59.85 417.50,57.87 418.10,55.82 418.70,55.67 419.30,57.57 419.90,55.92 420.50,53.77 421.10,54.89 421.70,53.74 422.30,54.04 422.90,53.99 423.50,53.61 424.10,54.63 424.70,54.29 425.30,54.02 425.90,55.13 426.50,55.72 427.10,53.71 427.70,55.16 428.30,54.77 428.90,55.79 429.50,55.09 430.10,56.57 430.70,56.82 431.30,56.88 431.90,56.51 432.50,57.35 433.10,56.96 433.70,56.97 434.30,58.63 434.90,57.67 435.50,59.97 436.10,59.80 436.70,57.60 437.30,59.21 437.90,57.54 438.50,58.12 439.10,57.69 439.70,55.43 440.30,56.26 440.90,55.19 441.50,55.24 442.10,52.26 442.70,52.94 443.30,50.24 443.90,49.88 444.50,47.91 445.10,48.37 445.70,45.98 446.30,46.06 446.90,42.84 447.50,41.59 448.10,40.19 448.70,37.49 449.30,36.57 449.90,36.45 450.50,34.09 451.10,33.95 451.70,33.10 452.30,33.00 452.90,31.46 453.50,30.98 454.10,31.58 454.70,32.16 455.30,31.99 455.90,33.56 456.50,31.21 457.10,30.92 457.70,30.47 458.30,33.04 458.90,32.84 459.50,33.29 460.10,34.21 460.70,37.01 461.30,37.08 461.90,38.29 462.50,41.39 463.10,41.12 463.70,43.11 464.30,44.59 464.90,45.40 465.50,46.95 466.10,49.40 466.70,48.93 467.30,49.47 467.90,50.15 468.50,52.82 469.10,53.83 469.70,55.26 470.30,55.48 470.90,56.34 471.50,57.00 472.10,58.06 472.70,59.54 473.30,59.71 473.90,60.80 474.50,63.07 475.10,62.45 475.70,61.25 476.30,64.77 476.90,63.94 477.50,63.19 478.10,65.27 478.70,64.89 479.30,64.73 479.90,65.13 480.50,65.22 481.10,66.53 481.70,66.62 482.30,66.65 482.90,66.67 483.50,66.70 484.10,66.72 484.70,66.75 485.30,66.77 485.90,66.80" fill="none" stroke="#2ee02e" stroke-width="1.1" stroke-linejoin="round" />
<polyline points="411.50,66.80 412.10,66.80 412.70,62.68 413.30,63.94 413.90,64.06 414.50,63.78 415.10,62.63 415.70,62.86 416.30,61.25 416.90,60.96 417.50,60.10 418.10,58.50 418.70,58.47 419.30,59.35 419.90,58.26 420.50,59.70 421.10,59.63 421.70,60.30 422.30,58.87 422.90,60.36 423.50,58.51 424.10,58.80 424.70,59.84 425.30,60.24 425.90,58.77 426.50,58.88 427.10,60.98 427.70,60.11 428.30,62.15 428.90,61.54 429.50,61.58 430.10,61.61 430.70,62.35 431.30,61.52 431.90,62.76 432.50,61.43 433.10,61.81 433.70,61.46 434.30,62.67 434.90,62.23 435.50,61.48 436.10,64.12 436.70,62.06 437.30,62.34 437.90,62.86 438.50,64.14 439.10,62.50 439.70,63.32 440.30,62.83 440.90,61.48 441.50,63.57 442.10,63.83 442.70,62.76 443.30,62.92 443.90,61.44 444.50,61.28 445.10,62.16 445.70,62.94 446.30,61.81 446.90,62.36 447.50,62.58 448.10,60.91 448.70,60.46 449.30,60.37 449.90,57.06 450.50,57.97 451.10,54.35 451.70,55.19 452.30,53.73 452.90,51.81 453.50,50.07 454.10,49.74 454.70,48.23 455.30,47.49 455.90,45.38 456.50,45.49 457.10,42.87 457.70,42.33 458.30,40.95 458.90,41.04 459.50,37.15 460.10,36.73 460.70,36.76 461.30,33.61 461.90,31.48 462.50,31.25 463.10,29.14 463.70,28.55 464.30,25.60 464.90,25.45 465.50,24.73 466.10,23.92 466.70,20.84 467.30,21.97 467.90,20.94 468.50,21.89 469.10,23.89 469.70,26.39 470.30,28.01 470.90,31.30 471.50,33.95 472.10,36.39 472.70,38.47 473.30,42.63 473.90,41.01 474.50,43.44 475.10,46.54 475.70,47.87 476.30,48.70 476.90,52.28 477.50,53.68 478.10,53.51 478.70,57.84 479.30,59.59 479.90,60.89 480.50,60.07 481.10,61.30 481.70,60.80 482.30,62.63 482.90,62.47 483.50,64.09 484.10,64.05 484.70,65.92 485.30,66.38 485.90,66.80 486.50,66.80 487.10,66.80 487.70,66.80 488.30,66.80 488.90,66.80 489.50,66.80" fill="none" stroke="#2a3ce8" stroke-width="1.0" stroke-linejoin="round" />
<polyline points="411.50,66.80 412.10,66.43 412.70,65.81 413.30,64.88 413.90,64.90 414.50,64.04 415.10,64.61 415.70,65.39 416.30,63.44 416.90,63.08 417.50,63.84 418.10,63.48 418.70,63.01 419.30,61.84 419.90,62.41 420.50,62.83 421.10,60.75 421.70,61.31 422.30,59.77 422.90,60.08 423.50,59.34 424.10,60.55 424.70,59.38 425.30,60.52 425.90,60.18 426.50,59.76 427.10,57.58 427.70,59.28 428.30,59.64 428.90,59.71 429.50,58.15 430.10,59.01 430.70,58.53 431.30,58.70 431.90,60.40 432.50,58.73 433.10,59.45 433.70,60.29 434.30,58.97 434.90,59.40 435.50,59.60 436.10,59.56 436.70,58.40 437.30,59.57 437.90,60.72 438.50,58.30 439.10,60.69 439.70,60.24 440.30,59.79 440.90,62.39 441.50,61.50 442.10,59.98 442.70,61.50 443.30,62.33 443.90,62.02 444.50,63.18 445.10,62.88 445.70,63.91 446.30,64.90 446.90,63.21 447.50,64.21 448.10,63.82 448.70,64.57 449.30,63.60 449.90,63.94 450.50,64.00 451.10,64.71 451.70,64.64 452.30,62.14 452.90,62.33 453.50,62.92 454.10,59.74 454.70,60.32 455.30,59.85 455.90,60.26 456.50,58.45 457.10,56.14 457.70,54.70 458.30,53.41 458.90,53.60 459.50,50.45 460.10,49.16 460.70,48.35 461.30,46.52 461.90,45.06 462.50,42.66 463.10,42.06 463.70,40.07 464.30,39.92 464.90,37.85 465.50,35.48 466.10,34.30 466.70,31.59 467.30,31.05 467.90,28.30 468.50,27.59 469.10,24.79 469.70,25.15 470.30,22.20 470.90,20.77 471.50,21.21 472.10,21.47 472.70,23.60 473.30,26.65 473.90,25.06 474.50,27.11 475.10,29.85 475.70,32.11 476.30,33.51 476.90,35.48 477.50,38.63 478.10,40.87 478.70,41.87 479.30,45.13 479.90,47.63 480.50,48.94 481.10,52.40 481.70,53.67 482.30,57.59 482.90,59.16 483.50,60.88 484.10,61.17 484.70,62.49 485.30,61.70 485.90,63.38 486.50,65.63 487.10,64.28 487.70,66.80 488.30,66.80 488.90,66.80 489.50,66.80 490.10,66.80 490.70,66.80 491.30,66.80 491.90,66.80" fill="none" stroke="#e82020" stroke-width="1.2" stroke-linejoin="round" />
<line x1="416.00" y1="79.60" x2="459.50" y2="79.60" stroke="#444" stroke-width="1.0" /><path d="M459.00 77.10L464.00 79.60L459.00 82.10Z" fill="#444"/>
<text x="418.80" y="91.30" font-size="7.9" fill="#1a1a1a" textLength="61.20" lengthAdjust="spacingAndGlyphs" style="stroke:#1a1a1a;stroke-width:0.158">Tyr–pentamer PE</text>
<text x="396.00" y="110.20" font-size="12.0" font-weight="bold" style="stroke:#000;stroke-width:0.360">G</text>
<text x="425.00" y="112.40" font-size="9.4" fill="#1a1a1a" textLength="69.20" lengthAdjust="spacingAndGlyphs" style="stroke:#1a1a1a;stroke-width:0.188">d15 post sorting</text>
<path d="M412.4 114.5H510.8V162.1" fill="none" stroke="#9a9a9a" stroke-width="0.8"/>
<line x1="412.40" y1="114.50" x2="412.40" y2="162.10" stroke="#222" stroke-width="0.8" />
<line x1="412.40" y1="162.10" x2="510.80" y2="162.10" stroke="#222" stroke-width="0.8" />
<line x1="411.20" y1="162.10" x2="412.40" y2="162.10" stroke="#222" stroke-width="0.5" />
<text x="410.80" y="163.30" font-size="3.4" text-anchor="end" fill="#333">0</text>
<line x1="411.20" y1="150.20" x2="412.40" y2="150.20" stroke="#222" stroke-width="0.5" />
<text x="410.80" y="151.40" font-size="3.4" text-anchor="end" fill="#333">5</text>
<line x1="411.20" y1="138.30" x2="412.40" y2="138.30" stroke="#222" stroke-width="0.5" />
<text x="410.80" y="139.50" font-size="3.4" text-anchor="end" fill="#333">10</text>
<line x1="411.20" y1="126.40" x2="412.40" y2="126.40" stroke="#222" stroke-width="0.5" />
<text x="410.80" y="127.60" font-size="3.4" text-anchor="end" fill="#333">15</text>
<line x1="411.20" y1="114.50" x2="412.40" y2="114.50" stroke="#222" stroke-width="0.5" />
<text x="410.80" y="115.70" font-size="3.4" text-anchor="end" fill="#333">20</text>
<line x1="412.40" y1="162.10" x2="412.40" y2="163.30" stroke="#222" stroke-width="0.5" />
<text x="409.53" y="167.70" font-size="3.8" fill="#222">10</text><text x="413.85" y="166.26" font-size="2.356" fill="#222">1</text>
<line x1="437.00" y1="162.10" x2="437.00" y2="163.30" stroke="#222" stroke-width="0.5" />
<text x="434.13" y="167.70" font-size="3.8" fill="#222">10</text><text x="438.45" y="166.26" font-size="2.356" fill="#222">2</text>
<line x1="461.60" y1="162.10" x2="461.60" y2="163.30" stroke="#222" stroke-width="0.5" />
<text x="458.73" y="167.70" font-size="3.8" fill="#222">10</text><text x="463.05" y="166.26" font-size="2.356" fill="#222">3</text>
<line x1="486.20" y1="162.10" x2="486.20" y2="163.30" stroke="#222" stroke-width="0.5" />
<text x="483.33" y="167.70" font-size="3.8" fill="#222">10</text><text x="487.65" y="166.26" font-size="2.356" fill="#222">4</text>
<line x1="510.80" y1="162.10" x2="510.80" y2="163.30" stroke="#222" stroke-width="0.5" />
<text x="507.93" y="167.70" font-size="3.8" fill="#222">10</text><text x="512.25" y="166.26" font-size="2.356" fill="#222">5</text>
<text x="406.80" y="142.80" font-size="4.0" fill="#444" transform="rotate(-90 406.80 142.80)">Count</text>
<polyline points="412.60,162.00 413.20,161.96 413.80,161.92 414.40,161.88 415.00,161.84 415.60,161.80 416.20,161.76 416.80,161.72 417.40,161.68 418.00,161.64 418.60,161.59 419.20,161.55 419.80,161.51 420.40,162.00 421.00,160.66 421.60,161.97 422.20,161.18 422.80,162.00 423.40,160.15 424.00,160.67 424.60,161.32 425.20,161.13 425.80,158.97 426.40,161.10 427.00,160.49 427.60,160.29 428.20,160.26 428.80,160.47 429.40,158.04 430.00,161.54 430.60,158.69 431.20,156.97 431.80,159.14 432.40,160.64 433.00,157.57 433.60,158.82 434.20,157.80 434.80,154.11 435.40,151.32 436.00,151.64 436.60,153.11 437.20,149.70 437.80,147.74 438.40,146.73 439.00,147.00 439.60,145.77 440.20,145.66 440.80,144.89 441.40,141.87 442.00,141.83 442.60,139.85 443.20,140.28 443.80,138.03 444.40,137.35 445.00,140.52 445.60,137.73 446.20,137.91 446.80,139.51 447.40,137.09 448.00,135.62 448.60,135.31 449.20,133.94 449.80,136.17 450.40,135.16 451.00,138.02 451.60,136.25 452.20,136.94 452.80,137.87 453.40,140.02 454.00,140.54 454.60,142.84 455.20,141.92 455.80,144.45 456.40,147.87 457.00,147.07 457.60,149.52 458.20,151.96 458.80,151.53 459.40,150.91 460.00,150.02 460.60,155.61 461.20,154.14 461.80,155.74 462.40,153.97 463.00,156.08 463.60,154.23 464.20,153.30 464.80,151.84 465.40,152.82 466.00,151.46 466.60,150.55 467.20,147.82 467.80,147.86 468.40,147.38 469.00,144.62 469.60,144.48 470.20,143.53 470.80,140.86 471.40,138.92 472.00,137.32 472.60,137.86 473.20,133.95 473.80,134.13 474.40,132.82 475.00,132.13 475.60,130.30 476.20,127.56 476.80,129.43 477.40,125.79 478.00,122.52 478.60,121.82 479.20,121.71 479.80,121.07 480.40,117.72 481.00,118.78 481.60,115.86 482.20,115.87 482.80,117.06 483.40,117.71 484.00,117.17 484.60,118.34 485.20,121.50 485.80,120.35 486.40,123.01 487.00,124.01 487.60,125.91 488.20,126.18 488.80,126.61 489.40,128.63 490.00,129.01 490.60,134.07 491.20,135.36 491.80,138.02 492.40,141.60 493.00,145.05 493.60,148.78 494.20,150.56 494.80,153.97 495.40,156.60 496.00,157.78 496.60,157.41 497.20,160.08 497.80,159.96 498.40,157.92 499.00,159.74 499.60,161.57 500.20,162.00 500.80,162.00 501.40,162.00 502.00,162.00 502.60,162.00 503.20,162.00 503.80,162.00 504.40,162.00 505.00,162.00 505.60,162.00 506.20,162.00 506.80,162.00 507.40,162.00 508.00,162.00 508.60,162.00 509.20,162.00 509.80,162.00" fill="none" stroke="#e82020" stroke-width="1.4" stroke-linejoin="round" />
<polyline points="412.60,162.00 413.20,161.98 413.80,161.95 414.40,161.93 415.00,161.90 415.60,161.88 416.20,161.85 416.80,161.83 417.40,161.81 418.00,161.78 418.60,161.76 419.20,161.73 419.80,161.71 420.40,161.69 421.00,161.66 421.60,161.64 422.20,161.61 422.80,161.59 423.40,161.56 424.00,161.54 424.60,161.52 425.20,161.68 425.80,159.50 426.40,162.00 427.00,160.96 427.60,160.48 428.20,161.79 428.80,159.62 429.40,161.48 430.00,159.02 430.60,160.95 431.20,158.92 431.80,157.84 432.40,158.75 433.00,156.90 433.60,158.52 434.20,157.08 434.80,156.86 435.40,155.55 436.00,154.21 436.60,153.87 437.20,154.25 437.80,151.91 438.40,150.36 439.00,149.26 439.60,149.30 440.20,147.95 440.80,150.66 441.40,146.54 442.00,146.20 442.60,146.68 443.20,147.38 443.80,145.83 444.40,144.64 445.00,144.49 445.60,144.72 446.20,145.99 446.80,143.32 447.40,144.06 448.00,143.12 448.60,143.92 449.20,143.68 449.80,141.63 450.40,146.70 451.00,144.50 451.60,144.10 452.20,144.13 452.80,145.49 453.40,146.44 454.00,147.71 454.60,147.61 455.20,148.78 455.80,146.87 456.40,148.25 457.00,148.17 457.60,149.80 458.20,150.37 458.80,148.29 459.40,150.07 460.00,151.37 460.60,150.70 461.20,147.36 461.80,148.48 462.40,147.31 463.00,145.48 463.60,147.16 464.20,142.26 464.80,142.07 465.40,141.75 466.00,140.29 466.60,138.50 467.20,139.06 467.80,137.85 468.40,135.91 469.00,134.28 469.60,131.19 470.20,128.03 470.80,130.23 471.40,124.73 472.00,126.88 472.60,122.37 473.20,121.12 473.80,119.25 474.40,119.50 475.00,116.64 475.60,118.36 476.20,117.01 476.80,118.12 477.40,118.77 478.00,121.34 478.60,122.80 479.20,126.88 479.80,127.52 480.40,126.33 481.00,131.83 481.60,128.92 482.20,135.39 482.80,133.06 483.40,137.09 484.00,139.84 484.60,140.63 485.20,141.09 485.80,145.26 486.40,142.81 487.00,144.36 487.60,148.94 488.20,147.41 488.80,149.91 489.40,151.71 490.00,151.71 490.60,153.27 491.20,154.19 491.80,155.40 492.40,157.67 493.00,158.47 493.60,158.84 494.20,160.53 494.80,159.64 495.40,160.23 496.00,162.00 496.60,162.00 497.20,162.00 497.80,162.00 498.40,162.00 499.00,162.00 499.60,162.00 500.20,162.00 500.80,162.00 501.40,162.00 502.00,162.00 502.60,162.00 503.20,162.00 503.80,162.00 504.40,162.00 505.00,162.00" fill="none" stroke="#2230e0" stroke-width="1.4" stroke-linejoin="round" />
<line x1="412.50" y1="173.80" x2="453.50" y2="173.80" stroke="#444" stroke-width="1.0" /><path d="M453.00 171.30L458.00 173.80L453.00 176.30Z" fill="#444"/>
<text x="413.80" y="185.50" font-size="8.0" fill="#1a1a1a" textLength="68.70" lengthAdjust="spacingAndGlyphs" style="stroke:#1a1a1a;stroke-width:0.160">Tyr–monomer APC</text>
<text x="294.60" y="231.20" font-size="12.6" font-weight="bold" style="stroke:#000;stroke-width:0.378">H</text>
<text x="320.80" y="230.70" font-size="9.4" fill="#1a1a1a" textLength="171.40" lengthAdjust="spacingAndGlyphs" style="stroke:#1a1a1a;stroke-width:0.188">Avidity is associated with CAR expression</text>
<text x="318.80" y="312.80" font-size="6.8" text-anchor="end" fill="#595959" style="stroke:#595959;stroke-width:0.136">0.8</text>
<line x1="326.00" y1="297.65" x2="481.70" y2="297.65" stroke="#d9d9d9" stroke-width="0.8" />
<text x="318.80" y="300.45" font-size="6.8" text-anchor="end" fill="#595959" style="stroke:#595959;stroke-width:0.136">1</text>
<line x1="326.00" y1="285.30" x2="481.70" y2="285.30" stroke="#d9d9d9" stroke-width="0.8" />
<text x="318.80" y="288.10" font-size="6.8" text-anchor="end" fill="#595959" style="stroke:#595959;stroke-width:0.136">1.2</text>
<line x1="326.00" y1="272.95" x2="481.70" y2="272.95" stroke="#d9d9d9" stroke-width="0.8" />
<text x="318.80" y="275.75" font-size="6.8" text-anchor="end" fill="#595959" style="stroke:#595959;stroke-width:0.136">1.4</text>
<line x1="326.00" y1="260.60" x2="481.70" y2="260.60" stroke="#d9d9d9" stroke-width="0.8" />
<text x="318.80" y="263.40" font-size="6.8" text-anchor="end" fill="#595959" style="stroke:#595959;stroke-width:0.136">1.6</text>
<line x1="326.00" y1="248.25" x2="481.70" y2="248.25" stroke="#d9d9d9" stroke-width="0.8" />
<text x="318.80" y="251.05" font-size="6.8" text-anchor="end" fill="#595959" style="stroke:#595959;stroke-width:0.136">1.8</text>
<line x1="326.00" y1="235.90" x2="481.70" y2="235.90" stroke="#d9d9d9" stroke-width="0.8" />
<text x="318.80" y="238.70" font-size="6.8" text-anchor="end" fill="#595959" style="stroke:#595959;stroke-width:0.136">2</text>
<line x1="326.00" y1="236.00" x2="326.00" y2="310.00" stroke="#bfbfbf" stroke-width="0.8" />
<line x1="326.00" y1="310.00" x2="481.70" y2="310.00" stroke="#bfbfbf" stroke-width="0.8" />
<text x="326.00" y="322.20" font-size="6.8" text-anchor="middle" fill="#595959" style="stroke:#595959;stroke-width:0.136">4.30</text>
<text x="364.90" y="322.20" font-size="6.8" text-anchor="middle" fill="#595959" style="stroke:#595959;stroke-width:0.136">4.80</text>
<text x="403.80" y="322.20" font-size="6.8" text-anchor="middle" fill="#595959" style="stroke:#595959;stroke-width:0.136">5.30</text>
<text x="442.70" y="322.20" font-size="6.8" text-anchor="middle" fill="#595959" style="stroke:#595959;stroke-width:0.136">5.80</text>
<text x="481.60" y="322.20" font-size="6.8" text-anchor="middle" fill="#595959" style="stroke:#595959;stroke-width:0.136">6.30</text>
<text x="373.40" y="336.20" font-size="7.8" fill="#262626" textLength="52.60" lengthAdjust="spacingAndGlyphs" style="stroke:#262626;stroke-width:0.156">log Expression</text>
<text x="302.00" y="286.20" font-size="7.8" fill="#262626" textLength="35.50" lengthAdjust="spacingAndGlyphs" transform="rotate(-90 302.00 286.20)" style="stroke:#262626;stroke-width:0.156">log avidity</text>
<text x="351.40" y="244.00" font-size="6.0" fill="#7f7f7f" style="font-style:italic">R</text>
<text x="355.40" y="241.40" font-size="3.8" fill="#7f7f7f">2</text>
<text x="358.20" y="244.00" font-size="6.0" fill="#7f7f7f" textLength="26.80" lengthAdjust="spacingAndGlyphs" style="stroke:#7f7f7f;stroke-width:0.120">= 0.8049</text>
<line x1="364.00" y1="288.00" x2="445.20" y2="247.30" stroke="#111" stroke-width="1.2" />
<path d="M358.30 301.80H365.90M362.10 298.00V305.60" stroke="#1fa050" stroke-width="2.3"/>
<circle cx="364.00" cy="288.00" r="2.4" fill="#1fa050"/>
<path d="M364.90 278.19L368.00 272.61L371.10 278.19Z" fill="#1fa050"/>
<rect x="374.80" y="272.70" width="5.40" height="5.40" fill="#1fa050" />
<path d="M398.70 269.50H406.30M402.50 265.70V273.30" stroke="#3a72b8" stroke-width="2.3"/>
<path d="M402.10 264.39L405.20 258.81L408.30 264.39Z" fill="#4a86c8"/>
<circle cx="410.60" cy="265.60" r="2.4" fill="#4a86c8"/>
<rect x="408.30" y="252.10" width="5.40" height="5.40" fill="#4a86c8" />
<rect x="438.60" y="242.30" width="5.40" height="5.40" fill="#e02828" />
<path d="M437.90 253.59L441.00 248.01L444.10 253.59Z" fill="#e02828"/>
<path d="M434.50 250.00H441.50M438.00 246.50V253.50" stroke="#e02828" stroke-width="2.3"/>
<circle cx="445.40" cy="258.40" r="2.4" fill="#e02828"/>
<rect x="487.80" y="237.40" width="2.40" height="2.40" fill="#e03030" />
<text x="492.70" y="241.00" font-size="7.0" fill="#e03030" textLength="14.80" lengthAdjust="spacingAndGlyphs" style="stroke:#e03030;stroke-width:0.140">High</text>
<rect x="487.80" y="246.50" width="2.40" height="2.40" fill="#3a3acc" />
<text x="492.70" y="250.10" font-size="7.0" fill="#3a3acc" textLength="13.60" lengthAdjust="spacingAndGlyphs" style="stroke:#3a3acc;stroke-width:0.140">Med</text>
<rect x="487.80" y="255.10" width="2.40" height="2.40" fill="#2aa040" />
<text x="492.70" y="258.70" font-size="7.0" fill="#2aa040" textLength="13.00" lengthAdjust="spacingAndGlyphs" style="stroke:#2aa040;stroke-width:0.140">Low</text>
<path d="M486.8 270H491.2M489 267.8V272.2" stroke="#111" stroke-width="1.0"/>
<path d="M486.9 282.0L489 278.4L491.1 282.0Z" fill="#111"/>
<circle cx="489" cy="291.4" r="1.5" fill="#111"/>
<rect x="487.50" y="301.30" width="3.00" height="3.00" fill="#111" />
<text x="492.70" y="272.00" font-size="5.6" fill="#333" textLength="26.30" lengthAdjust="spacingAndGlyphs" style="stroke:#333;stroke-width:0.112">434 nmol/L</text>
<text x="492.70" y="282.50" font-size="5.6" fill="#333" textLength="23.50" lengthAdjust="spacingAndGlyphs" style="stroke:#333;stroke-width:0.112">35 nmol/L</text>
<text x="492.70" y="293.40" font-size="5.6" fill="#333" textLength="23.50" lengthAdjust="spacingAndGlyphs" style="stroke:#333;stroke-width:0.112">16 nmol/L</text>
<text x="492.70" y="304.80" font-size="5.6" fill="#333" textLength="20.60" lengthAdjust="spacingAndGlyphs" style="stroke:#333;stroke-width:0.112">4 nmol/L</text>
<rect x="305.50" y="350.50" width="2.70" height="9.20" fill="#111" />
<text x="326.60" y="358.90" font-size="8.5" fill="#1a1a1a" textLength="172.40" lengthAdjust="spacingAndGlyphs" style="stroke:#1a1a1a;stroke-width:0.170">Ag density as a function of peptide concentration</text>
<line x1="343.00" y1="364.20" x2="495.60" y2="364.20" stroke="#d4d4d4" stroke-width="0.8" />
<line x1="343.00" y1="390.20" x2="495.60" y2="390.20" stroke="#d4d4d4" stroke-width="0.8" />
<line x1="343.00" y1="416.70" x2="495.60" y2="416.70" stroke="#d4d4d4" stroke-width="0.8" />
<line x1="376.96" y1="364.20" x2="376.96" y2="444.00" stroke="#d4d4d4" stroke-width="0.8" />
<line x1="410.92" y1="364.20" x2="410.92" y2="444.00" stroke="#d4d4d4" stroke-width="0.8" />
<line x1="444.88" y1="364.20" x2="444.88" y2="444.00" stroke="#d4d4d4" stroke-width="0.8" />
<line x1="478.84" y1="364.20" x2="478.84" y2="444.00" stroke="#d4d4d4" stroke-width="0.8" />
<line x1="343.00" y1="364.20" x2="343.00" y2="444.00" stroke="#8c8c8c" stroke-width="0.8" />
<line x1="343.00" y1="444.00" x2="495.60" y2="444.00" stroke="#8c8c8c" stroke-width="0.8" />
<line x1="343.00" y1="444.00" x2="343.00" y2="445.80" stroke="#8c8c8c" stroke-width="0.6" />
<text x="343.00" y="451.00" font-size="4.6" text-anchor="middle" fill="#666">−11</text>
<line x1="376.96" y1="444.00" x2="376.96" y2="445.80" stroke="#8c8c8c" stroke-width="0.6" />
<text x="376.96" y="451.00" font-size="4.6" text-anchor="middle" fill="#666">−9</text>
<line x1="410.92" y1="444.00" x2="410.92" y2="445.80" stroke="#8c8c8c" stroke-width="0.6" />
<text x="410.92" y="451.00" font-size="4.6" text-anchor="middle" fill="#666">−7</text>
<line x1="444.88" y1="444.00" x2="444.88" y2="445.80" stroke="#8c8c8c" stroke-width="0.6" />
<text x="444.88" y="451.00" font-size="4.6" text-anchor="middle" fill="#666">−5</text>
<line x1="478.84" y1="444.00" x2="478.84" y2="445.80" stroke="#8c8c8c" stroke-width="0.6" />
<text x="478.84" y="451.00" font-size="4.6" text-anchor="middle" fill="#666">−3</text>
<text x="337.80" y="365.90" font-size="5.0" text-anchor="end" fill="#666" textLength="13.00" lengthAdjust="spacingAndGlyphs">5,000</text>
<text x="337.80" y="391.90" font-size="5.0" text-anchor="end" fill="#666">50</text>
<text x="337.80" y="418.40" font-size="5.0" text-anchor="end" fill="#666">0.5</text>
<text x="337.80" y="445.70" font-size="5.0" text-anchor="end" fill="#666" textLength="14.00" lengthAdjust="spacingAndGlyphs">0.005</text>
<text x="320.40" y="425.60" font-size="7.4" fill="#262626" textLength="45.50" lengthAdjust="spacingAndGlyphs" transform="rotate(-90 320.40 425.60)" style="stroke:#262626;stroke-width:0.148">Sites per cell</text>
<text x="380.60" y="466.60" font-size="7.0" fill="#262626" textLength="76.60" lengthAdjust="spacingAndGlyphs" style="stroke:#262626;stroke-width:0.140">Peptride conc. [mol/L]</text>
<circle cx="359.98" cy="430.2" r="1.4" fill="#444"/>
<circle cx="359.98" cy="437.0" r="1.4" fill="#444"/>
<circle cx="359.98" cy="443.3" r="1.4" fill="#444"/>
<path d="M356.58 433.2H363.38M359.98 430.0V436.4" stroke="#111" stroke-width="1.7"/>
<circle cx="376.96" cy="416.8" r="1.4" fill="#444"/>
<circle cx="376.96" cy="428.1" r="1.4" fill="#444"/>
<circle cx="376.96" cy="432.7" r="1.4" fill="#444"/>
<path d="M373.56 420.6H380.36M376.96 417.40000000000003V423.8" stroke="#111" stroke-width="1.7"/>
<circle cx="393.94" cy="403.4" r="1.4" fill="#444"/>
<circle cx="393.94" cy="411.8" r="1.4" fill="#444"/>
<circle cx="393.94" cy="416.8" r="1.4" fill="#444"/>
<path d="M390.54 406.7H397.34M393.94 403.5V409.9" stroke="#111" stroke-width="1.7"/>
<circle cx="410.92" cy="389.6" r="1.4" fill="#444"/>
<circle cx="410.92" cy="396.7" r="1.4" fill="#444"/>
<circle cx="410.92" cy="400.1" r="1.4" fill="#444"/>
<path d="M407.52 392.3H414.32M410.92 389.1V395.5" stroke="#111" stroke-width="1.7"/>
<circle cx="427.90" cy="376.5" r="1.4" fill="#444"/>
<circle cx="427.90" cy="384.4" r="1.4" fill="#444"/>
<path d="M424.50 378.6H431.30M427.90 375.40000000000003V381.8" stroke="#111" stroke-width="1.7"/>
<circle cx="444.88" cy="371.3" r="1.4" fill="#444"/>
<path d="M441.48 369.4H448.28M444.88 366.2V372.59999999999997" stroke="#111" stroke-width="1.7"/>
<circle cx="461.86" cy="366.0" r="1.4" fill="#444"/>
<path d="M458.46 366.0H465.26M461.86 362.8V369.2" stroke="#111" stroke-width="1.7"/>
<circle cx="470.35" cy="365.6" r="1.4" fill="#444"/>
<path d="M466.95 365.6H473.75M470.35 362.40000000000003V368.8" stroke="#111" stroke-width="1.7"/>
<circle cx="478.84" cy="365.6" r="1.4" fill="#444"/>
<path d="M475.44 365.6H482.24M478.84 362.40000000000003V368.8" stroke="#111" stroke-width="1.7"/>
</svg></body></html>
